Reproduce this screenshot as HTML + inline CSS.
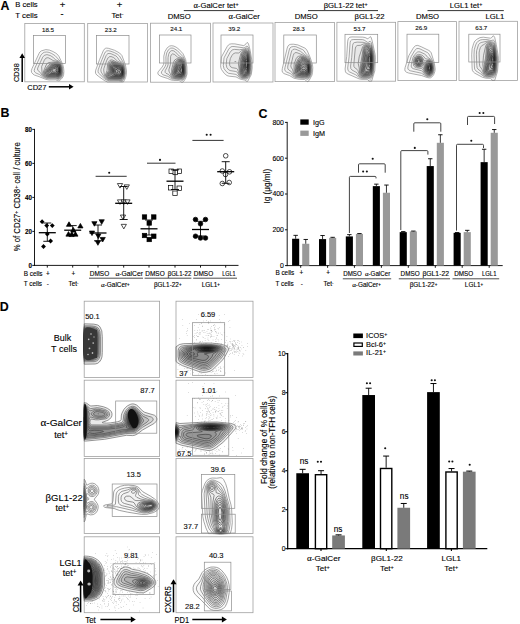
<!DOCTYPE html>
<html><head><meta charset="utf-8"><style>
html,body{margin:0;padding:0;background:#fff;width:520px;height:624px;overflow:hidden}
svg{display:block}
text{font-family:"Liberation Sans",sans-serif;stroke:#000;stroke-width:0.12px;stroke-linejoin:round}
</style></head><body>
<svg width="520" height="624" viewBox="0 0 520 624">
<rect width="520" height="624" fill="#fff"/>
<text x="0.6" y="9.6" font-size="12.4" text-anchor="start" font-weight="bold" fill="#000">A</text>
<text x="15.2" y="6.8" font-size="7.7" text-anchor="start" fill="#000" textLength="22.5" lengthAdjust="spacingAndGlyphs">B cells</text>
<text x="15.2" y="18" font-size="7.7" text-anchor="start" fill="#000" textLength="22.5" lengthAdjust="spacingAndGlyphs">T cells</text>
<text x="62.5" y="7.8" font-size="9.5" text-anchor="middle" fill="#000">+</text>
<text x="62.0" y="17" font-size="9" text-anchor="middle" fill="#000">-</text>
<text x="119.5" y="7.8" font-size="9.5" text-anchor="middle" fill="#000">+</text>
<text x="117.5" y="18" font-size="7.7" text-anchor="middle" fill="#000">Tet<tspan baseline-shift="35%" font-size="70%">-</tspan></text>
<text x="216" y="8" font-size="7.7" text-anchor="middle" fill="#000"><tspan font-family="Liberation Serif" font-size="110%">&#945;</tspan>-GalCer tet<tspan baseline-shift="35%" font-size="70%">+</tspan></text>
<line x1="183.8" y1="10.6" x2="253.8" y2="10.6" stroke="#000" stroke-width="0.8"/>
<text x="179.2" y="18.5" font-size="7.7" text-anchor="middle" fill="#000">DMSO</text>
<text x="244.2" y="18.5" font-size="7.7" text-anchor="middle" fill="#000"><tspan font-family="Liberation Serif" font-size="110%">&#945;</tspan>-GalCer</text>
<text x="345.6" y="8" font-size="7.7" text-anchor="middle" fill="#000">&#946;GL1-22 tet<tspan baseline-shift="35%" font-size="70%">+</tspan></text>
<line x1="308" y1="10.6" x2="378" y2="10.6" stroke="#000" stroke-width="0.8"/>
<text x="306.2" y="18.5" font-size="7.7" text-anchor="middle" fill="#000">DMSO</text>
<text x="369.6" y="18.5" font-size="7.7" text-anchor="middle" fill="#000">&#946;GL1-22</text>
<text x="466" y="8" font-size="7.7" text-anchor="middle" fill="#000">LGL1 tet<tspan baseline-shift="35%" font-size="70%">+</tspan></text>
<line x1="427.5" y1="10.6" x2="503.8" y2="10.6" stroke="#000" stroke-width="0.8"/>
<text x="427.5" y="18.5" font-size="7.7" text-anchor="middle" fill="#000">DMSO</text>
<text x="495" y="18.5" font-size="7.7" text-anchor="middle" fill="#000">LGL1</text>
<rect x="24.8" y="23.4" width="59.5" height="58.4" fill="none" stroke="#a0a0a0" stroke-width="0.8"/>
<path d="M59.2,80.8 58.1,80.8 55.5,79.9 49.1,80.0 45.8,79.4 39.0,76.6 34.5,75.1 33.0,74.1 31.7,72.6 31.3,70.8 32.0,68.6 39.0,53.5 39.9,52.0 41.3,50.9 45.8,49.6 49.5,50.1 52.9,51.5 55.9,53.2 57.6,54.6 59.0,56.5 62.8,64.5 63.6,68.2 63.9,71.5 63.6,74.8 62.9,77.0 61.1,79.3 59.2,80.8Z" fill="rgba(0,0,0,0.022)" stroke="#787878" stroke-width="0.6" stroke-linejoin="round"/>
<path d="M59.2,79.3 58.1,79.4 55.1,78.8 48.7,78.9 46.1,78.4 42.8,77.0 39.4,74.5 35.9,73.0 34.6,71.9 34.2,70.4 34.8,68.2 40.9,55.1 42.8,53.0 44.6,52.2 46.9,52.0 49.1,52.4 51.7,53.5 55.2,55.7 60.5,61.6 61.7,64.2 62.4,66.7 62.9,73.0 62.5,75.2 61.7,77.0 60.5,78.5 59.2,79.3Z" fill="rgba(0,0,0,0.022)" stroke="#717171" stroke-width="0.6" stroke-linejoin="round"/>
<path d="M59.2,78.5 58.1,78.6 55.1,78.1 48.7,78.2 45.8,77.6 42.3,75.6 40.1,72.3 37.8,70.4 37.5,68.9 38.1,67.1 42.7,57.2 44.3,55.3 46.9,54.6 50.2,55.5 52.9,57.1 55.5,59.8 58.9,61.1 60.3,62.7 61.8,66.7 62.3,72.6 61.4,76.3 60.4,77.7 59.2,78.5Z" fill="rgba(0,0,0,0.022)" stroke="#6a6a6a" stroke-width="0.6" stroke-linejoin="round"/>
<path d="M59.2,77.9 58.1,78.1 55.1,77.5 48.0,77.6 44.6,76.4 42.7,74.8 42.1,73.4 41.6,66.7 44.3,60.2 45.8,58.2 47.3,57.7 48.7,57.9 53.1,60.5 58.5,61.8 60.0,63.0 61.4,66.7 61.9,72.3 61.1,75.9 60.4,77.0 59.2,77.9Z" fill="rgba(0,0,0,0.022)" stroke="#646464" stroke-width="0.6" stroke-linejoin="round"/>
<path d="M58.9,77.4 55.1,77.0 48.0,77.0 45.4,76.1 43.7,74.8 43.1,73.4 43.3,71.9 46.2,64.9 47.6,63.0 48.7,62.6 53.6,62.0 58.1,62.4 59.6,63.4 61.0,66.7 61.5,72.3 60.7,75.6 60.0,76.7 58.9,77.4Z" fill="rgba(0,0,0,0.022)" stroke="#5d5d5d" stroke-width="0.6" stroke-linejoin="round"/>
<path d="M58.5,77.1 55.1,76.5 48.0,76.5 45.8,75.7 44.3,74.5 43.9,73.0 44.5,71.1 47.5,66.4 49.1,64.7 51.7,63.3 53.6,62.8 58.1,63.0 59.6,64.0 60.9,67.5 61.1,72.6 60.4,75.6 59.6,76.6 58.5,77.1Z" fill="rgba(0,0,0,0.022)" stroke="#565656" stroke-width="0.6" stroke-linejoin="round"/>
<path d="M58.1,76.7 55.1,76.1 48.4,76.1 46.1,75.3 44.9,74.1 44.7,73.0 45.0,71.9 47.3,68.3 49.5,65.7 52.1,64.0 54.0,63.4 58.1,63.5 59.2,64.1 60.0,65.3 60.9,69.3 60.8,73.4 59.7,75.9 58.1,76.7Z" fill="rgba(0,0,0,0.022)" stroke="#505050" stroke-width="0.6" stroke-linejoin="round"/>
<path d="M59.2,75.9 58.1,76.3 55.1,75.7 48.1,75.6 46.0,74.5 45.5,73.7 45.5,72.6 48.1,68.2 51.2,65.3 53.6,64.1 58.1,63.9 59.1,64.5 59.8,65.6 60.6,69.3 60.5,73.4 60.0,75.0 59.2,75.9Z" fill="rgba(0,0,0,0.022)" stroke="#494949" stroke-width="0.6" stroke-linejoin="round"/>
<path d="M58.9,75.7 57.7,75.8 55.1,75.2 48.4,75.1 46.6,74.1 46.2,73.4 46.3,72.3 48.9,68.2 51.7,65.6 54.0,64.6 58.1,64.4 58.9,64.8 59.7,66.0 60.5,70.0 60.2,73.7 59.6,75.1 58.9,75.7Z" fill="rgba(0,0,0,0.022)" stroke="#424242" stroke-width="0.6" stroke-linejoin="round"/>
<path d="M58.9,75.3 57.7,75.4 55.1,74.7 48.7,74.6 47.4,73.7 47.1,72.3 49.4,68.6 52.1,66.1 54.0,65.2 58.1,64.9 58.9,65.3 59.5,66.4 60.2,69.7 60.0,73.4 58.9,75.3Z" fill="rgba(0,0,0,0.022)" stroke="#3c3c3c" stroke-width="0.6" stroke-linejoin="round"/>
<path d="M58.9,74.9 57.7,75.0 55.1,74.2 49.5,74.1 48.3,73.4 48.1,71.9 49.9,68.9 52.5,66.6 54.0,65.9 58.1,65.3 58.9,65.8 59.4,66.7 60.0,69.7 59.9,73.0 58.9,74.9Z" fill="rgba(0,0,0,0.022)" stroke="#353535" stroke-width="0.6" stroke-linejoin="round"/>
<path d="M58.5,74.6 57.7,74.6 55.5,73.7 50.2,73.4 49.2,72.6 49.2,71.5 50.8,68.9 52.9,67.1 58.1,65.8 59.3,67.1 59.9,70.4 59.6,73.0 58.5,74.6Z" fill="rgba(0,0,0,0.022)" stroke="#2e2e2e" stroke-width="0.6" stroke-linejoin="round"/>
<path d="M58.5,74.1 57.7,74.1 55.5,73.1 52.5,73.0 51.0,72.6 50.4,71.9 50.7,70.4 51.8,68.9 53.2,67.8 58.1,66.4 59.2,67.8 59.6,70.0 59.4,72.6 58.5,74.1Z" fill="rgba(0,0,0,0.022)" stroke="#282828" stroke-width="0.6" stroke-linejoin="round"/>
<path d="M58.5,73.6 57.7,73.6 55.5,72.2 52.4,71.9 51.9,71.1 52.1,70.0 53.6,68.7 55.5,68.3 57.4,67.1 58.1,67.0 58.9,67.8 59.4,70.0 59.2,72.4 58.5,73.6Z" fill="rgba(0,0,0,0.022)" stroke="#212121" stroke-width="0.6" stroke-linejoin="round"/>
<path d="M58.1,73.0 56.9,72.3 55.9,70.4 56.5,68.9 57.7,67.7 58.6,68.2 59.1,70.0 58.9,72.3 58.1,73.0Z" fill="rgba(0,0,0,0.022)" stroke="#1a1a1a" stroke-width="0.6" stroke-linejoin="round"/>
<path d="M58.5,72.0 57.7,72.1 57.1,71.1 57.1,69.7 57.7,68.8 58.4,68.9 58.7,69.7 58.5,72.0Z" fill="rgba(0,0,0,0.022)" stroke="#141414" stroke-width="0.6" stroke-linejoin="round"/>
<rect x="33.4" y="35.4" width="32.00000000000001" height="28.0" fill="none" stroke="#8c8c8c" stroke-width="0.7"/>
<text x="48" y="31.599999999999998" font-size="6.2" text-anchor="middle" fill="#222">18.5</text>
<rect x="87.7" y="23.4" width="59.7" height="58.6" fill="none" stroke="#a0a0a0" stroke-width="0.8"/>
<path d="M123.0,82.0 107.4,82.0 104.2,80.4 98.6,76.4 96.7,74.9 95.7,73.5 95.4,72.0 95.7,70.2 99.6,59.5 103.3,50.7 104.2,49.3 105.3,48.4 106.5,48.1 108.4,48.3 114.4,50.2 119.6,53.0 121.9,55.5 125.4,64.7 126.5,70.9 126.3,74.6 125.6,77.6 124.3,80.5 123.4,82.0 123.0,82.0Z" fill="rgba(0,0,0,0.022)" stroke="#787878" stroke-width="0.6" stroke-linejoin="round"/>
<path d="M121.9,81.3 118.5,80.7 109.5,80.7 106.8,80.2 104.3,78.7 98.3,72.8 98.0,71.3 98.2,69.8 101.4,61.0 104.6,53.3 105.5,51.8 106.5,51.0 108.4,50.7 111.0,51.3 114.4,52.6 117.7,54.4 119.6,56.2 123.5,62.8 125.1,68.0 125.4,73.9 124.2,78.7 123.0,80.6 121.9,81.3Z" fill="rgba(0,0,0,0.022)" stroke="#717171" stroke-width="0.6" stroke-linejoin="round"/>
<path d="M122.2,80.2 121.1,80.5 118.1,80.0 109.9,80.0 107.2,79.5 105.7,78.7 104.6,77.6 101.1,72.0 100.8,69.8 102.3,65.0 106.0,55.8 106.8,54.5 107.9,53.6 109.1,53.4 111.0,53.7 115.9,55.9 117.4,57.3 119.5,60.6 121.9,62.2 123.2,63.9 124.6,68.4 124.9,73.2 124.1,77.6 123.4,79.1 122.2,80.2Z" fill="rgba(0,0,0,0.022)" stroke="#6a6a6a" stroke-width="0.6" stroke-linejoin="round"/>
<path d="M121.5,79.8 108.7,79.3 106.5,78.4 105.1,76.8 104.4,75.0 103.7,70.2 103.8,68.7 106.6,60.6 108.0,57.9 109.1,56.8 111.0,56.5 113.6,57.5 117.8,61.4 121.5,63.0 123.0,64.7 124.3,69.1 124.5,74.3 123.4,78.1 122.6,79.2 121.5,79.8Z" fill="rgba(0,0,0,0.022)" stroke="#646464" stroke-width="0.6" stroke-linejoin="round"/>
<path d="M121.9,79.1 109.1,78.8 107.2,78.1 106.0,76.8 105.5,74.6 107.0,70.6 107.6,64.3 108.4,62.1 109.9,60.4 111.4,59.9 112.9,60.2 118.3,62.8 121.5,63.9 122.6,65.0 123.8,68.4 124.2,73.2 123.5,76.8 122.7,78.3 121.9,79.1Z" fill="rgba(0,0,0,0.022)" stroke="#5d5d5d" stroke-width="0.6" stroke-linejoin="round"/>
<path d="M121.5,78.7 109.5,78.4 108.0,77.9 106.7,76.8 106.2,75.7 106.2,74.6 108.6,70.6 108.6,64.7 109.3,62.8 110.2,61.9 111.7,61.4 113.6,61.7 121.1,64.3 122.4,65.4 123.6,68.7 123.9,73.5 123.0,77.2 122.2,78.3 121.5,78.7Z" fill="rgba(0,0,0,0.022)" stroke="#565656" stroke-width="0.6" stroke-linejoin="round"/>
<path d="M121.1,78.4 109.9,78.0 108.4,77.5 107.2,76.6 106.9,75.4 107.1,74.3 109.5,70.6 109.4,65.0 109.9,63.7 110.6,62.8 112.1,62.3 114.0,62.5 121.1,64.8 122.3,65.8 123.4,69.1 123.7,73.5 122.9,76.8 122.2,77.8 121.1,78.4Z" fill="rgba(0,0,0,0.022)" stroke="#505050" stroke-width="0.6" stroke-linejoin="round"/>
<path d="M121.1,78.0 110.6,77.6 109.0,77.2 107.9,76.5 107.6,75.7 107.7,74.6 110.2,70.9 110.1,65.4 110.6,63.9 111.4,63.3 112.9,63.0 114.7,63.3 121.1,65.4 122.2,66.4 123.3,69.5 123.5,73.5 122.6,76.8 121.9,77.7 121.1,78.0Z" fill="rgba(0,0,0,0.022)" stroke="#494949" stroke-width="0.6" stroke-linejoin="round"/>
<path d="M120.7,77.6 111.0,77.1 109.5,76.8 108.6,76.1 108.5,74.6 110.8,70.9 110.6,65.8 111.0,64.7 111.6,63.9 112.9,63.6 115.1,64.0 121.1,65.9 122.2,66.9 123.2,70.2 123.2,73.9 122.2,76.8 121.5,77.5 120.7,77.6Z" fill="rgba(0,0,0,0.022)" stroke="#424242" stroke-width="0.6" stroke-linejoin="round"/>
<path d="M121.5,77.0 112.5,76.8 110.5,76.5 109.4,75.7 109.4,74.6 111.3,71.3 111.2,66.2 112.1,64.5 113.2,64.2 115.1,64.5 120.7,66.2 121.9,67.0 122.8,69.5 123.1,72.8 122.6,75.5 121.5,77.0Z" fill="rgba(0,0,0,0.022)" stroke="#3c3c3c" stroke-width="0.6" stroke-linejoin="round"/>
<path d="M121.5,76.6 113.6,76.4 111.7,76.1 110.5,75.4 110.4,74.6 111.9,71.3 111.7,66.5 112.5,65.1 113.6,64.8 115.5,65.1 120.7,66.7 121.9,67.6 122.7,69.8 122.9,72.8 122.5,75.0 121.5,76.6Z" fill="rgba(0,0,0,0.022)" stroke="#353535" stroke-width="0.6" stroke-linejoin="round"/>
<path d="M121.5,76.1 120.7,76.3 118.9,76.0 114.4,76.0 112.9,75.7 111.7,75.0 111.6,74.3 112.5,70.9 112.3,66.9 112.9,65.8 114.0,65.4 115.5,65.6 121.5,67.7 122.4,69.5 122.7,72.4 122.4,74.6 121.5,76.1Z" fill="rgba(0,0,0,0.022)" stroke="#2e2e2e" stroke-width="0.6" stroke-linejoin="round"/>
<path d="M121.1,75.8 118.9,75.4 114.7,75.4 112.9,74.6 112.6,73.9 113.0,70.9 112.9,67.6 113.6,66.3 115.9,66.2 121.5,68.4 122.3,70.2 122.5,72.8 122.0,75.0 121.1,75.8Z" fill="rgba(0,0,0,0.022)" stroke="#282828" stroke-width="0.6" stroke-linejoin="round"/>
<path d="M121.5,75.1 120.7,75.3 118.9,74.7 115.9,75.0 114.0,74.3 113.5,72.8 113.6,68.4 114.0,67.3 114.7,66.9 115.9,66.9 118.9,68.4 120.7,68.5 121.5,69.1 122.1,70.6 122.3,72.4 122.1,73.9 121.5,75.1Z" fill="rgba(0,0,0,0.022)" stroke="#212121" stroke-width="0.6" stroke-linejoin="round"/>
<path d="M121.1,74.7 118.9,73.8 116.2,74.2 114.7,73.5 114.4,72.4 114.3,69.8 114.9,68.0 115.5,67.8 116.6,67.9 119.2,69.6 121.1,69.5 121.9,70.8 122.0,72.4 121.7,73.9 121.1,74.7Z" fill="rgba(0,0,0,0.022)" stroke="#1a1a1a" stroke-width="0.6" stroke-linejoin="round"/>
<path d="M117.4,72.9 116.2,73.1 115.5,72.3 115.3,70.2 115.9,69.2 117.0,69.4 118.0,70.9 118.1,72.0 117.4,72.9ZM121.1,73.8 120.2,73.5 119.6,72.0 119.9,70.9 120.7,70.3 121.2,70.6 121.6,71.7 121.5,73.2 121.1,73.8Z" fill="rgba(0,0,0,0.022)" stroke="#141414" stroke-width="0.6" stroke-linejoin="round"/>
<rect x="96.6" y="35.5" width="32.400000000000006" height="28.5" fill="none" stroke="#8c8c8c" stroke-width="0.7"/>
<text x="110.8" y="31.599999999999998" font-size="6.2" text-anchor="middle" fill="#222">23.2</text>
<rect x="150.5" y="23.2" width="60.0" height="59.0" fill="none" stroke="#a0a0a0" stroke-width="0.8"/>
<path d="M182.6,82.2 181.6,82.2 180.2,81.1 178.8,80.5 173.5,80.4 170.9,79.9 167.7,78.5 161.1,76.4 158.8,75.1 158.0,74.0 157.8,72.9 158.2,71.8 162.2,67.0 163.6,64.4 163.9,62.5 163.8,56.2 165.0,51.4 167.3,47.7 169.7,46.0 171.6,45.7 173.9,46.1 176.2,47.2 178.9,49.2 183.0,53.7 185.7,59.6 186.9,67.0 187.0,74.0 185.8,78.1 183.7,81.4 182.6,82.2Z" fill="rgba(0,0,0,0.022)" stroke="#787878" stroke-width="0.6" stroke-linejoin="round"/>
<path d="M182.2,80.4 179.2,79.5 174.3,79.3 172.0,79.0 167.9,76.4 163.0,74.8 161.4,73.3 161.5,71.8 164.8,67.0 165.8,64.8 166.0,62.5 165.9,57.0 166.7,52.9 168.3,49.9 170.5,48.2 172.0,48.0 173.5,48.3 177.3,50.6 183.0,56.6 185.0,60.3 185.9,65.5 186.1,73.7 185.7,75.9 184.7,78.1 183.3,79.9 182.2,80.4Z" fill="rgba(0,0,0,0.022)" stroke="#717171" stroke-width="0.6" stroke-linejoin="round"/>
<path d="M182.6,79.3 172.4,78.2 170.9,77.2 168.6,74.5 166.0,73.3 165.0,72.2 165.2,70.7 167.2,67.0 168.0,64.8 168.0,57.7 168.6,54.4 169.7,51.9 171.3,50.7 173.1,50.6 175.4,51.9 179.2,56.0 183.0,58.1 184.3,60.3 185.3,65.5 185.6,72.9 184.6,77.0 183.7,78.5 182.6,79.3Z" fill="rgba(0,0,0,0.022)" stroke="#6a6a6a" stroke-width="0.6" stroke-linejoin="round"/>
<path d="M182.6,78.7 174.7,78.1 172.4,77.4 171.0,75.9 170.1,73.3 168.9,71.1 168.9,69.6 170.4,64.4 170.6,56.6 171.3,54.8 172.4,53.9 174.3,54.3 177.7,57.2 182.2,58.4 183.3,59.5 184.0,60.7 185.0,65.9 185.2,72.9 184.3,76.6 183.7,77.7 182.6,78.7Z" fill="rgba(0,0,0,0.022)" stroke="#646464" stroke-width="0.6" stroke-linejoin="round"/>
<path d="M182.2,78.1 173.9,77.3 172.6,76.6 171.7,75.1 171.7,69.2 173.4,62.5 174.7,60.0 176.5,58.9 178.8,58.7 181.8,59.0 183.0,59.9 183.9,61.8 184.7,67.0 184.8,73.3 183.9,76.6 183.0,77.7 182.2,78.1Z" fill="rgba(0,0,0,0.022)" stroke="#5d5d5d" stroke-width="0.6" stroke-linejoin="round"/>
<path d="M182.6,77.5 181.4,77.7 174.7,76.9 173.2,76.3 172.5,75.1 172.3,73.3 172.7,70.0 174.1,64.8 175.9,61.0 176.9,60.1 178.0,59.6 181.8,59.6 183.0,60.6 183.8,62.5 184.5,67.4 184.6,72.6 183.9,75.9 182.6,77.5Z" fill="rgba(0,0,0,0.022)" stroke="#565656" stroke-width="0.6" stroke-linejoin="round"/>
<path d="M182.6,77.0 181.4,77.3 175.0,76.5 173.7,75.9 173.0,74.8 173.4,70.3 174.9,65.1 176.8,61.4 177.7,60.6 178.8,60.1 181.1,60.0 182.2,60.4 183.0,61.4 183.7,63.3 184.3,67.7 184.3,72.6 183.7,75.5 182.6,77.0Z" fill="rgba(0,0,0,0.022)" stroke="#505050" stroke-width="0.6" stroke-linejoin="round"/>
<path d="M182.2,76.8 175.4,76.1 174.3,75.5 173.6,74.0 174.4,68.8 176.3,63.6 177.8,61.4 179.9,60.5 181.4,60.6 182.6,61.3 183.3,62.9 183.8,65.5 184.2,70.0 184.0,73.3 183.3,75.6 182.2,76.8Z" fill="rgba(0,0,0,0.022)" stroke="#494949" stroke-width="0.6" stroke-linejoin="round"/>
<path d="M182.2,76.4 181.1,76.5 175.8,75.7 174.7,75.0 174.2,73.7 174.9,69.2 176.8,64.0 178.4,61.8 180.3,61.1 181.8,61.3 182.6,62.0 183.7,66.2 183.8,73.3 183.2,75.1 182.2,76.4Z" fill="rgba(0,0,0,0.022)" stroke="#424242" stroke-width="0.6" stroke-linejoin="round"/>
<path d="M182.2,75.9 181.1,76.1 176.2,75.2 175.1,74.4 174.8,73.3 175.4,69.2 177.3,64.4 178.8,62.4 180.7,61.6 181.8,61.8 182.6,62.7 183.6,67.0 183.6,72.9 183.1,74.8 182.2,75.9Z" fill="rgba(0,0,0,0.022)" stroke="#3c3c3c" stroke-width="0.6" stroke-linejoin="round"/>
<path d="M181.8,75.6 176.5,74.7 175.7,74.0 175.4,72.9 176.0,69.2 177.7,65.2 179.2,63.1 181.1,62.2 181.8,62.5 182.6,63.6 183.5,68.8 183.2,73.7 182.6,75.1 181.8,75.6Z" fill="rgba(0,0,0,0.022)" stroke="#353535" stroke-width="0.6" stroke-linejoin="round"/>
<path d="M181.8,75.2 177.3,74.2 176.5,73.7 176.1,72.6 176.4,70.0 177.7,66.6 179.4,64.0 181.1,62.9 181.8,63.2 182.6,64.5 183.3,68.8 183.1,73.3 182.6,74.5 181.8,75.2Z" fill="rgba(0,0,0,0.022)" stroke="#2e2e2e" stroke-width="0.6" stroke-linejoin="round"/>
<path d="M181.8,74.6 181.1,74.7 177.9,73.7 177.3,73.2 176.8,72.2 177.0,70.3 178.0,67.8 179.9,64.8 181.1,63.8 181.8,64.1 182.3,64.8 183.1,68.8 183.0,72.6 182.6,73.8 181.8,74.6Z" fill="rgba(0,0,0,0.022)" stroke="#282828" stroke-width="0.6" stroke-linejoin="round"/>
<path d="M181.8,74.1 180.8,74.0 178.7,72.9 178.0,72.3 177.8,71.4 178.2,70.0 180.0,66.2 180.7,65.1 181.4,64.8 182.4,66.2 182.9,69.6 182.7,72.6 181.8,74.1Z" fill="rgba(0,0,0,0.022)" stroke="#212121" stroke-width="0.6" stroke-linejoin="round"/>
<path d="M181.8,73.3 181.1,73.4 180.4,72.9 179.4,71.1 180.3,67.4 181.4,66.0 182.2,66.9 182.6,69.2 182.5,71.8 181.8,73.3Z" fill="rgba(0,0,0,0.022)" stroke="#1a1a1a" stroke-width="0.6" stroke-linejoin="round"/>
<path d="M181.8,72.3 181.4,72.5 180.9,72.2 180.4,70.7 180.7,68.8 181.4,67.5 181.8,67.7 182.2,69.2 182.2,71.2 181.8,72.3Z" fill="rgba(0,0,0,0.022)" stroke="#141414" stroke-width="0.6" stroke-linejoin="round"/>
<rect x="159.5" y="35" width="31.5" height="28" fill="none" stroke="#8c8c8c" stroke-width="0.7"/>
<text x="176.3" y="31.4" font-size="6.2" text-anchor="middle" fill="#222">24.1</text>
<rect x="213" y="23.0" width="60" height="59.0" fill="none" stroke="#a0a0a0" stroke-width="0.8"/>
<path d="M247.7,81.3 247.0,81.5 244.7,80.1 240.2,79.1 236.0,76.9 229.2,76.2 227.0,75.6 224.4,73.5 221.4,69.4 220.8,67.5 220.6,65.7 221.4,57.1 227.1,46.7 228.5,44.9 229.6,44.2 231.5,43.8 234.9,43.9 243.6,45.6 244.7,45.2 247.0,42.5 247.7,42.7 248.5,43.9 250.2,50.5 252.0,61.2 252.2,67.9 251.3,74.6 247.7,81.3Z" fill="rgba(0,0,0,0.022)" stroke="#787878" stroke-width="0.6" stroke-linejoin="round"/>
<path d="M247.3,79.0 246.2,79.2 240.5,78.1 236.0,74.4 228.5,73.3 226.2,71.6 224.0,68.6 223.3,65.7 224.0,57.9 228.6,49.3 230.7,46.9 232.2,46.5 234.1,46.5 243.6,47.8 244.7,47.5 247.0,46.0 248.1,47.0 249.4,50.8 250.2,54.9 251.2,62.7 251.3,67.5 251.0,71.6 250.3,74.6 248.8,77.5 247.3,79.0Z" fill="rgba(0,0,0,0.022)" stroke="#717171" stroke-width="0.6" stroke-linejoin="round"/>
<path d="M247.3,78.0 246.2,78.2 243.9,78.1 240.9,77.4 239.3,76.1 237.5,72.7 236.8,71.9 235.3,71.4 230.0,70.6 228.2,69.4 226.8,67.5 226.2,64.6 226.8,58.6 230.1,52.3 232.2,49.9 234.5,49.4 239.4,49.8 244.3,49.0 246.6,48.0 247.3,48.2 248.1,49.1 249.1,51.9 249.8,56.0 250.6,62.3 250.7,67.5 249.8,74.2 248.8,76.4 247.3,78.0Z" fill="rgba(0,0,0,0.022)" stroke="#6a6a6a" stroke-width="0.6" stroke-linejoin="round"/>
<path d="M246.2,77.6 242.8,77.4 240.5,76.4 239.5,74.9 237.5,69.3 236.4,68.4 232.2,67.7 230.7,66.9 229.7,65.3 229.5,62.7 230.3,58.6 231.9,55.6 233.4,53.7 235.3,52.9 238.7,53.0 241.9,50.5 246.6,49.2 247.3,49.5 248.1,50.5 249.0,53.4 250.2,61.6 250.3,66.4 250.0,70.9 249.4,74.2 248.1,76.5 247.3,77.2 246.2,77.6Z" fill="rgba(0,0,0,0.022)" stroke="#646464" stroke-width="0.6" stroke-linejoin="round"/>
<path d="M246.6,76.9 242.8,76.8 241.3,76.1 240.5,75.3 239.6,72.7 238.4,63.8 239.6,57.9 241.2,52.7 242.8,51.1 246.2,50.2 247.5,50.8 248.5,53.1 249.5,58.6 249.9,64.2 249.8,69.4 249.2,73.5 248.1,75.7 246.6,76.9ZM235.3,62.0 235.0,61.6 235.3,61.1 235.7,61.6 235.3,62.0Z" fill="rgba(0,0,0,0.022)" stroke="#5d5d5d" stroke-width="0.6" stroke-linejoin="round"/>
<path d="M246.2,76.5 242.8,76.3 241.7,75.8 240.9,74.9 240.2,72.7 239.7,66.8 240.4,59.7 241.8,53.4 243.2,51.8 246.2,50.9 247.3,51.4 248.4,53.8 249.4,60.1 249.7,64.6 249.5,69.4 248.9,73.1 247.7,75.6 246.2,76.5Z" fill="rgba(0,0,0,0.022)" stroke="#565656" stroke-width="0.6" stroke-linejoin="round"/>
<path d="M245.5,76.1 242.8,75.8 241.3,74.5 240.6,72.0 240.4,66.8 241.2,59.7 242.3,54.2 243.6,52.4 246.2,51.6 247.4,52.3 248.4,55.3 249.3,61.6 249.4,66.8 249.0,71.2 248.4,73.8 247.3,75.4 245.5,76.1Z" fill="rgba(0,0,0,0.022)" stroke="#505050" stroke-width="0.6" stroke-linejoin="round"/>
<path d="M246.6,75.4 243.9,75.6 242.1,74.7 241.2,72.7 241.0,69.0 241.5,62.3 242.8,54.9 243.9,53.0 246.2,52.2 247.3,53.0 248.1,55.1 249.2,63.8 249.0,68.6 248.5,72.4 247.7,74.4 246.6,75.4Z" fill="rgba(0,0,0,0.022)" stroke="#494949" stroke-width="0.6" stroke-linejoin="round"/>
<path d="M246.2,75.0 243.9,75.1 242.4,74.2 241.7,72.4 241.5,68.6 242.0,62.3 243.2,55.9 244.3,53.8 246.2,52.9 247.3,53.9 248.0,56.0 249.0,64.2 248.8,69.0 248.2,72.4 247.4,74.2 246.2,75.0Z" fill="rgba(0,0,0,0.022)" stroke="#424242" stroke-width="0.6" stroke-linejoin="round"/>
<path d="M245.8,74.6 243.9,74.5 242.6,73.5 242.1,71.6 242.0,68.6 242.6,62.3 243.6,56.8 244.7,54.5 246.2,53.7 247.2,54.5 247.9,56.8 248.6,61.2 248.8,64.9 248.5,69.0 247.9,72.4 247.0,74.1 245.8,74.6Z" fill="rgba(0,0,0,0.022)" stroke="#3c3c3c" stroke-width="0.6" stroke-linejoin="round"/>
<path d="M246.2,74.0 244.3,73.9 243.2,73.1 242.7,71.6 242.6,69.0 243.1,63.1 243.9,58.2 244.9,55.7 246.2,54.6 247.0,55.1 247.7,57.1 248.6,64.2 247.9,71.2 247.3,72.9 246.2,74.0Z" fill="rgba(0,0,0,0.022)" stroke="#353535" stroke-width="0.6" stroke-linejoin="round"/>
<path d="M246.6,73.1 245.5,73.4 243.9,72.7 243.4,71.6 243.2,69.4 244.2,59.7 245.1,56.8 246.2,55.6 247.0,56.2 247.6,57.9 248.4,63.4 247.9,69.8 247.3,72.0 246.6,73.1Z" fill="rgba(0,0,0,0.022)" stroke="#2e2e2e" stroke-width="0.6" stroke-linejoin="round"/>
<path d="M246.2,72.5 245.1,72.4 244.3,71.6 243.9,68.3 244.6,60.5 245.4,57.9 246.2,56.8 247.0,57.2 247.5,58.6 248.1,64.2 247.6,69.8 247.0,71.8 246.2,72.5Z" fill="rgba(0,0,0,0.022)" stroke="#282828" stroke-width="0.6" stroke-linejoin="round"/>
<path d="M246.2,71.5 245.5,71.3 244.8,70.1 244.6,66.4 245.3,60.1 245.8,58.5 246.6,58.0 247.3,59.4 247.7,60.8 247.9,64.9 247.3,69.6 246.2,71.5Z" fill="rgba(0,0,0,0.022)" stroke="#212121" stroke-width="0.6" stroke-linejoin="round"/>
<path d="M246.6,69.8 245.8,69.8 245.5,69.0 245.2,65.7 245.6,61.2 246.1,59.7 246.6,59.3 247.3,60.9 247.6,63.8 247.3,67.8 246.6,69.8Z" fill="rgba(0,0,0,0.022)" stroke="#1a1a1a" stroke-width="0.6" stroke-linejoin="round"/>
<path d="M246.6,67.9 246.2,67.9 245.9,67.2 245.7,64.6 245.9,62.3 246.6,61.0 247.0,61.6 247.3,63.8 247.0,66.8 246.6,67.9Z" fill="rgba(0,0,0,0.022)" stroke="#141414" stroke-width="0.6" stroke-linejoin="round"/>
<rect x="221" y="35" width="32" height="28" fill="none" stroke="#8c8c8c" stroke-width="0.7"/>
<text x="234.3" y="31.2" font-size="6.2" text-anchor="middle" fill="#222">39.2</text>
<rect x="275" y="22.4" width="59.39999999999998" height="59.199999999999996" fill="none" stroke="#a0a0a0" stroke-width="0.8"/>
<path d="M307.9,81.6 307.1,81.6 305.6,80.1 304.5,79.5 299.3,79.3 294.1,78.3 289.6,75.6 284.0,73.6 282.5,72.3 282.1,70.8 282.3,68.6 287.2,48.1 288.0,45.9 289.2,44.8 290.7,44.3 293.3,44.2 297.8,44.9 304.9,48.1 306.2,49.2 307.4,51.1 310.3,57.8 312.5,64.8 312.8,67.8 312.5,72.7 311.9,75.3 309.0,80.7 307.9,81.6Z" fill="rgba(0,0,0,0.022)" stroke="#787878" stroke-width="0.6" stroke-linejoin="round"/>
<path d="M307.5,79.4 304.9,78.4 300.4,78.3 294.8,77.3 293.2,76.4 290.3,73.6 286.4,71.9 285.1,70.8 284.7,69.3 285.0,67.5 289.2,50.0 289.9,48.0 291.1,47.0 293.3,46.5 295.9,46.7 302.6,49.6 304.1,50.8 305.7,53.3 307.9,55.5 309.0,57.2 311.4,64.5 311.8,69.7 311.4,73.4 310.8,75.6 309.0,78.5 307.5,79.4Z" fill="rgba(0,0,0,0.022)" stroke="#717171" stroke-width="0.6" stroke-linejoin="round"/>
<path d="M307.5,78.3 304.9,77.6 298.9,77.4 295.2,76.6 293.4,75.3 291.4,71.7 288.8,70.0 287.9,68.9 287.7,67.8 287.8,66.0 291.1,52.9 291.8,50.7 292.9,49.5 294.4,49.1 295.9,49.3 300.4,51.2 304.7,54.8 307.5,56.6 308.9,58.5 311.0,65.2 311.1,70.4 310.3,75.3 309.0,77.4 307.5,78.3Z" fill="rgba(0,0,0,0.022)" stroke="#6a6a6a" stroke-width="0.6" stroke-linejoin="round"/>
<path d="M307.5,77.5 304.9,77.0 301.2,77.1 297.0,76.5 295.2,75.8 293.9,74.5 292.6,69.7 291.0,67.1 290.8,65.6 293.2,55.5 294.0,53.7 294.8,52.8 295.9,52.6 297.0,52.7 302.6,54.9 307.1,57.3 308.6,59.2 310.6,65.2 310.7,70.1 310.0,74.9 308.8,76.8 307.5,77.5Z" fill="rgba(0,0,0,0.022)" stroke="#646464" stroke-width="0.6" stroke-linejoin="round"/>
<path d="M307.9,76.8 298.2,76.1 295.9,75.4 294.6,74.2 294.1,71.5 294.0,66.0 294.2,63.7 296.2,58.5 297.0,57.3 298.5,56.3 301.2,55.8 303.8,56.5 307.1,58.3 308.7,60.4 310.2,65.2 310.4,69.7 309.7,74.5 308.8,76.0 307.9,76.8Z" fill="rgba(0,0,0,0.022)" stroke="#5d5d5d" stroke-width="0.6" stroke-linejoin="round"/>
<path d="M307.1,76.4 304.9,76.0 301.2,76.0 297.8,75.5 295.9,74.7 295.1,73.4 295.0,68.6 295.8,63.7 298.1,58.9 299.3,57.6 300.4,56.9 303.0,56.9 306.8,58.7 308.2,60.4 309.2,62.6 310.1,67.1 309.9,72.3 308.9,75.3 308.2,76.0 307.1,76.4Z" fill="rgba(0,0,0,0.022)" stroke="#565656" stroke-width="0.6" stroke-linejoin="round"/>
<path d="M307.9,75.8 307.1,76.0 304.9,75.5 301.5,75.6 298.9,75.3 296.8,74.5 295.8,73.4 295.5,70.4 296.5,64.5 298.8,59.6 300.8,57.7 303.0,57.6 306.0,59.0 307.5,60.1 308.8,62.2 309.8,66.0 309.8,70.1 309.3,73.8 308.6,75.1 307.9,75.8Z" fill="rgba(0,0,0,0.022)" stroke="#505050" stroke-width="0.6" stroke-linejoin="round"/>
<path d="M307.9,75.3 307.1,75.5 304.9,75.0 299.3,74.8 297.4,74.2 296.4,73.0 296.1,70.1 297.1,64.8 299.2,60.4 301.2,58.4 303.4,58.3 306.4,59.9 307.5,60.7 308.6,62.6 309.5,66.0 309.6,69.7 309.1,73.4 307.9,75.3Z" fill="rgba(0,0,0,0.022)" stroke="#494949" stroke-width="0.6" stroke-linejoin="round"/>
<path d="M307.5,75.0 304.5,74.5 299.7,74.4 298.0,73.8 297.0,72.7 296.8,69.7 297.7,65.2 299.7,61.0 301.5,59.1 303.4,59.0 306.8,60.8 307.9,61.9 308.6,63.4 309.4,66.7 309.3,70.8 308.7,73.8 307.5,75.0Z" fill="rgba(0,0,0,0.022)" stroke="#424242" stroke-width="0.6" stroke-linejoin="round"/>
<path d="M307.5,74.6 304.5,74.0 300.0,73.9 298.5,73.3 297.6,72.3 297.4,69.4 298.3,65.2 300.2,61.5 301.9,59.8 303.4,59.8 306.8,61.5 307.9,62.5 308.6,64.1 309.2,67.1 309.1,70.8 308.5,73.4 307.5,74.6Z" fill="rgba(0,0,0,0.022)" stroke="#3c3c3c" stroke-width="0.6" stroke-linejoin="round"/>
<path d="M307.1,74.2 304.9,73.5 300.0,73.3 298.9,72.7 298.2,71.6 298.1,68.9 298.9,65.5 300.8,61.9 302.3,60.6 303.4,60.7 307.1,62.4 308.5,64.5 309.0,67.5 308.8,71.2 308.2,73.3 307.1,74.2Z" fill="rgba(0,0,0,0.022)" stroke="#353535" stroke-width="0.6" stroke-linejoin="round"/>
<path d="M307.5,73.6 306.8,73.7 304.5,72.8 300.8,72.8 299.7,72.2 298.9,71.2 298.8,68.9 299.4,66.0 300.8,63.3 302.3,61.8 303.4,61.8 305.2,62.6 306.8,62.8 307.5,63.4 308.2,64.5 308.7,66.7 308.8,69.7 308.4,72.3 307.5,73.6Z" fill="rgba(0,0,0,0.022)" stroke="#2e2e2e" stroke-width="0.6" stroke-linejoin="round"/>
<path d="M307.1,73.2 304.5,72.1 301.2,72.1 299.7,70.8 299.5,68.9 300.0,66.5 301.2,64.3 302.3,63.2 303.4,63.1 304.9,63.7 306.8,63.6 307.9,64.6 308.5,66.7 308.6,69.7 308.0,72.3 307.1,73.2Z" fill="rgba(0,0,0,0.022)" stroke="#282828" stroke-width="0.6" stroke-linejoin="round"/>
<path d="M307.5,72.3 306.8,72.5 304.5,71.2 301.9,71.3 300.8,70.5 300.4,69.3 300.7,67.5 301.3,66.0 302.3,64.8 303.0,64.6 304.9,65.0 306.8,64.3 307.5,64.8 308.2,66.3 308.4,68.6 308.1,70.8 307.5,72.3Z" fill="rgba(0,0,0,0.022)" stroke="#212121" stroke-width="0.6" stroke-linejoin="round"/>
<path d="M307.1,71.7 306.4,71.5 304.5,69.4 303.0,70.0 302.0,69.7 301.7,68.6 302.3,67.1 303.0,66.7 304.5,67.1 306.4,65.3 307.1,65.3 307.5,65.6 307.9,66.7 308.1,68.9 307.8,70.8 307.1,71.7Z" fill="rgba(0,0,0,0.022)" stroke="#1a1a1a" stroke-width="0.6" stroke-linejoin="round"/>
<path d="M307.1,70.6 306.4,70.2 305.9,68.6 306.2,67.1 306.8,66.3 307.5,66.8 307.7,67.8 307.6,69.7 307.1,70.6Z" fill="rgba(0,0,0,0.022)" stroke="#141414" stroke-width="0.6" stroke-linejoin="round"/>
<rect x="283.8" y="35" width="32.5" height="28" fill="none" stroke="#8c8c8c" stroke-width="0.7"/>
<text x="298.8" y="30.599999999999998" font-size="6.2" text-anchor="middle" fill="#222">28.3</text>
<rect x="336.9" y="22.3" width="58.700000000000045" height="58.900000000000006" fill="none" stroke="#a0a0a0" stroke-width="0.8"/>
<path d="M371.6,81.2 368.9,81.2 368.3,80.0 367.2,79.4 362.0,79.4 359.1,78.9 348.0,74.0 346.4,73.1 345.5,71.9 345.1,69.0 346.7,56.4 347.7,41.2 348.3,38.6 349.8,37.2 352.0,36.9 362.7,37.1 365.0,37.5 367.5,38.7 368.3,38.5 370.1,36.6 370.9,37.0 371.2,37.6 372.1,40.5 375.1,54.5 375.4,57.9 374.8,70.8 371.6,81.2Z" fill="rgba(0,0,0,0.022)" stroke="#787878" stroke-width="0.6" stroke-linejoin="round"/>
<path d="M370.5,79.1 367.5,78.3 362.4,78.4 359.8,77.9 355.7,74.8 349.5,71.9 348.0,70.5 347.7,67.9 349.1,56.8 350.1,42.7 350.6,40.8 351.7,39.8 353.9,39.5 362.4,39.6 364.2,40.1 367.5,42.3 368.3,42.3 370.1,41.2 371.2,42.4 372.4,46.4 374.3,55.3 374.4,61.6 373.6,71.9 372.1,76.8 371.2,78.5 370.5,79.1Z" fill="rgba(0,0,0,0.022)" stroke="#717171" stroke-width="0.6" stroke-linejoin="round"/>
<path d="M370.5,77.7 362.7,77.7 360.2,77.1 358.8,76.0 356.8,72.7 352.1,70.1 350.8,68.6 350.6,66.0 351.7,57.5 352.6,45.6 353.1,43.5 354.3,42.6 357.2,42.1 363.1,42.3 367.5,43.6 370.1,43.4 371.2,44.7 372.1,47.5 373.7,54.9 373.9,61.6 373.2,71.2 371.9,75.6 370.5,77.7Z" fill="rgba(0,0,0,0.022)" stroke="#6a6a6a" stroke-width="0.6" stroke-linejoin="round"/>
<path d="M363.9,77.1 361.3,76.8 359.6,75.6 357.9,70.5 357.2,69.5 354.5,67.5 353.9,66.4 353.8,64.9 355.2,49.0 355.8,46.7 357.2,45.5 360.5,45.3 363.1,44.1 364.6,43.8 369.8,44.6 370.5,45.0 371.2,46.0 373.3,54.9 373.4,61.9 372.9,70.5 371.2,75.9 370.5,76.7 369.8,77.0 363.9,77.1Z" fill="rgba(0,0,0,0.022)" stroke="#646464" stroke-width="0.6" stroke-linejoin="round"/>
<path d="M366.1,76.4 362.0,76.3 360.9,75.8 360.2,75.0 359.6,73.4 359.2,67.9 358.2,63.4 359.2,56.8 362.5,47.1 363.5,45.6 365.3,44.9 369.8,45.6 370.9,46.7 372.5,52.7 373.1,57.9 372.7,69.3 371.6,73.9 370.9,75.4 370.1,76.1 366.1,76.4Z" fill="rgba(0,0,0,0.022)" stroke="#5d5d5d" stroke-width="0.6" stroke-linejoin="round"/>
<path d="M365.3,76.0 362.7,76.0 361.2,75.3 360.4,73.8 360.2,71.2 360.5,65.3 363.2,48.6 364.1,46.4 365.7,45.6 369.8,46.4 370.9,47.7 372.5,54.5 372.8,60.5 372.3,69.7 371.1,74.2 369.8,75.6 365.3,76.0Z" fill="rgba(0,0,0,0.022)" stroke="#565656" stroke-width="0.6" stroke-linejoin="round"/>
<path d="M368.3,75.3 364.6,75.6 362.4,75.3 361.3,74.3 360.9,72.7 361.2,66.8 362.2,61.6 363.8,49.3 364.6,47.1 366.1,46.3 369.4,47.0 370.5,48.0 371.6,51.2 372.5,56.4 372.5,63.4 371.8,71.2 370.5,74.4 369.8,75.0 368.3,75.3Z" fill="rgba(0,0,0,0.022)" stroke="#505050" stroke-width="0.6" stroke-linejoin="round"/>
<path d="M366.8,74.9 364.2,75.1 362.7,74.8 361.8,73.8 361.4,71.9 361.8,67.1 362.8,61.9 364.3,50.5 365.1,47.9 366.4,47.1 369.4,47.7 370.5,48.9 371.8,53.4 372.3,58.2 372.0,68.2 371.2,72.1 370.5,73.7 369.8,74.4 366.8,74.9Z" fill="rgba(0,0,0,0.022)" stroke="#494949" stroke-width="0.6" stroke-linejoin="round"/>
<path d="M366.1,74.5 364.0,74.5 362.7,74.0 362.1,72.7 362.0,70.8 362.4,67.1 363.5,61.6 364.7,51.6 365.5,49.0 366.1,48.3 366.8,48.1 369.5,48.6 370.9,50.7 372.0,55.6 372.1,61.9 371.6,69.0 370.8,72.3 369.4,74.0 366.1,74.5Z" fill="rgba(0,0,0,0.022)" stroke="#424242" stroke-width="0.6" stroke-linejoin="round"/>
<path d="M367.2,73.8 365.0,74.0 363.5,73.6 362.7,72.3 362.6,70.1 364.1,61.9 365.5,51.6 366.4,49.7 368.6,49.3 369.4,49.4 370.1,50.1 371.4,53.8 371.9,57.5 371.8,63.8 371.3,69.3 370.6,71.9 369.4,73.3 367.2,73.8Z" fill="rgba(0,0,0,0.022)" stroke="#3c3c3c" stroke-width="0.6" stroke-linejoin="round"/>
<path d="M365.7,73.4 364.2,73.1 363.5,72.3 363.2,70.8 363.4,68.2 364.7,62.3 365.2,57.1 366.1,52.8 367.2,51.0 369.0,50.3 369.8,50.5 370.5,51.6 371.6,56.0 371.7,61.9 371.2,68.6 370.7,70.8 369.8,72.3 365.7,73.4Z" fill="rgba(0,0,0,0.022)" stroke="#353535" stroke-width="0.6" stroke-linejoin="round"/>
<path d="M367.2,72.4 365.7,72.7 364.6,72.3 364.0,71.2 364.0,69.0 365.4,62.7 366.6,54.5 367.7,52.3 368.6,51.5 369.4,51.3 370.5,52.6 371.4,56.4 371.5,61.6 371.1,67.1 370.1,71.1 369.4,71.8 367.2,72.4Z" fill="rgba(0,0,0,0.022)" stroke="#2e2e2e" stroke-width="0.6" stroke-linejoin="round"/>
<path d="M366.4,71.6 365.7,71.6 365.0,70.9 364.8,68.6 366.3,63.0 367.2,55.6 368.2,53.4 369.4,52.4 370.5,53.5 371.2,57.0 371.2,62.6 370.7,67.9 369.8,70.6 366.4,71.6Z" fill="rgba(0,0,0,0.022)" stroke="#282828" stroke-width="0.6" stroke-linejoin="round"/>
<path d="M369.0,69.7 366.8,69.2 366.5,68.6 367.3,64.9 367.8,56.8 368.5,54.5 369.4,53.4 370.1,53.8 370.8,55.6 371.1,60.8 370.3,67.9 369.8,69.3 369.0,69.7Z" fill="rgba(0,0,0,0.022)" stroke="#212121" stroke-width="0.6" stroke-linejoin="round"/>
<path d="M369.4,67.6 368.9,67.1 368.5,65.6 368.2,59.3 368.7,56.0 369.2,54.9 369.8,54.6 370.6,56.4 370.8,60.8 370.1,66.3 369.4,67.6Z" fill="rgba(0,0,0,0.022)" stroke="#1a1a1a" stroke-width="0.6" stroke-linejoin="round"/>
<path d="M369.8,64.5 369.4,64.4 369.1,63.4 368.9,60.1 369.0,57.5 369.8,56.1 370.3,57.1 370.5,59.7 370.2,63.0 369.8,64.5Z" fill="rgba(0,0,0,0.022)" stroke="#141414" stroke-width="0.6" stroke-linejoin="round"/>
<rect x="345" y="34.3" width="32.69999999999999" height="28.400000000000006" fill="none" stroke="#8c8c8c" stroke-width="0.7"/>
<text x="359.5" y="30.5" font-size="6.2" text-anchor="middle" fill="#222">53.7</text>
<rect x="397.9" y="21.6" width="58.5" height="58.99999999999999" fill="none" stroke="#a0a0a0" stroke-width="0.8"/>
<path d="M430.6,77.8 429.2,77.9 427.0,77.5 421.8,75.6 408.6,73.0 406.4,72.2 405.1,71.0 404.8,69.5 405.1,67.6 408.8,55.7 413.1,48.3 414.5,46.5 415.6,45.7 417.8,45.4 421.1,46.7 428.8,50.4 430.3,51.5 431.2,52.8 434.4,63.2 435.2,69.1 434.8,71.7 433.7,74.7 432.4,76.5 430.6,77.8Z" fill="rgba(0,0,0,0.022)" stroke="#787878" stroke-width="0.6" stroke-linejoin="round"/>
<path d="M430.6,76.5 428.8,76.8 426.2,76.2 421.4,73.2 410.4,70.8 408.9,70.1 408.0,69.1 407.8,68.0 408.1,66.1 411.2,56.5 414.7,50.5 416.7,48.6 418.1,48.4 420.0,48.9 427.7,52.7 428.8,53.9 432.3,60.2 433.8,64.6 434.2,69.8 433.1,73.9 432.1,75.4 430.6,76.5Z" fill="rgba(0,0,0,0.022)" stroke="#717171" stroke-width="0.6" stroke-linejoin="round"/>
<path d="M430.3,75.9 428.4,76.0 426.2,75.4 424.6,74.3 422.6,71.6 421.4,70.7 413.7,68.8 412.2,68.1 411.5,67.2 411.2,66.1 411.4,64.3 413.1,57.2 414.8,54.5 417.4,52.1 418.5,51.8 420.0,51.9 424.4,53.9 425.9,55.0 427.7,57.4 430.6,59.2 432.0,60.9 433.4,65.4 433.6,69.8 432.4,73.9 431.4,75.3 430.3,75.9Z" fill="rgba(0,0,0,0.022)" stroke="#6a6a6a" stroke-width="0.6" stroke-linejoin="round"/>
<path d="M429.9,75.5 427.7,75.3 425.6,74.3 424.4,72.8 422.6,69.3 421.8,68.6 416.3,67.7 414.8,67.0 413.8,66.1 413.2,63.5 413.8,59.1 414.7,56.9 416.3,55.2 418.5,54.4 421.1,54.8 423.3,56.1 425.4,58.7 429.5,59.5 431.4,61.0 432.7,64.3 433.2,69.8 432.7,72.1 431.9,73.9 431.0,74.9 429.9,75.5Z" fill="rgba(0,0,0,0.022)" stroke="#646464" stroke-width="0.6" stroke-linejoin="round"/>
<path d="M430.3,74.8 428.1,74.8 425.7,73.5 424.8,72.1 422.9,67.2 422.2,66.9 417.8,67.0 415.9,66.3 414.9,65.4 414.2,63.5 414.4,60.6 415.1,58.0 416.3,56.5 418.5,55.7 421.1,56.2 422.6,57.6 424.4,61.1 428.8,60.2 429.9,60.4 431.0,61.3 432.3,64.3 432.9,69.1 432.0,72.8 431.3,73.9 430.3,74.8Z" fill="rgba(0,0,0,0.022)" stroke="#5d5d5d" stroke-width="0.6" stroke-linejoin="round"/>
<path d="M421.1,66.2 419.2,66.5 417.4,66.2 415.9,65.5 415.1,64.3 414.8,62.0 415.3,59.1 416.1,57.6 417.4,56.6 418.9,56.4 420.3,56.7 421.7,57.6 422.5,59.1 423.4,64.3 422.6,65.4 421.1,66.2ZM430.3,74.3 428.4,74.5 426.2,73.4 425.2,71.7 424.2,68.0 423.9,65.0 424.3,63.9 426.1,61.7 428.1,60.8 429.5,60.8 430.8,61.7 431.7,63.2 432.4,65.8 432.6,68.7 432.3,71.0 431.4,73.2 430.3,74.3Z" fill="rgba(0,0,0,0.022)" stroke="#565656" stroke-width="0.6" stroke-linejoin="round"/>
<path d="M420.0,65.8 417.0,65.5 416.0,64.6 415.5,63.5 415.4,61.3 415.8,59.1 416.7,57.8 418.1,57.0 419.6,57.0 420.8,57.6 421.7,58.7 422.2,60.2 422.5,62.8 422.2,64.3 421.4,65.2 420.0,65.8ZM429.9,74.1 428.1,74.0 426.4,72.8 425.5,71.0 424.8,68.0 424.9,65.4 425.8,63.2 427.0,61.9 428.8,61.3 430.3,61.7 431.2,62.8 432.3,67.2 432.3,69.5 431.8,71.7 431.0,73.2 429.9,74.1Z" fill="rgba(0,0,0,0.022)" stroke="#505050" stroke-width="0.6" stroke-linejoin="round"/>
<path d="M419.2,65.4 417.8,65.2 416.7,64.6 415.8,62.8 415.8,60.9 416.3,59.1 417.2,58.0 418.5,57.5 419.6,57.6 420.8,58.3 421.5,59.4 421.9,61.3 421.9,63.2 421.4,64.3 420.7,65.0 419.2,65.4ZM429.9,73.7 428.1,73.5 426.7,72.4 425.9,71.0 425.4,68.4 425.4,66.1 426.1,63.9 427.3,62.4 428.8,61.8 429.9,61.9 431.0,63.1 432.1,67.2 431.7,71.3 431.0,72.8 429.9,73.7Z" fill="rgba(0,0,0,0.022)" stroke="#494949" stroke-width="0.6" stroke-linejoin="round"/>
<path d="M420.0,64.7 417.8,64.7 417.0,64.3 416.4,63.2 416.2,61.7 416.5,59.8 417.1,58.7 418.1,58.1 420.0,58.3 421.2,60.2 421.3,63.2 420.7,64.3 420.0,64.7ZM429.9,73.3 428.4,73.2 427.3,72.4 426.4,71.0 425.9,68.4 426.0,66.1 426.8,63.9 427.7,62.8 429.2,62.2 430.3,62.6 431.0,63.7 431.9,67.6 431.4,71.3 430.6,72.7 429.9,73.3Z" fill="rgba(0,0,0,0.022)" stroke="#424242" stroke-width="0.6" stroke-linejoin="round"/>
<path d="M419.6,64.3 417.8,64.2 417.0,63.5 416.7,62.4 417.0,59.8 417.8,58.8 418.5,58.6 420.1,59.1 420.9,60.9 420.8,63.2 419.6,64.3ZM429.9,72.9 428.8,72.9 427.5,72.1 426.8,70.6 426.3,68.4 426.5,66.1 427.1,64.3 428.1,63.1 429.2,62.7 429.9,62.8 430.8,63.9 431.7,67.6 431.3,71.0 430.6,72.2 429.9,72.9Z" fill="rgba(0,0,0,0.022)" stroke="#3c3c3c" stroke-width="0.6" stroke-linejoin="round"/>
<path d="M419.6,63.7 418.1,63.7 417.2,62.4 417.4,60.2 418.5,59.2 419.6,59.4 420.3,60.7 420.4,62.4 419.6,63.7ZM429.5,72.6 428.4,72.3 427.7,71.5 426.8,68.4 426.9,66.5 427.5,64.6 428.3,63.5 429.2,63.1 429.9,63.3 430.7,64.3 431.5,68.0 431.0,71.0 430.3,72.2 429.5,72.6Z" fill="rgba(0,0,0,0.022)" stroke="#353535" stroke-width="0.6" stroke-linejoin="round"/>
<path d="M419.2,63.0 418.1,62.9 417.7,62.0 417.8,60.9 418.5,60.0 419.2,60.1 419.8,60.9 419.9,62.0 419.2,63.0ZM429.5,72.1 428.8,72.0 428.1,71.3 427.2,68.4 427.7,65.3 428.4,64.1 429.2,63.6 429.9,63.8 430.6,64.8 431.3,68.0 430.8,71.0 429.5,72.1Z" fill="rgba(0,0,0,0.022)" stroke="#2e2e2e" stroke-width="0.6" stroke-linejoin="round"/>
<path d="M429.9,71.5 429.2,71.6 428.4,71.1 427.6,68.7 428.0,65.8 429.2,64.2 430.3,64.7 431.0,67.2 430.9,69.8 429.9,71.5Z" fill="rgba(0,0,0,0.022)" stroke="#282828" stroke-width="0.6" stroke-linejoin="round"/>
<path d="M429.9,71.0 429.2,71.0 428.6,70.6 428.0,68.4 428.4,65.8 428.9,65.0 429.5,64.8 430.3,65.4 430.8,67.6 430.6,69.7 429.9,71.0Z" fill="rgba(0,0,0,0.022)" stroke="#212121" stroke-width="0.6" stroke-linejoin="round"/>
<path d="M429.9,70.3 429.2,70.4 428.8,69.9 428.4,68.4 428.8,66.1 429.5,65.4 430.3,66.3 430.6,67.6 430.5,69.1 429.9,70.3Z" fill="rgba(0,0,0,0.022)" stroke="#1a1a1a" stroke-width="0.6" stroke-linejoin="round"/>
<path d="M429.5,69.7 429.0,69.1 428.8,68.0 429.0,66.9 429.5,66.3 429.9,66.6 430.3,68.0 430.1,69.1 429.5,69.7Z" fill="rgba(0,0,0,0.022)" stroke="#141414" stroke-width="0.6" stroke-linejoin="round"/>
<rect x="407" y="34.2" width="31.80000000000001" height="28.299999999999997" fill="none" stroke="#8c8c8c" stroke-width="0.7"/>
<text x="421.3" y="29.8" font-size="6.2" text-anchor="middle" fill="#222">26.9</text>
<rect x="459" y="21.3" width="58.5" height="59.10000000000001" fill="none" stroke="#a0a0a0" stroke-width="0.8"/>
<path d="M494.7,80.4 492.2,80.4 491.4,78.9 490.6,78.4 485.9,78.2 482.5,77.3 474.8,73.2 473.3,71.9 472.4,70.4 472.1,68.1 471.7,54.8 472.1,48.8 473.6,43.6 474.8,41.1 476.7,39.4 480.0,37.6 483.3,37.2 490.6,38.2 491.4,37.9 492.8,36.1 493.6,35.8 494.7,37.4 496.3,44.7 498.2,55.5 498.5,58.8 497.5,71.5 494.7,80.4Z" fill="rgba(0,0,0,0.022)" stroke="#787878" stroke-width="0.6" stroke-linejoin="round"/>
<path d="M493.6,78.0 491.0,77.2 486.6,77.3 484.0,76.6 480.3,73.7 476.1,71.1 474.7,69.2 474.4,67.0 474.0,54.8 474.3,49.5 475.6,45.1 476.6,42.9 478.1,41.2 480.7,39.9 482.5,39.6 487.3,39.6 491.0,40.6 493.2,40.0 494.0,40.5 494.9,42.5 497.4,55.9 497.6,60.0 496.6,71.5 495.1,75.9 493.6,78.0Z" fill="rgba(0,0,0,0.022)" stroke="#717171" stroke-width="0.6" stroke-linejoin="round"/>
<path d="M493.6,76.3 487.3,76.6 484.4,75.9 482.8,74.5 481.1,71.6 478.0,69.2 477.1,67.8 476.8,65.5 476.4,54.8 476.6,50.7 478.5,44.7 479.6,43.4 481.1,42.5 488.1,41.0 491.0,41.8 493.2,42.0 494.0,42.6 494.6,44.0 496.7,55.1 497.0,60.0 496.1,71.5 494.8,74.8 493.6,76.3Z" fill="rgba(0,0,0,0.022)" stroke="#6a6a6a" stroke-width="0.6" stroke-linejoin="round"/>
<path d="M489.5,76.0 485.9,75.8 483.8,74.5 481.9,69.2 479.8,66.3 479.4,63.7 479.1,52.9 479.5,50.3 480.3,47.7 481.8,45.6 484.0,44.5 486.4,42.5 488.1,42.0 492.8,43.0 494.0,44.0 495.2,48.4 496.6,58.1 496.0,69.2 495.2,73.0 493.6,75.4 489.5,76.0Z" fill="rgba(0,0,0,0.022)" stroke="#646464" stroke-width="0.6" stroke-linejoin="round"/>
<path d="M490.3,75.2 486.6,75.3 485.3,74.8 484.4,74.1 483.7,72.2 482.8,64.4 483.5,55.5 485.6,46.2 486.6,44.0 487.4,43.2 488.4,42.9 492.5,43.9 493.8,45.1 495.1,49.9 496.2,57.7 495.7,68.5 495.0,72.2 493.6,74.5 490.3,75.2Z" fill="rgba(0,0,0,0.022)" stroke="#5d5d5d" stroke-width="0.6" stroke-linejoin="round"/>
<path d="M489.9,74.8 487.3,74.9 485.5,74.3 484.6,73.0 484.2,70.4 484.2,64.8 485.5,58.1 486.6,46.6 487.3,44.5 488.8,43.7 492.5,44.7 493.6,45.8 494.9,50.3 496.0,58.1 495.5,67.4 494.8,71.9 494.0,73.3 493.2,74.1 489.9,74.8Z" fill="rgba(0,0,0,0.022)" stroke="#565656" stroke-width="0.6" stroke-linejoin="round"/>
<path d="M489.2,74.5 487.3,74.5 485.7,73.7 485.0,72.2 484.8,70.0 485.0,65.2 486.5,57.7 487.3,46.9 488.0,45.1 489.2,44.5 492.4,45.5 493.6,46.8 495.1,52.9 495.7,59.2 495.2,68.1 494.4,71.9 493.8,73.0 492.9,73.7 489.2,74.5Z" fill="rgba(0,0,0,0.022)" stroke="#505050" stroke-width="0.6" stroke-linejoin="round"/>
<path d="M490.3,73.8 488.1,74.0 486.6,73.6 485.7,72.6 485.3,70.4 485.6,65.5 487.2,58.1 487.9,47.7 488.4,46.1 489.5,45.3 492.5,46.4 493.6,47.9 494.8,52.5 495.5,58.5 495.1,66.3 494.4,71.1 493.2,73.0 490.3,73.8Z" fill="rgba(0,0,0,0.022)" stroke="#494949" stroke-width="0.6" stroke-linejoin="round"/>
<path d="M489.9,73.4 488.1,73.5 486.8,73.0 486.1,71.9 485.9,70.0 486.2,65.9 487.7,58.5 488.6,48.4 489.1,46.9 489.9,46.5 492.5,47.4 493.6,48.9 494.8,54.0 495.3,59.2 494.8,67.4 494.1,71.1 492.8,72.6 489.9,73.4Z" fill="rgba(0,0,0,0.022)" stroke="#424242" stroke-width="0.6" stroke-linejoin="round"/>
<path d="M489.2,73.0 487.7,72.8 487.0,72.2 486.5,70.7 486.5,68.5 488.2,59.2 489.2,50.3 489.9,48.4 491.0,48.1 492.8,48.8 493.6,50.0 494.3,52.5 495.1,58.1 494.8,64.4 494.3,69.0 493.6,71.3 492.5,72.2 489.2,73.0Z" fill="rgba(0,0,0,0.022)" stroke="#3c3c3c" stroke-width="0.6" stroke-linejoin="round"/>
<path d="M489.5,72.3 488.3,72.2 487.4,71.5 487.0,70.0 487.1,67.8 488.8,60.0 489.9,51.7 490.6,50.2 492.1,49.5 492.8,49.8 493.6,51.1 494.7,55.9 494.9,60.0 494.4,66.3 494.0,69.3 493.2,71.0 492.5,71.6 489.5,72.3Z" fill="rgba(0,0,0,0.022)" stroke="#353535" stroke-width="0.6" stroke-linejoin="round"/>
<path d="M489.5,71.5 488.4,71.3 488.0,70.7 487.7,69.6 487.8,67.4 489.4,60.3 490.4,53.6 491.4,51.4 492.5,50.8 493.6,52.1 494.6,57.0 494.6,60.7 494.1,67.0 493.6,69.4 492.8,70.6 489.5,71.5Z" fill="rgba(0,0,0,0.022)" stroke="#2e2e2e" stroke-width="0.6" stroke-linejoin="round"/>
<path d="M489.9,70.4 489.2,70.2 488.7,69.6 488.6,67.4 490.0,61.4 490.9,54.8 491.6,52.9 492.5,52.0 493.2,52.5 493.6,53.2 494.3,56.6 494.4,60.3 494.0,65.9 492.8,69.7 492.1,70.1 489.9,70.4Z" fill="rgba(0,0,0,0.022)" stroke="#282828" stroke-width="0.6" stroke-linejoin="round"/>
<path d="M492.5,68.6 491.7,68.6 490.9,68.1 490.4,66.6 491.3,56.2 492.0,54.0 492.8,53.3 493.6,54.4 494.0,55.9 494.2,59.6 493.6,66.0 492.5,68.6Z" fill="rgba(0,0,0,0.022)" stroke="#212121" stroke-width="0.6" stroke-linejoin="round"/>
<path d="M492.5,66.5 491.7,64.8 491.5,59.6 492.0,55.9 492.8,54.6 493.7,56.2 494.0,60.0 493.3,65.2 492.5,66.5Z" fill="rgba(0,0,0,0.022)" stroke="#1a1a1a" stroke-width="0.6" stroke-linejoin="round"/>
<path d="M492.8,63.6 492.3,62.6 492.1,59.6 492.3,57.4 492.8,56.2 493.4,57.0 493.6,59.2 492.8,63.6Z" fill="rgba(0,0,0,0.022)" stroke="#141414" stroke-width="0.6" stroke-linejoin="round"/>
<rect x="468.8" y="34.2" width="31.19999999999999" height="27.799999999999997" fill="none" stroke="#8c8c8c" stroke-width="0.7"/>
<text x="481.3" y="29.5" font-size="6.2" text-anchor="middle" fill="#222">63.7</text>
<text x="0" y="0" font-size="7.5" transform="translate(18.9,81.9) rotate(-90)" textLength="18.6" lengthAdjust="spacingAndGlyphs">CD38</text>
<line x1="22.2" y1="82.0" x2="22.2" y2="57.4" stroke="#000" stroke-width="1.5"/>
<path d="M22.2,53.3 L19.439999999999998,57.9 L24.96,57.9 Z" fill="#000"/>
<text x="27.2" y="89.7" font-size="7.6" text-anchor="start" fill="#000" textLength="19.3" lengthAdjust="spacingAndGlyphs">CD27</text>
<line x1="48.8" y1="86.8" x2="69.5" y2="86.8" stroke="#000" stroke-width="1.5"/>
<path d="M73.6,86.8 L69.0,84.03999999999999 L69.0,89.56 Z" fill="#000"/>
<text x="0.5" y="117.2" font-size="12.4" text-anchor="start" font-weight="bold" fill="#000">B</text>
<line x1="34.5" y1="128.89999999999998" x2="34.5" y2="265.9" stroke="#000" stroke-width="0.9"/>
<line x1="34.0" y1="265.4" x2="238.5" y2="265.4" stroke="#000" stroke-width="0.9"/>
<line x1="32.3" y1="265.4" x2="34.5" y2="265.4" stroke="#000" stroke-width="0.9"/>
<text x="32" y="267.59999999999997" font-size="6.3" text-anchor="end" font-weight="bold" fill="#000">0</text>
<line x1="32.3" y1="231.39999999999998" x2="34.5" y2="231.39999999999998" stroke="#000" stroke-width="0.9"/>
<text x="32" y="233.59999999999997" font-size="6.3" text-anchor="end" font-weight="bold" fill="#000">20</text>
<line x1="32.3" y1="197.39999999999998" x2="34.5" y2="197.39999999999998" stroke="#000" stroke-width="0.9"/>
<text x="32" y="199.59999999999997" font-size="6.3" text-anchor="end" font-weight="bold" fill="#000">40</text>
<line x1="32.3" y1="163.39999999999998" x2="34.5" y2="163.39999999999998" stroke="#000" stroke-width="0.9"/>
<text x="32" y="165.59999999999997" font-size="6.3" text-anchor="end" font-weight="bold" fill="#000">60</text>
<line x1="32.3" y1="129.39999999999998" x2="34.5" y2="129.39999999999998" stroke="#000" stroke-width="0.9"/>
<text x="32" y="131.59999999999997" font-size="6.3" text-anchor="end" font-weight="bold" fill="#000">80</text>
<line x1="47.3" y1="265.4" x2="47.3" y2="267.59999999999997" stroke="#000" stroke-width="0.9"/>
<line x1="72.7" y1="265.4" x2="72.7" y2="267.59999999999997" stroke="#000" stroke-width="0.9"/>
<line x1="98.0" y1="265.4" x2="98.0" y2="267.59999999999997" stroke="#000" stroke-width="0.9"/>
<line x1="123.7" y1="265.4" x2="123.7" y2="267.59999999999997" stroke="#000" stroke-width="0.9"/>
<line x1="149.0" y1="265.4" x2="149.0" y2="267.59999999999997" stroke="#000" stroke-width="0.9"/>
<line x1="175.0" y1="265.4" x2="175.0" y2="267.59999999999997" stroke="#000" stroke-width="0.9"/>
<line x1="200.5" y1="265.4" x2="200.5" y2="267.59999999999997" stroke="#000" stroke-width="0.9"/>
<line x1="225.7" y1="265.4" x2="225.7" y2="267.59999999999997" stroke="#000" stroke-width="0.9"/>
<text x="0" y="0" font-size="8.3" transform="translate(19.8,196.8) rotate(-90)" text-anchor="middle" textLength="109" lengthAdjust="spacingAndGlyphs">% of CD27<tspan baseline-shift="35%" font-size="70%">+</tspan> CD38<tspan baseline-shift="35%" font-size="70%">+</tspan> cell / culture</text>
<path d="M42.1,219.29999999999998 L44.5,221.7 L42.1,224.1 L39.7,221.7 Z" fill="#000"/>
<path d="M46.7,223.2 L49.1,225.6 L46.7,228.0 L44.300000000000004,225.6 Z" fill="#000"/>
<path d="M52.3,223.2 L54.699999999999996,225.6 L52.3,228.0 L49.9,225.6 Z" fill="#000"/>
<path d="M47.3,231.6 L49.699999999999996,234 L47.3,236.4 L44.9,234 Z" fill="#000"/>
<path d="M50.6,238.6 L53.0,241 L50.6,243.4 L48.2,241 Z" fill="#000"/>
<path d="M43.5,244.1 L45.9,246.5 L43.5,248.9 L41.1,246.5 Z" fill="#000"/>
<line x1="38.8" y1="232.7" x2="55.8" y2="232.7" stroke="#000" stroke-width="1.3"/>
<line x1="47.3" y1="223" x2="47.3" y2="241.3" stroke="#000" stroke-width="0.9"/>
<line x1="43.3" y1="223" x2="51.3" y2="223" stroke="#000" stroke-width="0.9"/>
<line x1="43.3" y1="241.3" x2="51.3" y2="241.3" stroke="#000" stroke-width="0.9"/>
<path d="M69,221.8 L71.6,226.35 L66.4,226.35 Z" fill="#000" stroke="#000" stroke-width="0.7"/>
<path d="M80.4,223.4 L83.0,227.95 L77.80000000000001,227.95 Z" fill="#000" stroke="#000" stroke-width="0.7"/>
<path d="M68.5,231.6 L71.1,236.14999999999998 L65.9,236.14999999999998 Z" fill="#000" stroke="#000" stroke-width="0.7"/>
<path d="M71.6,232.0 L74.19999999999999,236.54999999999998 L69.0,236.54999999999998 Z" fill="#000" stroke="#000" stroke-width="0.7"/>
<path d="M75.4,231.6 L78.0,236.14999999999998 L72.80000000000001,236.14999999999998 Z" fill="#000" stroke="#000" stroke-width="0.7"/>
<path d="M73.3,227.4 L75.89999999999999,231.95 L70.7,231.95 Z" fill="#000" stroke="#000" stroke-width="0.7"/>
<line x1="64.2" y1="230.2" x2="81.2" y2="230.2" stroke="#000" stroke-width="1.3"/>
<line x1="72.7" y1="225.6" x2="72.7" y2="234.6" stroke="#000" stroke-width="0.9"/>
<line x1="68.7" y1="225.6" x2="76.7" y2="225.6" stroke="#000" stroke-width="0.9"/>
<line x1="68.7" y1="234.6" x2="76.7" y2="234.6" stroke="#000" stroke-width="0.9"/>
<path d="M94.4,226.2 L97.0,221.65 L91.80000000000001,221.65 Z" fill="#000" stroke="#000" stroke-width="0.7"/>
<path d="M101.7,224.29999999999998 L104.3,219.75 L99.10000000000001,219.75 Z" fill="#000" stroke="#000" stroke-width="0.7"/>
<path d="M92,235.6 L94.6,231.05 L89.4,231.05 Z" fill="#000" stroke="#000" stroke-width="0.7"/>
<path d="M98.3,238.6 L100.89999999999999,234.05 L95.7,234.05 Z" fill="#000" stroke="#000" stroke-width="0.7"/>
<path d="M102.7,242.0 L105.3,237.45000000000002 L100.10000000000001,237.45000000000002 Z" fill="#000" stroke="#000" stroke-width="0.7"/>
<path d="M97.9,245.29999999999998 L100.5,240.75 L95.30000000000001,240.75 Z" fill="#000" stroke="#000" stroke-width="0.7"/>
<line x1="89.5" y1="233" x2="106.5" y2="233" stroke="#000" stroke-width="1.3"/>
<line x1="98.0" y1="225" x2="98.0" y2="240.8" stroke="#000" stroke-width="0.9"/>
<line x1="94.0" y1="225" x2="102.0" y2="225" stroke="#000" stroke-width="0.9"/>
<line x1="94.0" y1="240.8" x2="102.0" y2="240.8" stroke="#000" stroke-width="0.9"/>
<path d="M120,188.1 L122.6,183.55 L117.4,183.55 Z" fill="#fff" stroke="#000" stroke-width="0.7"/>
<path d="M126.8,189.4 L129.4,184.85000000000002 L124.2,184.85000000000002 Z" fill="#fff" stroke="#000" stroke-width="0.7"/>
<path d="M120,204.4 L122.6,199.85000000000002 L117.4,199.85000000000002 Z" fill="#fff" stroke="#000" stroke-width="0.7"/>
<path d="M123.8,204.4 L126.39999999999999,199.85000000000002 L121.2,199.85000000000002 Z" fill="#fff" stroke="#000" stroke-width="0.7"/>
<path d="M127.5,204.4 L130.1,199.85000000000002 L124.9,199.85000000000002 Z" fill="#fff" stroke="#000" stroke-width="0.7"/>
<path d="M123,219.6 L125.6,215.05 L120.4,215.05 Z" fill="#fff" stroke="#000" stroke-width="0.7"/>
<path d="M123.8,228.9 L126.39999999999999,224.35000000000002 L121.2,224.35000000000002 Z" fill="#fff" stroke="#000" stroke-width="0.7"/>
<line x1="115.2" y1="203.3" x2="132.2" y2="203.3" stroke="#000" stroke-width="1.3"/>
<line x1="123.7" y1="186.5" x2="123.7" y2="219.5" stroke="#000" stroke-width="0.9"/>
<line x1="119.7" y1="186.5" x2="127.7" y2="186.5" stroke="#000" stroke-width="0.9"/>
<line x1="119.7" y1="219.5" x2="127.7" y2="219.5" stroke="#000" stroke-width="0.9"/>
<rect x="142.3" y="214.8" width="4.4" height="4.4" fill="#000" stroke="#000" stroke-width="0.7"/>
<rect x="151.60000000000002" y="214.8" width="4.4" height="4.4" fill="#000" stroke="#000" stroke-width="0.7"/>
<rect x="147.0" y="220.8" width="4.4" height="4.4" fill="#000" stroke="#000" stroke-width="0.7"/>
<rect x="142.3" y="233.3" width="4.4" height="4.4" fill="#000" stroke="#000" stroke-width="0.7"/>
<rect x="151.60000000000002" y="234.0" width="4.4" height="4.4" fill="#000" stroke="#000" stroke-width="0.7"/>
<rect x="147.0" y="237.3" width="4.4" height="4.4" fill="#000" stroke="#000" stroke-width="0.7"/>
<line x1="140.5" y1="228.8" x2="157.5" y2="228.8" stroke="#000" stroke-width="1.3"/>
<line x1="149.0" y1="220" x2="149.0" y2="235" stroke="#000" stroke-width="0.9"/>
<line x1="145.0" y1="220" x2="153.0" y2="220" stroke="#000" stroke-width="0.9"/>
<line x1="145.0" y1="235" x2="153.0" y2="235" stroke="#000" stroke-width="0.9"/>
<rect x="169.0" y="169.0" width="4.4" height="4.4" fill="#fff" stroke="#000" stroke-width="0.7"/>
<rect x="177.20000000000002" y="169.0" width="4.4" height="4.4" fill="#fff" stroke="#000" stroke-width="0.7"/>
<rect x="173.0" y="170.3" width="4.4" height="4.4" fill="#fff" stroke="#000" stroke-width="0.7"/>
<rect x="168.4" y="185.60000000000002" width="4.4" height="4.4" fill="#fff" stroke="#000" stroke-width="0.7"/>
<rect x="177.0" y="186.0" width="4.4" height="4.4" fill="#fff" stroke="#000" stroke-width="0.7"/>
<rect x="172.8" y="191.0" width="4.4" height="4.4" fill="#fff" stroke="#000" stroke-width="0.7"/>
<line x1="166.5" y1="181.2" x2="183.5" y2="181.2" stroke="#000" stroke-width="1.3"/>
<line x1="175.0" y1="169.8" x2="175.0" y2="189.5" stroke="#000" stroke-width="0.9"/>
<line x1="171.0" y1="169.8" x2="179.0" y2="169.8" stroke="#000" stroke-width="0.9"/>
<line x1="171.0" y1="189.5" x2="179.0" y2="189.5" stroke="#000" stroke-width="0.9"/>
<circle cx="195.5" cy="219.5" r="2.3" fill="#000" stroke="#000" stroke-width="0.7"/>
<circle cx="205.5" cy="219.5" r="2.3" fill="#000" stroke="#000" stroke-width="0.7"/>
<circle cx="200.5" cy="223.8" r="2.3" fill="#000" stroke="#000" stroke-width="0.7"/>
<circle cx="195.5" cy="236.2" r="2.3" fill="#000" stroke="#000" stroke-width="0.7"/>
<circle cx="200.5" cy="238" r="2.3" fill="#000" stroke="#000" stroke-width="0.7"/>
<circle cx="205.5" cy="238" r="2.3" fill="#000" stroke="#000" stroke-width="0.7"/>
<line x1="192.0" y1="229.5" x2="209.0" y2="229.5" stroke="#000" stroke-width="1.3"/>
<line x1="200.5" y1="221.3" x2="200.5" y2="236" stroke="#000" stroke-width="0.9"/>
<line x1="196.5" y1="221.3" x2="204.5" y2="221.3" stroke="#000" stroke-width="0.9"/>
<line x1="196.5" y1="236" x2="204.5" y2="236" stroke="#000" stroke-width="0.9"/>
<circle cx="225.7" cy="155.8" r="2.3" fill="#fff" stroke="#000" stroke-width="0.7"/>
<circle cx="222.3" cy="171" r="2.3" fill="#fff" stroke="#000" stroke-width="0.7"/>
<circle cx="229.5" cy="171.8" r="2.3" fill="#fff" stroke="#000" stroke-width="0.7"/>
<circle cx="222.3" cy="183.5" r="2.3" fill="#fff" stroke="#000" stroke-width="0.7"/>
<circle cx="229.2" cy="182.5" r="2.3" fill="#fff" stroke="#000" stroke-width="0.7"/>
<circle cx="225.5" cy="174.5" r="2.3" fill="#fff" stroke="#000" stroke-width="0.7"/>
<line x1="217.2" y1="171.7" x2="234.2" y2="171.7" stroke="#000" stroke-width="1.3"/>
<line x1="225.7" y1="161.7" x2="225.7" y2="183.3" stroke="#000" stroke-width="0.9"/>
<line x1="221.7" y1="161.7" x2="229.7" y2="161.7" stroke="#000" stroke-width="0.9"/>
<line x1="221.7" y1="183.3" x2="229.7" y2="183.3" stroke="#000" stroke-width="0.9"/>
<line x1="95.6" y1="176.3" x2="126.7" y2="176.3" stroke="#000" stroke-width="0.8"/>
<circle cx="109.20" cy="172.8" r="1.05" fill="#111"/>
<line x1="147" y1="163.2" x2="175.5" y2="163.2" stroke="#000" stroke-width="0.8"/>
<circle cx="160.00" cy="159.9" r="1.05" fill="#111"/>
<line x1="192.4" y1="140.4" x2="223.6" y2="140.4" stroke="#000" stroke-width="0.8"/>
<circle cx="206.70" cy="134.7" r="1.05" fill="#111"/>
<circle cx="210.60" cy="134.7" r="1.05" fill="#111"/>
<text x="23.7" y="275.6" font-size="6.4" text-anchor="start" fill="#000">B cells</text>
<text x="23.7" y="286.2" font-size="6.4" text-anchor="start" fill="#000">T cells</text>
<text x="47.8" y="275.6" font-size="6.4" text-anchor="middle" fill="#000">+</text>
<text x="47.8" y="286.2" font-size="6.4" text-anchor="middle" fill="#000">-</text>
<text x="73.3" y="275.6" font-size="6.4" text-anchor="middle" fill="#000">+</text>
<text x="73.5" y="286.2" font-size="6.4" text-anchor="middle" fill="#000">Tet<tspan baseline-shift="35%" font-size="70%">-</tspan></text>
<text x="99.5" y="275.6" font-size="6.4" text-anchor="middle" fill="#000" textLength="19.4" lengthAdjust="spacingAndGlyphs">DMSO</text>
<text x="129.2" y="275.6" font-size="6.4" text-anchor="middle" fill="#000" textLength="27.6" lengthAdjust="spacingAndGlyphs"><tspan font-family="Liberation Serif" font-size="110%">&#945;</tspan>-GalCer</text>
<text x="155" y="275.6" font-size="6.4" text-anchor="middle" fill="#000" textLength="19.4" lengthAdjust="spacingAndGlyphs">DMSO</text>
<text x="179.5" y="275.6" font-size="6.4" text-anchor="middle" fill="#000" textLength="23.7" lengthAdjust="spacingAndGlyphs">&#946;GL1-22</text>
<text x="203.5" y="275.6" font-size="6.4" text-anchor="middle" fill="#000" textLength="19.4" lengthAdjust="spacingAndGlyphs">DMSO</text>
<text x="228.8" y="275.6" font-size="6.4" text-anchor="middle" fill="#000" textLength="13.2" lengthAdjust="spacingAndGlyphs">LGL1</text>
<line x1="89" y1="278.2" x2="143" y2="278.2" stroke="#000" stroke-width="0.7"/>
<line x1="144.6" y1="278.2" x2="191.4" y2="278.2" stroke="#000" stroke-width="0.7"/>
<line x1="193.2" y1="278.2" x2="237" y2="278.2" stroke="#000" stroke-width="0.7"/>
<text x="115.4" y="286.6" font-size="6.4" text-anchor="middle" fill="#000"><tspan font-family="Liberation Serif" font-size="110%">&#945;</tspan>-GalCer<tspan baseline-shift="35%" font-size="70%">+</tspan></text>
<text x="167.7" y="286.6" font-size="6.4" text-anchor="middle" fill="#000">&#946;GL1-22<tspan baseline-shift="35%" font-size="70%">+</tspan></text>
<text x="210.8" y="286.6" font-size="6.4" text-anchor="middle" fill="#000">LGL1<tspan baseline-shift="35%" font-size="70%">+</tspan></text>
<text x="258.4" y="117.6" font-size="12.4" text-anchor="start" font-weight="bold" fill="#000">C</text>
<line x1="287.2" y1="121.90000000000003" x2="287.2" y2="266.1" stroke="#000" stroke-width="0.9"/>
<line x1="286.7" y1="265.6" x2="502.7" y2="265.6" stroke="#000" stroke-width="0.9"/>
<line x1="285.0" y1="265.6" x2="287.2" y2="265.6" stroke="#000" stroke-width="0.9"/>
<text x="283.9" y="268.0" font-size="6.9" text-anchor="end" fill="#000">0</text>
<line x1="285.0" y1="229.8" x2="287.2" y2="229.8" stroke="#000" stroke-width="0.9"/>
<text x="283.9" y="232.20000000000002" font-size="6.9" text-anchor="end" fill="#000">200</text>
<line x1="285.0" y1="194.00000000000003" x2="287.2" y2="194.00000000000003" stroke="#000" stroke-width="0.9"/>
<text x="283.9" y="196.40000000000003" font-size="6.9" text-anchor="end" fill="#000">400</text>
<line x1="285.0" y1="158.20000000000005" x2="287.2" y2="158.20000000000005" stroke="#000" stroke-width="0.9"/>
<text x="283.9" y="160.60000000000005" font-size="6.9" text-anchor="end" fill="#000">600</text>
<line x1="285.0" y1="122.40000000000003" x2="287.2" y2="122.40000000000003" stroke="#000" stroke-width="0.9"/>
<text x="283.9" y="124.80000000000004" font-size="6.9" text-anchor="end" fill="#000">800</text>
<text x="0" y="0" font-size="8.2" transform="translate(269.8,186.2) rotate(-90)" text-anchor="middle" textLength="34.7" lengthAdjust="spacingAndGlyphs">Ig (&#956;g/ml)</text>
<rect x="300.3" y="119.4" width="8.4" height="5.3" fill="#000" stroke="none" stroke-width="1"/>
<text x="313" y="124.6" font-size="7.2" text-anchor="start" fill="#000">IgG</text>
<rect x="300.3" y="130.6" width="8.4" height="5.3" fill="#999" stroke="none" stroke-width="1"/>
<text x="313" y="135.8" font-size="7.2" text-anchor="start" fill="#000">IgM</text>
<rect x="292.09999999999997" y="238.75000000000003" width="7.1" height="26.849999999999994" fill="#000" stroke="none" stroke-width="1"/>
<line x1="295.65" y1="238.75000000000003" x2="295.65" y2="235.34900000000002" stroke="#000" stroke-width="0.8"/>
<line x1="293.45" y1="235.34900000000002" x2="297.84999999999997" y2="235.34900000000002" stroke="#000" stroke-width="0.9"/>
<rect x="302.2" y="243.76200000000003" width="7.1" height="21.837999999999994" fill="#999" stroke="none" stroke-width="1"/>
<line x1="305.75" y1="243.76200000000003" x2="305.75" y2="239.466" stroke="#000" stroke-width="0.8"/>
<line x1="303.55" y1="239.466" x2="307.95" y2="239.466" stroke="#000" stroke-width="0.9"/>
<line x1="300.7" y1="265.6" x2="300.7" y2="267.8" stroke="#000" stroke-width="0.9"/>
<rect x="319.0" y="239.10800000000003" width="7.1" height="26.49199999999999" fill="#000" stroke="none" stroke-width="1"/>
<line x1="322.55" y1="239.10800000000003" x2="322.55" y2="235.52800000000002" stroke="#000" stroke-width="0.8"/>
<line x1="320.35" y1="235.52800000000002" x2="324.75" y2="235.52800000000002" stroke="#000" stroke-width="0.9"/>
<rect x="329.1" y="237.85500000000002" width="7.1" height="27.745000000000005" fill="#999" stroke="none" stroke-width="1"/>
<line x1="332.65000000000003" y1="237.85500000000002" x2="332.65000000000003" y2="237.318" stroke="#000" stroke-width="0.8"/>
<line x1="330.45000000000005" y1="237.318" x2="334.85" y2="237.318" stroke="#000" stroke-width="0.9"/>
<line x1="327.6" y1="265.6" x2="327.6" y2="267.8" stroke="#000" stroke-width="0.9"/>
<rect x="345.79999999999995" y="236.42300000000003" width="7.1" height="29.176999999999992" fill="#000" stroke="none" stroke-width="1"/>
<line x1="349.34999999999997" y1="236.42300000000003" x2="349.34999999999997" y2="234.63300000000004" stroke="#000" stroke-width="0.8"/>
<line x1="347.15" y1="234.63300000000004" x2="351.54999999999995" y2="234.63300000000004" stroke="#000" stroke-width="0.9"/>
<rect x="355.9" y="233.91700000000003" width="7.1" height="31.682999999999993" fill="#999" stroke="none" stroke-width="1"/>
<line x1="359.45" y1="233.91700000000003" x2="359.45" y2="233.55900000000003" stroke="#000" stroke-width="0.8"/>
<line x1="357.25" y1="233.55900000000003" x2="361.65" y2="233.55900000000003" stroke="#000" stroke-width="0.9"/>
<line x1="354.4" y1="265.6" x2="354.4" y2="267.8" stroke="#000" stroke-width="0.9"/>
<rect x="372.79999999999995" y="186.12400000000002" width="7.1" height="79.476" fill="#000" stroke="none" stroke-width="1"/>
<line x1="376.34999999999997" y1="186.12400000000002" x2="376.34999999999997" y2="184.15500000000003" stroke="#000" stroke-width="0.8"/>
<line x1="374.15" y1="184.15500000000003" x2="378.54999999999995" y2="184.15500000000003" stroke="#000" stroke-width="0.9"/>
<rect x="382.9" y="192.747" width="7.1" height="72.85300000000001" fill="#999" stroke="none" stroke-width="1"/>
<line x1="386.45" y1="192.747" x2="386.45" y2="185.05" stroke="#000" stroke-width="0.8"/>
<line x1="384.25" y1="185.05" x2="388.65" y2="185.05" stroke="#000" stroke-width="0.9"/>
<line x1="381.4" y1="265.6" x2="381.4" y2="267.8" stroke="#000" stroke-width="0.9"/>
<rect x="399.7" y="232.127" width="7.1" height="33.47300000000001" fill="#000" stroke="none" stroke-width="1"/>
<line x1="403.25" y1="232.127" x2="403.25" y2="231.59000000000003" stroke="#000" stroke-width="0.8"/>
<line x1="401.05" y1="231.59000000000003" x2="405.45" y2="231.59000000000003" stroke="#000" stroke-width="0.9"/>
<rect x="409.8" y="231.41100000000003" width="7.1" height="34.18899999999999" fill="#999" stroke="none" stroke-width="1"/>
<line x1="413.35" y1="231.41100000000003" x2="413.35" y2="231.05300000000003" stroke="#000" stroke-width="0.8"/>
<line x1="411.15000000000003" y1="231.05300000000003" x2="415.55" y2="231.05300000000003" stroke="#000" stroke-width="0.9"/>
<line x1="408.3" y1="265.6" x2="408.3" y2="267.8" stroke="#000" stroke-width="0.9"/>
<rect x="426.7" y="166.07600000000002" width="7.1" height="99.524" fill="#000" stroke="none" stroke-width="1"/>
<line x1="430.25" y1="166.07600000000002" x2="430.25" y2="158.73700000000002" stroke="#000" stroke-width="0.8"/>
<line x1="428.05" y1="158.73700000000002" x2="432.45" y2="158.73700000000002" stroke="#000" stroke-width="0.9"/>
<rect x="436.8" y="142.80600000000004" width="7.1" height="122.79399999999998" fill="#999" stroke="none" stroke-width="1"/>
<line x1="440.35" y1="142.80600000000004" x2="440.35" y2="134.75100000000003" stroke="#000" stroke-width="0.8"/>
<line x1="438.15000000000003" y1="134.75100000000003" x2="442.55" y2="134.75100000000003" stroke="#000" stroke-width="0.9"/>
<line x1="435.3" y1="265.6" x2="435.3" y2="267.8" stroke="#000" stroke-width="0.9"/>
<rect x="453.59999999999997" y="232.84300000000002" width="7.1" height="32.757000000000005" fill="#000" stroke="none" stroke-width="1"/>
<line x1="457.15" y1="232.84300000000002" x2="457.15" y2="232.485" stroke="#000" stroke-width="0.8"/>
<line x1="454.95" y1="232.485" x2="459.34999999999997" y2="232.485" stroke="#000" stroke-width="0.9"/>
<rect x="463.7" y="232.127" width="7.1" height="33.47300000000001" fill="#999" stroke="none" stroke-width="1"/>
<line x1="467.25" y1="232.127" x2="467.25" y2="230.33700000000002" stroke="#000" stroke-width="0.8"/>
<line x1="465.05" y1="230.33700000000002" x2="469.45" y2="230.33700000000002" stroke="#000" stroke-width="0.9"/>
<line x1="462.2" y1="265.6" x2="462.2" y2="267.8" stroke="#000" stroke-width="0.9"/>
<rect x="480.59999999999997" y="162.13800000000003" width="7.1" height="103.46199999999999" fill="#000" stroke="none" stroke-width="1"/>
<line x1="484.15" y1="162.13800000000003" x2="484.15" y2="149.25000000000003" stroke="#000" stroke-width="0.8"/>
<line x1="481.95" y1="149.25000000000003" x2="486.34999999999997" y2="149.25000000000003" stroke="#000" stroke-width="0.9"/>
<rect x="490.7" y="132.78200000000004" width="7.1" height="132.81799999999998" fill="#999" stroke="none" stroke-width="1"/>
<line x1="494.25" y1="132.78200000000004" x2="494.25" y2="129.56000000000003" stroke="#000" stroke-width="0.8"/>
<line x1="492.05" y1="129.56000000000003" x2="496.45" y2="129.56000000000003" stroke="#000" stroke-width="0.9"/>
<line x1="489.2" y1="265.6" x2="489.2" y2="267.8" stroke="#000" stroke-width="0.9"/>
<path d="M349.4,233 L349.4,177.4 Q349.4,176.4 350.4,176.4 L375.0,176.4 Q376.0,176.4 376.0,177.4 L376.0,178.4" fill="none" stroke="#222" stroke-width="0.85"/>
<circle cx="363.15" cy="171.5" r="1.05" fill="#111"/>
<circle cx="366.85" cy="171.5" r="1.05" fill="#111"/>
<path d="M358.5,172.7 L358.5,164.8 Q358.5,163.8 359.5,163.8 L384.2,163.8 Q385.2,163.8 385.2,164.8 L385.2,172.7" fill="none" stroke="#222" stroke-width="0.85"/>
<circle cx="372.70" cy="158.8" r="1.05" fill="#111"/>
<path d="M400.8,230 L400.8,151.6 Q400.8,150.6 401.8,150.6 L426.9,150.6 Q427.9,150.6 427.9,151.6 L427.9,154.6" fill="none" stroke="#222" stroke-width="0.85"/>
<circle cx="414.80" cy="147.9" r="1.05" fill="#111"/>
<path d="M413.8,131.7 L413.8,123.8 Q413.8,122.8 414.8,122.8 L439.8,122.8 Q440.8,122.8 440.8,123.8 L440.8,131.7" fill="none" stroke="#222" stroke-width="0.85"/>
<circle cx="427.30" cy="119.2" r="1.05" fill="#111"/>
<path d="M456.5,230.6 L456.5,145.3 Q456.5,144.3 457.5,144.3 L482.5,144.3 Q483.5,144.3 483.5,145.3 L483.5,148" fill="none" stroke="#222" stroke-width="0.85"/>
<circle cx="471.30" cy="140.8" r="1.05" fill="#111"/>
<path d="M467.5,125 L467.5,117.4 Q467.5,116.4 468.5,116.4 L493.6,116.4 Q494.6,116.4 494.6,117.4 L494.6,124" fill="none" stroke="#222" stroke-width="0.85"/>
<circle cx="479.65" cy="113.0" r="1.05" fill="#111"/>
<circle cx="483.35" cy="113.0" r="1.05" fill="#111"/>
<text x="275.4" y="275.2" font-size="6.4" text-anchor="start" fill="#000">B cells</text>
<text x="275.4" y="286.0" font-size="6.4" text-anchor="start" fill="#000">T cells</text>
<text x="301.4" y="275.2" font-size="6.4" text-anchor="middle" fill="#000">+</text>
<text x="301.7" y="286.0" font-size="6.4" text-anchor="middle" fill="#000">-</text>
<text x="328" y="275.2" font-size="6.4" text-anchor="middle" fill="#000">+</text>
<text x="328.6" y="286.0" font-size="6.4" text-anchor="middle" fill="#000">Tet<tspan baseline-shift="35%" font-size="70%">-</tspan></text>
<text x="352.5" y="275.9" font-size="6.4" text-anchor="middle" fill="#000" textLength="18.5" lengthAdjust="spacingAndGlyphs">DMSO</text>
<text x="377.6" y="275.9" font-size="6.4" text-anchor="middle" fill="#000" textLength="25.2" lengthAdjust="spacingAndGlyphs"><tspan font-family="Liberation Serif" font-size="110%">&#945;</tspan>-GalCer</text>
<text x="410.1" y="275.9" font-size="6.4" text-anchor="middle" fill="#000" textLength="19" lengthAdjust="spacingAndGlyphs">DMSO</text>
<text x="435.7" y="275.9" font-size="6.4" text-anchor="middle" fill="#000" textLength="26.6" lengthAdjust="spacingAndGlyphs">&#946;GL1-22</text>
<text x="463.7" y="275.9" font-size="6.4" text-anchor="middle" fill="#000" textLength="19" lengthAdjust="spacingAndGlyphs">DMSO</text>
<text x="489.2" y="275.9" font-size="6.4" text-anchor="middle" fill="#000" textLength="14.5" lengthAdjust="spacingAndGlyphs">LGL1</text>
<line x1="342.8" y1="278.8" x2="391.2" y2="278.8" stroke="#000" stroke-width="0.7"/>
<line x1="398.8" y1="278.8" x2="450" y2="278.8" stroke="#000" stroke-width="0.7"/>
<line x1="452.5" y1="278.8" x2="499.2" y2="278.8" stroke="#000" stroke-width="0.7"/>
<text x="366.5" y="287" font-size="6.4" text-anchor="middle" fill="#000"><tspan font-family="Liberation Serif" font-size="110%">&#945;</tspan>-GalCer<tspan baseline-shift="35%" font-size="70%">+</tspan></text>
<text x="423.5" y="287" font-size="6.4" text-anchor="middle" fill="#000">&#946;GL1-22<tspan baseline-shift="35%" font-size="70%">+</tspan></text>
<text x="474" y="287" font-size="6.4" text-anchor="middle" fill="#000">LGL1<tspan baseline-shift="35%" font-size="70%">+</tspan></text>
<text x="-0.3" y="310.6" font-size="12.4" text-anchor="start" font-weight="bold" fill="#000">D</text>
<text x="62.5" y="340.6" font-size="9" text-anchor="middle" fill="#000">Bulk</text>
<text x="64" y="352.2" font-size="9" text-anchor="middle" fill="#000">T cells</text>
<text x="61.2" y="426.2" font-size="9" text-anchor="middle" fill="#000" textLength="41.5" lengthAdjust="spacingAndGlyphs"><tspan font-family="Liberation Serif" font-size="110%">&#945;</tspan>-GalCer</text>
<text x="61" y="437.6" font-size="9" text-anchor="middle" fill="#000">tet<tspan baseline-shift="35%" font-size="70%">+</tspan></text>
<text x="64.2" y="501.2" font-size="9" text-anchor="middle" fill="#000" textLength="37.2" lengthAdjust="spacingAndGlyphs">&#946;GL1-22</text>
<text x="62.3" y="510.6" font-size="9" text-anchor="middle" fill="#000">tet<tspan baseline-shift="35%" font-size="70%">+</tspan></text>
<text x="70.5" y="565.9" font-size="9" text-anchor="middle" fill="#000">LGL1</text>
<text x="69.5" y="576.2" font-size="9" text-anchor="middle" fill="#000">tet<tspan baseline-shift="35%" font-size="70%">+</tspan></text>
<rect x="84.2" y="301.2" width="75.39999999999999" height="76.19999999999999" fill="none" stroke="#a0a0a0" stroke-width="0.8"/>
<path d="M95.1,364.0 84.2,364.2 84.2,359.7 84.2,343.9 84.2,328.0 84.2,323.8 93.7,324.1 97.5,324.9 98.9,325.7 100.1,327.1 101.8,330.9 102.3,336.7 102.3,352.5 102.0,356.8 101.0,359.7 99.4,362.0 97.5,363.4 95.1,364.0Z" fill="rgba(0,0,0,0.11)" stroke="#5f5f5f" stroke-width="0.65" stroke-linejoin="round"/>
<path d="M94.2,361.7 84.2,361.8 84.2,357.3 84.2,343.9 84.2,330.0 84.2,325.8 91.8,325.9 95.6,326.5 98.1,328.0 99.1,329.5 99.9,331.4 100.4,336.7 100.4,352.0 100.1,355.8 99.2,358.2 98.0,359.9 96.5,361.0 94.2,361.7Z" fill="rgba(0,0,0,0.11)" stroke="#595959" stroke-width="0.65" stroke-linejoin="round"/>
<path d="M94.6,360.2 91.8,360.5 84.2,360.5 84.2,356.3 84.2,343.9 84.2,331.4 84.2,327.0 91.3,327.0 94.6,327.5 97.0,328.7 98.7,331.4 99.3,335.7 99.1,354.4 98.7,356.3 97.7,358.2 96.5,359.3 94.6,360.2Z" fill="rgba(0,0,0,0.11)" stroke="#545454" stroke-width="0.65" stroke-linejoin="round"/>
<path d="M94.2,359.3 91.3,359.6 84.2,359.6 84.2,343.9 84.2,327.9 90.8,327.8 94.2,328.3 96.5,329.6 97.9,331.9 98.4,336.2 98.3,353.9 97.8,355.8 97.0,357.4 95.6,358.7 94.2,359.3Z" fill="rgba(0,0,0,0.11)" stroke="#4f4f4f" stroke-width="0.65" stroke-linejoin="round"/>
<path d="M92.3,358.8 84.2,358.7 84.2,343.9 84.2,328.7 90.8,328.6 93.7,329.0 96.1,330.4 97.3,332.8 97.7,337.6 97.4,354.4 96.7,356.3 95.6,357.6 94.2,358.4 92.3,358.8Z" fill="rgba(0,0,0,0.11)" stroke="#494949" stroke-width="0.65" stroke-linejoin="round"/>
<path d="M93.2,357.8 90.8,358.1 84.2,358.0 84.2,343.9 84.2,329.4 90.8,329.2 93.2,329.6 95.5,330.9 96.5,332.8 97.0,336.7 96.8,353.4 95.7,356.3 94.6,357.3 93.2,357.8Z" fill="rgba(0,0,0,0.11)" stroke="#444444" stroke-width="0.65" stroke-linejoin="round"/>
<path d="M92.3,357.3 84.2,357.3 84.2,343.9 84.2,330.2 90.4,329.9 92.7,330.2 94.9,331.4 95.9,333.3 96.3,337.1 96.1,353.0 95.1,355.8 93.9,356.8 92.3,357.3Z" fill="rgba(0,0,0,0.11)" stroke="#3f3f3f" stroke-width="0.65" stroke-linejoin="round"/>
<path d="M90.8,356.8 84.2,356.5 84.2,343.9 84.2,330.9 90.4,330.5 92.3,330.7 94.3,331.9 95.3,333.8 95.6,337.1 95.4,353.0 94.8,354.9 93.9,355.8 92.7,356.5 90.8,356.8Z" fill="rgba(0,0,0,0.11)" stroke="#393939" stroke-width="0.65" stroke-linejoin="round"/>
<path d="M92.3,355.9 90.4,356.2 84.2,355.8 84.2,343.9 84.2,331.7 89.9,331.1 91.8,331.3 93.7,332.3 94.5,333.8 95.0,336.7 94.9,352.0 94.1,354.4 92.3,355.9Z" fill="rgba(0,0,0,0.11)" stroke="#343434" stroke-width="0.65" stroke-linejoin="round"/>
<path d="M91.3,355.4 84.2,355.0 84.2,332.5 91.3,331.9 93.1,332.8 93.9,334.3 94.3,336.7 94.3,351.5 94.0,353.0 93.2,354.3 91.3,355.4Z" fill="rgba(0,0,0,0.11)" stroke="#2f2f2f" stroke-width="0.65" stroke-linejoin="round"/>
<path d="M91.3,354.6 89.9,354.7 84.2,354.1 84.2,333.4 90.8,332.6 92.4,333.3 93.3,334.7 93.6,337.1 93.3,342.9 93.6,351.0 92.9,353.4 91.3,354.6Z" fill="rgba(0,0,0,0.11)" stroke="#292929" stroke-width="0.65" stroke-linejoin="round"/>
<path d="M91.3,353.6 89.9,353.9 84.2,353.1 84.2,334.4 90.4,333.4 91.8,333.9 92.7,335.2 92.9,337.6 92.4,343.4 93.0,350.6 92.5,352.5 91.3,353.6Z" fill="rgba(0,0,0,0.11)" stroke="#242424" stroke-width="0.65" stroke-linejoin="round"/>
<path d="M90.8,352.7 89.4,352.8 86.6,352.1 84.2,352.0 84.2,335.5 86.6,335.3 90.4,334.4 91.3,334.8 91.9,335.7 92.1,337.6 91.4,343.4 92.2,350.1 91.8,351.8 90.8,352.7Z" fill="rgba(0,0,0,0.11)" stroke="#1f1f1f" stroke-width="0.65" stroke-linejoin="round"/>
<path d="M89.9,351.6 86.6,350.9 84.2,350.8 84.2,336.8 87.0,336.6 89.9,335.9 90.9,336.7 91.0,338.1 90.2,343.4 91.3,349.6 90.9,351.0 89.9,351.6Z" fill="rgba(0,0,0,0.11)" stroke="#191919" stroke-width="0.65" stroke-linejoin="round"/>
<path d="M88.9,349.2 84.2,349.3 84.2,338.2 87.5,338.5 88.5,339.1 89.5,348.2 88.9,349.2Z" fill="rgba(0,0,0,0.11)" stroke="#141414" stroke-width="0.65" stroke-linejoin="round"/>
<path d="M85.1,347.3 84.2,347.5 84.2,340.0 86.1,340.8 86.9,342.9 86.7,345.8 86.2,346.7 85.1,347.3Z" fill="rgba(0,0,0,0.11)" stroke="#0f0f0f" stroke-width="0.65" stroke-linejoin="round"/><path d="M84.6,329.4C86.4,324.6 93.4,328.8 95.5,329.4C97.6,330.0 96.9,328.9 97.2,333.2C97.4,337.5 97.4,351.2 97.2,355.3C96.9,359.4 97.6,357.5 95.5,358.0C93.4,358.4 86.4,362.7 84.6,358.0C82.8,353.2 82.8,334.2 84.6,329.4Z" fill="#383838"/><ellipse cx="91.0" cy="334.0" rx="0.9" ry="0.8" fill="#bbb"/><ellipse cx="88.7" cy="339.3" rx="0.8" ry="0.9" fill="#bbb"/><ellipse cx="93.2" cy="343.1" rx="0.9" ry="0.8" fill="#bbb"/><ellipse cx="89.5" cy="348.4" rx="0.9" ry="0.8" fill="#bbb"/><ellipse cx="92.5" cy="353.0" rx="0.8" ry="0.9" fill="#bbb"/><ellipse cx="88.0" cy="354.5" rx="0.8" ry="0.8" fill="#bbb"/><ellipse cx="94.0" cy="337.0" rx="0.6" ry="0.8" fill="#bbb"/>
<text x="92.45" y="319.2" font-size="7.5" text-anchor="middle" fill="#111">50.1</text>
<rect x="176.0" y="301.2" width="77.0" height="76.19999999999999" fill="none" stroke="#a0a0a0" stroke-width="0.8"/>
<path d="M238.2,348.2h0.5v0.5h-0.5zM220.7,371.5h0.5v0.5h-0.5zM215.7,371.2h0.5v0.5h-0.5zM208.6,340.5h0.5v0.5h-0.5zM206.7,331.1h0.5v0.5h-0.5zM234.0,345.8h0.5v0.5h-0.5zM205.8,335.6h0.5v0.5h-0.5zM177.7,369.1h0.5v0.5h-0.5zM210.5,337.5h0.5v0.5h-0.5zM197.2,332.0h0.5v0.5h-0.5zM237.2,349.4h0.5v0.5h-0.5zM227.1,344.3h0.5v0.5h-0.5zM198.9,334.6h0.5v0.5h-0.5zM233.9,345.0h0.5v0.5h-0.5zM220.5,371.0h0.5v0.5h-0.5zM215.7,330.9h0.5v0.5h-0.5zM187.6,368.6h0.5v0.5h-0.5zM211.1,326.5h0.5v0.5h-0.5zM237.8,340.6h0.5v0.5h-0.5zM220.6,332.8h0.5v0.5h-0.5zM215.9,337.8h0.5v0.5h-0.5zM231.9,341.3h0.5v0.5h-0.5zM199.9,372.7h0.5v0.5h-0.5zM225.0,342.4h0.5v0.5h-0.5zM215.1,329.6h0.5v0.5h-0.5zM212.8,339.8h0.5v0.5h-0.5zM210.9,334.6h0.5v0.5h-0.5zM218.9,314.9h0.5v0.5h-0.5zM233.9,341.5h0.5v0.5h-0.5zM230.2,350.2h0.5v0.5h-0.5zM237.4,351.6h0.5v0.5h-0.5zM229.0,341.2h0.5v0.5h-0.5zM207.2,329.2h0.5v0.5h-0.5zM206.4,343.3h0.5v0.5h-0.5zM208.5,329.0h0.5v0.5h-0.5zM247.5,343.1h0.5v0.5h-0.5zM214.2,327.8h0.5v0.5h-0.5zM204.9,340.4h0.5v0.5h-0.5zM235.2,346.2h0.5v0.5h-0.5zM232.0,343.3h0.5v0.5h-0.5zM227.7,342.8h0.5v0.5h-0.5zM207.8,335.0h0.5v0.5h-0.5zM235.3,342.5h0.5v0.5h-0.5zM202.4,325.8h0.5v0.5h-0.5zM229.7,327.3h0.5v0.5h-0.5zM224.6,324.7h0.5v0.5h-0.5zM186.9,335.5h0.5v0.5h-0.5zM232.5,344.5h0.5v0.5h-0.5zM215.3,341.6h0.5v0.5h-0.5zM233.4,347.3h0.5v0.5h-0.5zM234.7,340.6h0.5v0.5h-0.5zM240.9,348.8h0.5v0.5h-0.5zM220.6,344.3h0.5v0.5h-0.5zM234.0,340.8h0.5v0.5h-0.5zM234.7,349.0h0.5v0.5h-0.5zM243.6,354.6h0.5v0.5h-0.5zM235.8,344.4h0.5v0.5h-0.5zM232.2,348.8h0.5v0.5h-0.5zM232.5,344.8h0.5v0.5h-0.5zM227.4,345.3h0.5v0.5h-0.5zM215.9,332.5h0.5v0.5h-0.5zM201.7,330.7h0.5v0.5h-0.5zM213.5,325.0h0.5v0.5h-0.5zM212.3,371.3h0.5v0.5h-0.5zM194.2,342.5h0.5v0.5h-0.5zM197.1,336.4h0.5v0.5h-0.5zM210.4,320.8h0.5v0.5h-0.5zM230.5,341.1h0.5v0.5h-0.5zM204.8,338.5h0.5v0.5h-0.5zM207.7,337.7h0.5v0.5h-0.5zM215.1,331.2h0.5v0.5h-0.5zM234.2,348.6h0.5v0.5h-0.5zM199.7,341.2h0.5v0.5h-0.5zM198.0,335.9h0.5v0.5h-0.5zM208.6,335.0h0.5v0.5h-0.5zM199.2,329.8h0.5v0.5h-0.5zM201.0,343.4h0.5v0.5h-0.5zM228.9,348.6h0.5v0.5h-0.5zM201.6,322.8h0.5v0.5h-0.5zM229.0,350.7h0.5v0.5h-0.5zM238.0,347.4h0.5v0.5h-0.5zM200.5,341.6h0.5v0.5h-0.5zM232.1,344.7h0.5v0.5h-0.5zM220.0,367.9h0.5v0.5h-0.5zM209.7,332.8h0.5v0.5h-0.5zM233.8,348.2h0.5v0.5h-0.5zM202.2,375.3h0.5v0.5h-0.5zM200.2,332.1h0.5v0.5h-0.5zM194.3,335.2h0.5v0.5h-0.5zM222.3,334.7h0.5v0.5h-0.5zM199.2,332.0h0.5v0.5h-0.5zM197.9,327.1h0.5v0.5h-0.5zM233.8,348.7h0.5v0.5h-0.5zM216.6,369.7h0.5v0.5h-0.5zM224.4,314.6h0.5v0.5h-0.5zM203.4,337.3h0.5v0.5h-0.5zM217.2,335.4h0.5v0.5h-0.5zM238.3,348.5h0.5v0.5h-0.5zM201.6,372.9h0.5v0.5h-0.5zM215.6,367.9h0.5v0.5h-0.5zM218.4,328.8h0.5v0.5h-0.5zM234.0,351.5h0.5v0.5h-0.5zM196.1,339.7h0.5v0.5h-0.5zM229.6,320.1h0.5v0.5h-0.5zM240.9,341.8h0.5v0.5h-0.5zM214.8,373.7h0.5v0.5h-0.5zM213.7,336.6h0.5v0.5h-0.5zM233.7,350.7h0.5v0.5h-0.5zM232.8,346.6h0.5v0.5h-0.5zM218.7,369.4h0.5v0.5h-0.5zM206.4,320.0h0.5v0.5h-0.5zM235.0,343.6h0.5v0.5h-0.5zM194.6,330.4h0.5v0.5h-0.5zM228.2,320.9h0.5v0.5h-0.5zM217.8,338.9h0.5v0.5h-0.5zM198.3,314.6h0.5v0.5h-0.5zM227.3,345.7h0.5v0.5h-0.5zM239.4,350.2h0.5v0.5h-0.5zM238.6,347.4h0.5v0.5h-0.5zM208.9,333.6h0.5v0.5h-0.5zM211.4,332.3h0.5v0.5h-0.5zM230.5,348.0h0.5v0.5h-0.5zM241.7,345.0h0.5v0.5h-0.5zM210.1,333.7h0.5v0.5h-0.5zM236.9,347.1h0.5v0.5h-0.5zM227.7,344.8h0.5v0.5h-0.5zM223.6,375.0h0.5v0.5h-0.5zM211.9,331.6h0.5v0.5h-0.5zM238.5,355.0h0.5v0.5h-0.5zM232.2,347.1h0.5v0.5h-0.5zM200.5,333.8h0.5v0.5h-0.5zM226.7,336.0h0.5v0.5h-0.5zM243.3,347.2h0.5v0.5h-0.5zM237.6,345.3h0.5v0.5h-0.5zM208.6,333.4h0.5v0.5h-0.5zM208.2,321.6h0.5v0.5h-0.5zM216.4,370.4h0.5v0.5h-0.5zM214.2,329.4h0.5v0.5h-0.5zM247.5,346.6h0.5v0.5h-0.5zM221.0,334.3h0.5v0.5h-0.5zM188.6,370.4h0.5v0.5h-0.5zM214.0,316.0h0.5v0.5h-0.5zM208.6,323.0h0.5v0.5h-0.5zM194.5,325.6h0.5v0.5h-0.5zM219.5,327.4h0.5v0.5h-0.5zM236.9,347.9h0.5v0.5h-0.5zM230.5,353.3h0.5v0.5h-0.5zM229.3,346.3h0.5v0.5h-0.5zM210.9,342.3h0.5v0.5h-0.5zM238.8,349.1h0.5v0.5h-0.5zM242.1,355.7h0.5v0.5h-0.5zM234.0,352.2h0.5v0.5h-0.5zM202.5,341.0h0.5v0.5h-0.5zM187.6,371.9h0.5v0.5h-0.5zM240.2,350.7h0.5v0.5h-0.5zM239.1,343.2h0.5v0.5h-0.5zM205.5,374.1h0.5v0.5h-0.5zM190.0,370.3h0.5v0.5h-0.5zM197.0,330.4h0.5v0.5h-0.5zM216.3,337.7h0.5v0.5h-0.5zM210.7,328.8h0.5v0.5h-0.5zM239.4,350.5h0.5v0.5h-0.5zM234.3,370.5h0.5v0.5h-0.5zM220.3,369.9h0.5v0.5h-0.5zM178.9,365.0h0.5v0.5h-0.5zM211.6,372.4h0.5v0.5h-0.5zM217.9,332.9h0.5v0.5h-0.5zM219.9,366.3h0.5v0.5h-0.5zM197.7,336.4h0.5v0.5h-0.5zM204.8,332.5h0.5v0.5h-0.5zM184.0,368.0h0.5v0.5h-0.5zM221.0,338.9h0.5v0.5h-0.5zM199.8,341.9h0.5v0.5h-0.5zM212.8,371.0h0.5v0.5h-0.5zM233.6,345.7h0.5v0.5h-0.5zM208.5,322.6h0.5v0.5h-0.5zM238.5,346.0h0.5v0.5h-0.5zM215.6,339.6h0.5v0.5h-0.5zM216.1,332.7h0.5v0.5h-0.5zM229.2,348.7h0.5v0.5h-0.5zM235.7,352.3h0.5v0.5h-0.5zM232.0,353.4h0.5v0.5h-0.5zM231.3,350.5h0.5v0.5h-0.5zM203.6,332.3h0.5v0.5h-0.5zM226.0,340.2h0.5v0.5h-0.5zM198.3,373.7h0.5v0.5h-0.5zM230.5,342.8h0.5v0.5h-0.5zM204.3,330.3h0.5v0.5h-0.5zM205.9,316.1h0.5v0.5h-0.5zM200.9,316.4h0.5v0.5h-0.5zM243.5,347.3h0.5v0.5h-0.5zM207.6,315.8h0.5v0.5h-0.5zM211.2,330.7h0.5v0.5h-0.5zM193.4,372.2h0.5v0.5h-0.5zM213.7,325.4h0.5v0.5h-0.5zM210.7,375.2h0.5v0.5h-0.5zM203.6,343.2h0.5v0.5h-0.5zM190.4,373.7h0.5v0.5h-0.5zM218.1,332.7h0.5v0.5h-0.5zM201.0,322.9h0.5v0.5h-0.5zM202.8,330.5h0.5v0.5h-0.5zM211.2,330.2h0.5v0.5h-0.5zM242.8,352.9h0.5v0.5h-0.5zM202.6,336.7h0.5v0.5h-0.5zM210.9,335.5h0.5v0.5h-0.5zM238.9,353.5h0.5v0.5h-0.5zM222.9,366.8h0.5v0.5h-0.5zM202.2,326.5h0.5v0.5h-0.5zM238.7,351.8h0.5v0.5h-0.5zM235.2,344.7h0.5v0.5h-0.5zM213.7,370.8h0.5v0.5h-0.5zM202.0,330.7h0.5v0.5h-0.5zM217.9,340.7h0.5v0.5h-0.5zM196.4,339.6h0.5v0.5h-0.5zM211.5,329.9h0.5v0.5h-0.5zM210.2,330.4h0.5v0.5h-0.5zM209.9,327.8h0.5v0.5h-0.5zM218.5,370.6h0.5v0.5h-0.5zM217.7,328.5h0.5v0.5h-0.5zM233.4,340.1h0.5v0.5h-0.5zM186.2,333.0h0.5v0.5h-0.5zM232.3,352.6h0.5v0.5h-0.5zM218.1,367.2h0.5v0.5h-0.5zM183.2,373.6h0.5v0.5h-0.5zM224.2,324.3h0.5v0.5h-0.5zM207.4,375.0h0.5v0.5h-0.5zM196.5,319.2h0.5v0.5h-0.5zM182.2,319.2h0.5v0.5h-0.5zM211.8,336.4h0.5v0.5h-0.5zM233.5,345.1h0.5v0.5h-0.5zM233.5,346.2h0.5v0.5h-0.5zM233.4,344.4h0.5v0.5h-0.5zM205.2,342.9h0.5v0.5h-0.5zM234.0,347.6h0.5v0.5h-0.5zM236.0,351.8h0.5v0.5h-0.5zM203.1,320.8h0.5v0.5h-0.5zM198.8,333.0h0.5v0.5h-0.5zM215.9,340.9h0.5v0.5h-0.5zM219.9,321.7h0.5v0.5h-0.5zM186.6,331.1h0.5v0.5h-0.5zM211.2,336.1h0.5v0.5h-0.5zM223.9,331.9h0.5v0.5h-0.5zM214.1,372.9h0.5v0.5h-0.5zM231.6,349.1h0.5v0.5h-0.5zM236.5,344.3h0.5v0.5h-0.5zM229.3,348.5h0.5v0.5h-0.5zM194.8,333.5h0.5v0.5h-0.5zM206.9,333.5h0.5v0.5h-0.5zM221.0,343.1h0.5v0.5h-0.5zM230.6,338.7h0.5v0.5h-0.5zM210.3,335.9h0.5v0.5h-0.5zM215.6,325.7h0.5v0.5h-0.5zM214.3,327.5h0.5v0.5h-0.5zM219.4,319.0h0.5v0.5h-0.5zM227.3,346.4h0.5v0.5h-0.5zM225.4,372.7h0.5v0.5h-0.5zM208.2,322.8h0.5v0.5h-0.5zM186.7,368.2h0.5v0.5h-0.5zM229.9,345.9h0.5v0.5h-0.5zM231.4,343.7h0.5v0.5h-0.5zM193.3,336.3h0.5v0.5h-0.5zM237.7,340.0h0.5v0.5h-0.5zM207.9,322.2h0.5v0.5h-0.5zM238.0,348.8h0.5v0.5h-0.5zM217.6,343.5h0.5v0.5h-0.5zM187.3,328.3h0.5v0.5h-0.5zM199.2,372.3h0.5v0.5h-0.5zM233.9,354.0h0.5v0.5h-0.5zM220.8,367.9h0.5v0.5h-0.5zM214.0,329.7h0.5v0.5h-0.5zM196.5,335.6h0.5v0.5h-0.5zM232.4,345.4h0.5v0.5h-0.5zM237.2,342.1h0.5v0.5h-0.5zM235.2,351.1h0.5v0.5h-0.5zM232.4,343.7h0.5v0.5h-0.5zM245.6,350.5h0.5v0.5h-0.5zM204.9,313.4h0.5v0.5h-0.5zM231.6,348.0h0.5v0.5h-0.5zM216.7,335.2h0.5v0.5h-0.5zM182.6,325.3h0.5v0.5h-0.5zM196.0,332.8h0.5v0.5h-0.5zM199.4,342.0h0.5v0.5h-0.5zM189.0,323.2h0.5v0.5h-0.5zM228.1,356.6h0.5v0.5h-0.5zM207.7,339.5h0.5v0.5h-0.5zM216.8,373.3h0.5v0.5h-0.5zM229.5,354.5h0.5v0.5h-0.5zM236.3,349.7h0.5v0.5h-0.5zM226.4,345.0h0.5v0.5h-0.5zM179.3,338.1h0.5v0.5h-0.5zM214.2,324.4h0.5v0.5h-0.5zM199.6,324.2h0.5v0.5h-0.5zM229.1,347.5h0.5v0.5h-0.5zM187.2,330.5h0.5v0.5h-0.5zM209.8,371.7h0.5v0.5h-0.5zM238.9,340.9h0.5v0.5h-0.5zM220.4,367.5h0.5v0.5h-0.5zM240.1,346.9h0.5v0.5h-0.5zM194.2,336.9h0.5v0.5h-0.5zM186.9,370.5h0.5v0.5h-0.5z" fill="#777"/>
<path d="M206.5,372.2 202.6,372.4 198.8,371.5 182.3,365.6 177.9,363.1 176.0,361.5 176.0,346.8 179.4,344.5 183.3,343.7 206.5,343.0 212.3,343.2 220.1,344.0 224.4,345.2 227.3,346.7 228.4,348.2 228.4,350.1 225.1,356.3 222.9,359.7 212.8,369.6 209.9,371.3 206.5,372.2Z" fill="rgba(0,0,0,0.07)" stroke="#5f5f5f" stroke-width="0.65" stroke-linejoin="round"/>
<path d="M205.5,370.2 202.6,370.3 199.2,369.5 184.7,364.3 180.3,362.1 178.8,360.1 178.1,356.8 178.1,350.6 178.6,348.6 179.4,347.4 181.3,346.2 185.2,345.5 207.0,344.2 218.6,345.1 222.5,346.2 225.2,347.7 226.0,349.1 225.8,350.6 222.7,356.3 220.6,359.1 211.4,368.0 208.9,369.4 205.5,370.2Z" fill="rgba(0,0,0,0.07)" stroke="#595959" stroke-width="0.65" stroke-linejoin="round"/>
<path d="M205.1,368.8 202.2,368.7 199.2,367.9 186.2,363.3 181.6,361.1 180.1,359.2 179.5,356.3 179.6,351.5 179.9,350.0 180.6,348.6 182.3,347.5 186.2,346.6 198.8,345.2 205.1,344.9 211.4,345.0 217.2,345.6 221.0,346.6 223.5,347.9 224.3,349.1 224.2,350.6 221.2,355.8 219.4,358.2 210.9,366.6 208.4,368.0 205.1,368.8Z" fill="rgba(0,0,0,0.07)" stroke="#545454" stroke-width="0.65" stroke-linejoin="round"/>
<path d="M205.1,367.4 202.2,367.3 198.9,366.4 186.7,362.1 182.8,360.1 181.3,358.2 180.8,355.8 180.8,352.0 181.8,349.6 183.7,348.3 187.1,347.4 196.3,345.9 203.6,345.3 209.9,345.3 215.7,345.9 219.6,346.8 222.2,348.2 222.9,349.1 222.8,350.6 218.0,357.8 210.1,365.4 208.0,366.6 205.1,367.4Z" fill="rgba(0,0,0,0.07)" stroke="#4f4f4f" stroke-width="0.65" stroke-linejoin="round"/>
<path d="M205.1,365.9 202.6,365.9 199.7,365.2 187.6,361.0 184.2,359.4 182.7,357.8 182.0,355.4 182.1,352.5 182.8,350.6 184.7,349.1 188.6,347.9 196.3,346.4 203.1,345.7 208.4,345.6 213.8,346.0 218.1,346.9 220.9,348.2 221.6,349.1 221.4,350.6 216.5,357.3 209.4,364.1 207.5,365.3 205.1,365.9Z" fill="rgba(0,0,0,0.07)" stroke="#494949" stroke-width="0.65" stroke-linejoin="round"/>
<path d="M206.0,364.1 203.6,364.4 201.2,364.0 186.2,358.9 184.6,357.8 183.5,355.8 183.2,353.4 183.8,351.5 185.3,350.1 188.7,348.6 195.4,347.0 201.7,346.1 207.0,345.9 211.8,346.1 216.7,347.0 219.6,348.2 220.4,349.1 220.1,350.6 216.9,353.4 214.6,356.8 210.6,361.1 208.3,363.0 206.0,364.1Z" fill="rgba(0,0,0,0.07)" stroke="#444444" stroke-width="0.65" stroke-linejoin="round"/>
<path d="M204.6,362.6 201.2,362.3 189.6,358.9 187.1,358.0 185.6,356.8 184.7,355.4 184.5,353.9 184.8,352.5 186.6,350.6 189.8,349.1 195.9,347.4 201.2,346.4 206.5,346.1 211.8,346.4 216.7,347.4 219.0,348.6 219.3,349.6 218.8,350.6 213.1,353.9 212.0,356.8 209.1,360.1 207.0,361.8 204.6,362.6Z" fill="rgba(0,0,0,0.07)" stroke="#3f3f3f" stroke-width="0.65" stroke-linejoin="round"/>
<path d="M205.1,360.3 202.2,360.4 189.1,357.5 187.1,356.4 186.2,355.4 185.8,353.9 186.0,353.0 187.2,351.5 189.8,350.1 196.2,347.7 200.7,346.8 206.0,346.4 210.9,346.6 215.2,347.4 217.9,348.6 218.2,349.1 218.0,350.1 215.7,351.5 211.4,352.7 204.3,353.9 207.5,355.1 208.5,356.3 208.3,357.3 207.4,358.7 205.1,360.3Z" fill="rgba(0,0,0,0.07)" stroke="#393939" stroke-width="0.65" stroke-linejoin="round"/>
<path d="M196.3,356.8 192.9,357.1 189.4,356.3 187.6,354.9 187.4,353.9 187.6,353.0 189.1,351.7 195.1,348.6 197.7,347.7 201.7,346.9 207.0,346.6 211.8,346.9 215.2,347.7 216.2,348.2 217.2,349.1 216.8,350.1 216.1,350.6 211.8,351.9 207.5,352.3 199.7,352.2 197.8,352.4 197.3,353.4 197.8,355.8 197.5,356.3 196.3,356.8Z" fill="rgba(0,0,0,0.07)" stroke="#343434" stroke-width="0.65" stroke-linejoin="round"/>
<path d="M210.9,351.5 207.0,351.8 202.2,351.6 196.8,350.9 195.5,350.1 195.9,349.1 197.8,348.1 201.2,347.2 205.1,346.9 212.3,347.3 215.2,348.2 216.2,349.1 215.7,350.0 214.7,350.6 210.9,351.5ZM192.9,355.4 191.5,355.4 190.1,354.9 189.7,354.4 189.6,353.4 191.5,352.3 193.4,352.6 194.2,353.4 194.3,354.4 193.9,354.9 192.9,355.4Z" fill="rgba(0,0,0,0.07)" stroke="#2f2f2f" stroke-width="0.65" stroke-linejoin="round"/>
<path d="M211.4,351.1 207.5,351.4 202.6,351.2 198.8,350.6 197.3,349.6 197.9,348.6 199.2,348.0 205.1,347.1 210.9,347.3 213.3,347.9 214.9,348.6 215.0,349.6 214.5,350.1 211.4,351.1Z" fill="rgba(0,0,0,0.07)" stroke="#292929" stroke-width="0.65" stroke-linejoin="round"/>
<path d="M208.4,351.1 205.1,351.1 201.2,350.6 199.4,350.1 198.7,349.6 198.6,349.1 200.1,348.2 201.8,347.7 207.0,347.3 211.8,347.8 213.3,348.3 214.2,349.1 214.0,349.6 212.8,350.3 208.4,351.1Z" fill="rgba(0,0,0,0.07)" stroke="#242424" stroke-width="0.65" stroke-linejoin="round"/>
<path d="M209.9,350.6 206.5,350.8 203.2,350.6 201.0,350.1 200.1,349.6 199.8,349.1 200.2,348.6 202.2,347.9 207.0,347.5 211.4,348.0 212.9,348.6 213.2,349.1 212.0,350.1 209.9,350.6Z" fill="rgba(0,0,0,0.07)" stroke="#1f1f1f" stroke-width="0.65" stroke-linejoin="round"/>
<path d="M210.4,350.1 207.5,350.5 204.6,350.4 202.2,349.9 201.0,349.1 201.4,348.6 203.6,348.0 208.9,347.8 211.9,348.6 212.2,349.1 211.8,349.6 210.4,350.1Z" fill="rgba(0,0,0,0.07)" stroke="#191919" stroke-width="0.65" stroke-linejoin="round"/>
<path d="M208.0,350.1 204.6,350.0 202.8,349.6 202.3,349.1 202.7,348.6 204.1,348.2 207.0,348.0 209.4,348.2 210.7,348.6 211.0,349.1 210.4,349.6 208.0,350.1Z" fill="rgba(0,0,0,0.07)" stroke="#141414" stroke-width="0.65" stroke-linejoin="round"/>
<path d="M208.4,349.6 205.5,349.7 203.9,349.1 204.4,348.6 207.0,348.4 209.1,348.6 209.6,349.1 208.4,349.6Z" fill="rgba(0,0,0,0.07)" stroke="#0f0f0f" stroke-width="0.65" stroke-linejoin="round"/>
<rect x="192.5" y="322.7" width="32.19999999999999" height="52.60000000000002" fill="none" stroke="#8c8c8c" stroke-width="0.7"/>
<text x="208" y="317.4" font-size="7.5" text-anchor="middle" fill="#111">6.59</text>
<text x="183.5" y="375.9" font-size="7.5" text-anchor="middle" fill="#111">37</text>
<rect x="84.2" y="380.2" width="75.39999999999999" height="76.19999999999999" fill="none" stroke="#a0a0a0" stroke-width="0.8"/>
<path d="M85.6,441.1 84.2,441.1 84.2,438.2 84.2,407.5 84.2,402.6 86.6,403.2 89.9,405.6 90.8,406.0 97.5,405.5 103.6,406.8 107.4,408.3 110.4,410.4 111.4,411.8 112.0,413.7 111.9,415.7 111.4,417.1 109.8,419.0 107.9,420.3 102.1,422.4 102.9,422.9 106.5,423.1 110.2,422.9 117.4,421.8 120.1,420.9 121.1,419.5 121.4,415.2 121.9,413.3 123.9,409.4 125.5,407.5 127.4,405.9 130.2,404.4 132.1,403.9 134.0,404.0 136.4,404.9 138.3,406.4 142.5,410.9 144.7,412.3 154.4,415.2 156.0,416.6 156.8,418.1 156.9,419.5 156.5,420.9 154.4,423.3 142.5,430.0 137.3,434.0 134.9,435.2 132.6,435.6 126.4,435.3 104.6,439.3 85.6,441.1Z" fill="rgba(0,0,0,0.09)" stroke="#5f5f5f" stroke-width="0.65" stroke-linejoin="round"/>
<path d="M88.9,439.2 84.2,439.5 84.2,438.7 84.2,411.4 84.2,404.3 86.6,405.1 89.4,408.1 90.4,408.6 97.0,407.7 100.3,408.1 104.6,409.3 107.7,410.9 108.7,411.8 109.4,413.3 109.5,415.2 108.9,416.6 107.4,418.0 105.5,418.9 98.4,419.8 95.6,419.8 91.8,419.1 90.8,419.4 90.0,420.9 89.9,422.9 90.5,424.3 91.8,424.9 107.0,425.0 118.3,423.4 121.2,422.7 122.5,421.9 123.1,420.9 123.8,414.7 125.8,410.4 128.8,407.5 132.1,406.2 134.5,406.5 136.4,407.5 141.6,412.9 143.5,414.4 145.4,415.3 151.5,417.1 153.1,418.5 153.2,420.0 151.6,421.9 142.5,427.3 136.8,431.8 134.5,432.9 125.5,433.7 105.1,437.5 88.9,439.2Z" fill="rgba(0,0,0,0.09)" stroke="#595959" stroke-width="0.65" stroke-linejoin="round"/>
<path d="M87.5,438.2 84.2,438.5 84.2,437.2 84.2,411.8 84.2,405.3 85.6,405.7 86.6,406.4 88.9,409.8 89.9,410.6 90.8,410.7 95.1,409.2 98.9,409.3 105.1,410.8 106.7,411.8 107.8,413.3 108.0,414.7 107.4,416.1 106.0,417.3 104.1,418.0 97.0,418.5 94.6,418.2 90.8,417.0 89.9,417.5 89.0,420.0 88.9,423.3 89.7,425.2 91.3,426.1 107.0,426.2 118.8,424.5 122.1,423.6 123.6,422.8 124.4,421.4 125.1,415.2 126.7,411.4 129.3,408.7 132.1,407.5 134.0,407.7 135.9,408.6 137.9,410.4 142.5,415.9 147.6,418.5 148.6,419.5 148.6,420.5 147.3,421.9 142.1,425.5 136.8,430.4 134.5,431.6 125.0,432.6 104.6,436.4 87.5,438.2Z" fill="rgba(0,0,0,0.09)" stroke="#545454" stroke-width="0.65" stroke-linejoin="round"/>
<path d="M84.7,437.7 84.2,437.7 84.2,433.4 84.2,406.2 85.6,406.7 86.6,407.6 89.3,413.3 89.3,414.7 88.3,419.0 88.1,423.3 88.9,425.8 90.8,427.0 107.4,427.1 119.8,425.3 123.1,424.4 124.6,423.3 125.4,421.9 126.1,415.7 127.3,412.3 129.3,409.9 132.1,408.6 134.5,408.9 136.8,410.5 138.7,412.8 143.5,420.0 143.6,420.9 143.1,421.9 138.5,427.6 136.4,429.6 134.0,430.8 124.5,431.7 104.6,435.5 84.7,437.7ZM103.2,417.1 98.0,417.4 94.6,416.9 91.9,415.2 91.3,414.2 91.3,413.3 93.0,411.4 95.6,410.4 98.9,410.4 103.3,411.4 105.5,412.5 106.6,414.2 106.4,415.2 105.6,416.1 103.2,417.1Z" fill="rgba(0,0,0,0.09)" stroke="#4f4f4f" stroke-width="0.65" stroke-linejoin="round"/>
<path d="M85.6,436.9 84.2,437.0 84.2,435.3 84.2,407.0 85.1,407.4 86.3,408.5 87.9,412.8 87.5,422.4 87.9,425.2 88.9,427.0 90.8,428.0 107.9,428.0 119.8,426.3 123.6,425.3 125.0,424.3 126.0,422.9 126.8,416.1 128.0,412.8 129.7,410.6 132.1,409.4 134.5,409.8 136.8,411.5 139.0,414.7 141.0,419.0 141.3,420.5 141.0,421.9 139.3,425.2 136.8,428.3 134.0,429.9 124.0,430.8 105.1,434.5 88.9,436.1 85.6,436.9ZM101.7,416.2 98.0,416.2 95.6,415.8 93.8,414.7 93.6,413.3 95.1,411.9 97.5,411.5 102.2,412.3 104.3,413.3 104.9,414.2 104.5,415.2 103.6,415.7 101.7,416.2Z" fill="rgba(0,0,0,0.09)" stroke="#494949" stroke-width="0.65" stroke-linejoin="round"/>
<path d="M84.2,436.3 84.2,408.0 85.1,408.4 86.0,409.4 87.1,412.8 86.9,422.9 87.2,425.2 88.5,427.9 90.4,429.0 107.9,429.1 119.3,427.8 123.1,426.9 125.5,425.4 126.5,423.8 127.0,421.9 127.5,416.1 128.5,413.3 130.2,411.2 132.1,410.3 134.0,410.4 136.2,411.8 138.0,414.2 139.6,417.6 140.1,420.9 139.2,423.8 136.8,427.3 134.0,429.2 122.1,429.8 105.1,433.4 94.2,434.8 88.9,434.9 84.2,436.3ZM98.4,413.8 97.9,413.7 98.4,413.8Z" fill="rgba(0,0,0,0.09)" stroke="#444444" stroke-width="0.65" stroke-linejoin="round"/>
<path d="M84.7,435.4 84.2,435.4 84.2,432.4 84.2,409.1 85.6,410.4 86.4,413.3 86.5,425.2 87.5,428.0 88.9,430.3 89.9,430.8 94.2,430.3 99.5,430.5 103.1,431.0 103.6,431.5 101.1,432.4 94.6,433.5 92.3,433.5 89.4,432.9 84.7,435.4ZM133.5,428.6 131.6,428.8 127.8,428.3 126.4,427.7 126.2,427.2 127.5,423.3 127.8,417.6 128.5,414.7 130.2,412.1 131.1,411.4 132.6,411.0 134.9,411.6 136.8,413.5 138.5,416.6 139.3,420.0 138.8,422.9 137.4,425.7 135.4,427.7 133.5,428.6Z" fill="rgba(0,0,0,0.09)" stroke="#3f3f3f" stroke-width="0.65" stroke-linejoin="round"/>
<path d="M84.2,434.4 84.2,410.7 85.1,411.8 85.5,413.3 85.6,424.3 87.2,430.5 86.4,432.9 85.5,433.9 84.2,434.4ZM134.0,427.8 132.1,428.1 129.7,427.6 128.3,426.7 128.0,425.7 128.3,418.5 128.8,415.7 130.2,413.0 131.1,412.2 132.6,411.7 134.5,412.1 136.4,413.7 137.9,416.6 138.6,419.5 138.4,421.9 137.6,424.3 135.9,426.6 134.0,427.8Z" fill="rgba(0,0,0,0.09)" stroke="#393939" stroke-width="0.65" stroke-linejoin="round"/>
<path d="M133.5,427.3 131.6,427.3 129.7,426.5 128.9,425.2 128.7,422.9 128.8,418.1 129.5,415.2 131.1,413.0 133.0,412.3 134.9,413.1 136.4,414.7 137.5,417.1 138.1,420.0 137.8,422.4 136.7,424.8 135.4,426.3 133.5,427.3ZM84.7,432.6 84.2,432.8 84.2,417.3 84.4,423.8 85.8,429.6 85.6,431.2 84.7,432.6Z" fill="rgba(0,0,0,0.09)" stroke="#343434" stroke-width="0.65" stroke-linejoin="round"/>
<path d="M133.0,426.7 131.1,426.4 129.8,425.2 129.3,423.3 129.1,420.0 129.4,417.1 130.2,415.0 131.6,413.4 133.0,413.0 134.5,413.5 136.1,415.2 137.2,417.6 137.6,420.0 137.2,422.4 136.4,424.3 134.9,425.9 133.0,426.7Z" fill="rgba(0,0,0,0.09)" stroke="#2f2f2f" stroke-width="0.65" stroke-linejoin="round"/>
<path d="M134.0,425.8 132.1,426.0 130.8,425.2 130.0,423.8 129.6,421.4 129.6,418.5 130.2,416.1 131.5,414.2 133.0,413.7 134.5,414.2 135.5,415.2 136.6,417.1 137.1,419.5 137.0,421.4 136.3,423.3 135.4,424.8 134.0,425.8Z" fill="rgba(0,0,0,0.09)" stroke="#292929" stroke-width="0.65" stroke-linejoin="round"/>
<path d="M133.5,425.3 132.1,425.2 130.9,424.3 130.3,422.9 130.0,420.5 130.1,418.1 130.7,416.1 131.6,414.9 133.0,414.4 134.5,414.9 135.4,415.9 136.2,417.6 136.6,419.5 136.5,421.4 135.9,423.2 134.9,424.5 133.5,425.3Z" fill="rgba(0,0,0,0.09)" stroke="#242424" stroke-width="0.65" stroke-linejoin="round"/>
<path d="M134.0,424.4 132.6,424.6 131.6,424.1 130.9,422.9 130.4,420.9 130.5,418.5 131.1,416.6 132.1,415.4 133.0,415.1 134.0,415.3 135.0,416.1 135.7,417.6 136.2,419.5 135.7,422.4 134.9,423.6 134.0,424.4Z" fill="rgba(0,0,0,0.09)" stroke="#1f1f1f" stroke-width="0.65" stroke-linejoin="round"/>
<path d="M133.5,423.8 132.6,423.8 131.6,423.0 130.9,420.5 131.0,418.5 131.4,417.1 132.1,416.2 133.0,415.8 134.0,416.1 134.9,417.1 135.7,419.5 135.1,422.4 134.5,423.3 133.5,423.8Z" fill="rgba(0,0,0,0.09)" stroke="#191919" stroke-width="0.65" stroke-linejoin="round"/>
<path d="M133.5,423.0 132.6,422.9 132.1,422.5 131.4,420.5 131.7,418.1 132.3,417.1 133.0,416.7 134.5,417.5 135.2,419.5 134.9,421.4 134.4,422.4 133.5,423.0Z" fill="rgba(0,0,0,0.09)" stroke="#141414" stroke-width="0.65" stroke-linejoin="round"/>
<path d="M133.5,421.9 132.6,421.6 132.0,420.5 132.1,419.0 133.0,417.8 134.0,418.2 134.5,419.5 134.3,420.9 133.5,421.9Z" fill="rgba(0,0,0,0.09)" stroke="#0f0f0f" stroke-width="0.65" stroke-linejoin="round"/><path d="M128.7,410.7C129.4,409.4 131.2,408.8 132.5,409.2C133.7,409.5 135.2,411.1 136.2,413.0C137.2,414.9 138.4,418.3 138.5,420.6C138.6,422.9 137.9,425.4 137.0,426.7C136.1,428.0 134.3,428.7 133.2,428.2C132.1,427.7 131.1,425.5 130.2,423.6C129.3,421.7 128.2,418.9 127.9,416.8C127.7,414.6 127.9,411.9 128.7,410.7Z" fill="#111"/><path d="M84.2,406.1C84.6,401.2 86.0,405.1 86.5,407.6C86.9,410.2 86.8,416.6 86.8,421.3C86.8,426.0 86.9,433.2 86.5,435.8C86.0,438.5 84.6,442.3 84.2,437.3C83.8,432.4 83.8,411.1 84.2,406.1Z" fill="#111"/>
<rect x="115.7" y="401" width="41.10000000000001" height="32.19999999999999" fill="none" stroke="#8c8c8c" stroke-width="0.7"/>
<text x="147.5" y="393.3" font-size="7.5" text-anchor="middle" fill="#111">87.7</text>
<rect x="176.0" y="380.2" width="77.0" height="76.19999999999999" fill="none" stroke="#a0a0a0" stroke-width="0.8"/>
<path d="M198.3,397.7h0.5v0.5h-0.5zM217.7,411.6h0.5v0.5h-0.5zM224.6,405.2h0.5v0.5h-0.5zM236.2,428.8h0.5v0.5h-0.5zM195.5,416.0h0.5v0.5h-0.5zM208.4,410.5h0.5v0.5h-0.5zM202.7,385.9h0.5v0.5h-0.5zM221.6,403.5h0.5v0.5h-0.5zM186.2,450.3h0.5v0.5h-0.5zM209.2,400.1h0.5v0.5h-0.5zM200.0,399.4h0.5v0.5h-0.5zM210.9,419.1h0.5v0.5h-0.5zM241.2,427.0h0.5v0.5h-0.5zM226.9,408.5h0.5v0.5h-0.5zM235.7,429.8h0.5v0.5h-0.5zM227.9,448.6h0.5v0.5h-0.5zM246.6,426.5h0.5v0.5h-0.5zM225.2,418.1h0.5v0.5h-0.5zM222.3,407.1h0.5v0.5h-0.5zM214.8,450.5h0.5v0.5h-0.5zM214.1,407.0h0.5v0.5h-0.5zM181.8,448.8h0.5v0.5h-0.5zM207.8,405.6h0.5v0.5h-0.5zM219.3,395.8h0.5v0.5h-0.5zM200.3,450.7h0.5v0.5h-0.5zM216.3,397.9h0.5v0.5h-0.5zM245.5,427.1h0.5v0.5h-0.5zM243.5,423.4h0.5v0.5h-0.5zM208.2,418.8h0.5v0.5h-0.5zM241.4,424.9h0.5v0.5h-0.5zM207.3,412.7h0.5v0.5h-0.5zM208.7,420.1h0.5v0.5h-0.5zM213.2,389.6h0.5v0.5h-0.5zM180.4,451.5h0.5v0.5h-0.5zM230.2,415.1h0.5v0.5h-0.5zM243.5,448.6h0.5v0.5h-0.5zM245.1,430.3h0.5v0.5h-0.5zM204.5,453.0h0.5v0.5h-0.5zM195.6,449.9h0.5v0.5h-0.5zM210.3,413.3h0.5v0.5h-0.5zM214.9,401.1h0.5v0.5h-0.5zM209.0,412.6h0.5v0.5h-0.5zM242.1,432.4h0.5v0.5h-0.5zM236.1,454.9h0.5v0.5h-0.5zM205.0,408.0h0.5v0.5h-0.5zM235.6,431.2h0.5v0.5h-0.5zM198.9,398.7h0.5v0.5h-0.5zM177.6,451.8h0.5v0.5h-0.5zM199.9,408.6h0.5v0.5h-0.5zM239.2,428.2h0.5v0.5h-0.5zM242.3,428.7h0.5v0.5h-0.5zM188.2,383.6h0.5v0.5h-0.5zM236.4,433.0h0.5v0.5h-0.5zM198.9,415.3h0.5v0.5h-0.5zM192.9,448.8h0.5v0.5h-0.5zM229.5,423.3h0.5v0.5h-0.5zM212.5,400.0h0.5v0.5h-0.5zM209.4,411.4h0.5v0.5h-0.5zM195.0,449.5h0.5v0.5h-0.5zM212.0,451.7h0.5v0.5h-0.5zM202.1,414.7h0.5v0.5h-0.5zM206.2,411.4h0.5v0.5h-0.5zM206.6,414.1h0.5v0.5h-0.5zM205.4,404.7h0.5v0.5h-0.5zM217.7,400.3h0.5v0.5h-0.5zM201.8,415.7h0.5v0.5h-0.5zM207.8,407.9h0.5v0.5h-0.5zM210.5,453.5h0.5v0.5h-0.5zM202.3,410.1h0.5v0.5h-0.5zM204.8,420.4h0.5v0.5h-0.5zM202.8,449.7h0.5v0.5h-0.5zM234.9,423.3h0.5v0.5h-0.5zM218.7,404.9h0.5v0.5h-0.5zM194.0,398.5h0.5v0.5h-0.5zM234.2,421.6h0.5v0.5h-0.5zM199.7,407.0h0.5v0.5h-0.5zM201.8,402.5h0.5v0.5h-0.5zM202.4,395.0h0.5v0.5h-0.5zM222.6,410.0h0.5v0.5h-0.5zM211.4,401.5h0.5v0.5h-0.5zM244.9,431.0h0.5v0.5h-0.5zM215.5,411.9h0.5v0.5h-0.5zM206.2,406.4h0.5v0.5h-0.5zM219.8,417.3h0.5v0.5h-0.5zM246.1,432.9h0.5v0.5h-0.5zM212.5,419.0h0.5v0.5h-0.5zM209.7,417.5h0.5v0.5h-0.5zM212.5,395.0h0.5v0.5h-0.5zM245.6,421.6h0.5v0.5h-0.5zM213.6,414.6h0.5v0.5h-0.5zM242.3,428.8h0.5v0.5h-0.5zM185.1,449.6h0.5v0.5h-0.5zM199.0,416.3h0.5v0.5h-0.5zM241.5,427.9h0.5v0.5h-0.5zM221.3,420.6h0.5v0.5h-0.5zM232.4,415.4h0.5v0.5h-0.5zM208.7,415.9h0.5v0.5h-0.5zM208.5,399.1h0.5v0.5h-0.5zM215.2,453.3h0.5v0.5h-0.5zM218.7,408.5h0.5v0.5h-0.5zM216.4,410.6h0.5v0.5h-0.5zM186.9,415.1h0.5v0.5h-0.5zM241.0,452.8h0.5v0.5h-0.5zM188.3,392.0h0.5v0.5h-0.5zM206.4,452.4h0.5v0.5h-0.5zM244.2,423.6h0.5v0.5h-0.5zM236.9,429.2h0.5v0.5h-0.5zM242.1,427.9h0.5v0.5h-0.5zM213.5,418.3h0.5v0.5h-0.5zM207.0,411.1h0.5v0.5h-0.5zM247.3,425.3h0.5v0.5h-0.5zM221.2,415.5h0.5v0.5h-0.5zM232.7,450.1h0.5v0.5h-0.5zM206.3,403.9h0.5v0.5h-0.5zM225.6,403.5h0.5v0.5h-0.5zM215.0,411.0h0.5v0.5h-0.5zM212.7,453.7h0.5v0.5h-0.5zM191.0,450.0h0.5v0.5h-0.5zM224.9,420.7h0.5v0.5h-0.5zM220.5,412.9h0.5v0.5h-0.5zM213.7,415.8h0.5v0.5h-0.5zM221.3,410.3h0.5v0.5h-0.5zM196.4,448.9h0.5v0.5h-0.5zM219.6,410.2h0.5v0.5h-0.5zM243.4,425.3h0.5v0.5h-0.5zM182.3,447.0h0.5v0.5h-0.5zM204.2,422.2h0.5v0.5h-0.5zM238.0,426.8h0.5v0.5h-0.5zM204.7,421.2h0.5v0.5h-0.5zM204.8,451.0h0.5v0.5h-0.5zM201.3,421.8h0.5v0.5h-0.5zM216.5,407.6h0.5v0.5h-0.5zM217.2,415.7h0.5v0.5h-0.5zM210.9,414.8h0.5v0.5h-0.5zM204.4,454.6h0.5v0.5h-0.5zM217.8,402.5h0.5v0.5h-0.5zM238.3,426.1h0.5v0.5h-0.5zM213.7,382.9h0.5v0.5h-0.5zM210.8,452.7h0.5v0.5h-0.5zM202.4,418.7h0.5v0.5h-0.5zM238.5,429.4h0.5v0.5h-0.5zM198.3,419.3h0.5v0.5h-0.5zM209.5,417.7h0.5v0.5h-0.5zM239.5,427.2h0.5v0.5h-0.5zM240.5,426.1h0.5v0.5h-0.5zM220.8,414.7h0.5v0.5h-0.5zM207.0,407.7h0.5v0.5h-0.5zM192.9,407.1h0.5v0.5h-0.5zM225.1,391.7h0.5v0.5h-0.5zM208.7,410.9h0.5v0.5h-0.5zM209.4,452.7h0.5v0.5h-0.5zM218.6,449.2h0.5v0.5h-0.5zM228.7,420.2h0.5v0.5h-0.5zM199.4,399.2h0.5v0.5h-0.5zM209.9,406.2h0.5v0.5h-0.5zM207.0,407.8h0.5v0.5h-0.5zM222.7,406.4h0.5v0.5h-0.5zM206.0,451.9h0.5v0.5h-0.5zM209.8,420.4h0.5v0.5h-0.5zM186.9,447.0h0.5v0.5h-0.5zM215.9,417.1h0.5v0.5h-0.5zM197.0,401.9h0.5v0.5h-0.5zM208.8,454.2h0.5v0.5h-0.5zM211.9,452.9h0.5v0.5h-0.5zM218.1,410.9h0.5v0.5h-0.5zM228.4,449.0h0.5v0.5h-0.5zM227.8,403.1h0.5v0.5h-0.5zM207.1,400.1h0.5v0.5h-0.5zM234.4,423.9h0.5v0.5h-0.5zM224.0,446.1h0.5v0.5h-0.5zM197.5,411.7h0.5v0.5h-0.5zM219.6,449.9h0.5v0.5h-0.5zM209.4,407.0h0.5v0.5h-0.5zM216.3,418.3h0.5v0.5h-0.5zM230.0,416.8h0.5v0.5h-0.5zM235.3,395.6h0.5v0.5h-0.5zM220.9,412.1h0.5v0.5h-0.5zM194.3,412.8h0.5v0.5h-0.5zM239.3,430.1h0.5v0.5h-0.5zM197.8,413.7h0.5v0.5h-0.5zM239.0,425.7h0.5v0.5h-0.5zM235.0,420.1h0.5v0.5h-0.5zM237.9,438.0h0.5v0.5h-0.5zM197.0,422.2h0.5v0.5h-0.5zM203.6,404.4h0.5v0.5h-0.5zM217.1,447.8h0.5v0.5h-0.5zM220.5,448.0h0.5v0.5h-0.5zM208.8,414.3h0.5v0.5h-0.5zM206.5,415.1h0.5v0.5h-0.5zM238.3,421.6h0.5v0.5h-0.5zM232.3,447.0h0.5v0.5h-0.5zM236.2,428.0h0.5v0.5h-0.5zM236.9,425.6h0.5v0.5h-0.5zM218.6,449.7h0.5v0.5h-0.5zM178.9,449.2h0.5v0.5h-0.5zM222.6,451.7h0.5v0.5h-0.5zM220.6,413.9h0.5v0.5h-0.5zM192.6,450.7h0.5v0.5h-0.5zM241.2,428.6h0.5v0.5h-0.5zM206.3,413.5h0.5v0.5h-0.5zM246.7,428.7h0.5v0.5h-0.5zM210.5,415.2h0.5v0.5h-0.5zM216.6,391.0h0.5v0.5h-0.5zM222.2,451.6h0.5v0.5h-0.5zM236.3,417.3h0.5v0.5h-0.5zM212.8,412.2h0.5v0.5h-0.5zM222.8,415.9h0.5v0.5h-0.5zM212.3,400.6h0.5v0.5h-0.5zM192.3,382.3h0.5v0.5h-0.5zM219.0,400.1h0.5v0.5h-0.5zM210.3,396.4h0.5v0.5h-0.5zM216.9,417.7h0.5v0.5h-0.5zM201.0,450.8h0.5v0.5h-0.5zM207.3,403.5h0.5v0.5h-0.5zM204.5,383.6h0.5v0.5h-0.5zM238.7,426.7h0.5v0.5h-0.5zM240.1,424.4h0.5v0.5h-0.5zM203.4,401.6h0.5v0.5h-0.5zM245.3,421.0h0.5v0.5h-0.5zM242.9,424.7h0.5v0.5h-0.5zM219.7,413.0h0.5v0.5h-0.5zM236.7,426.0h0.5v0.5h-0.5zM192.4,448.2h0.5v0.5h-0.5zM210.9,410.4h0.5v0.5h-0.5zM216.7,451.3h0.5v0.5h-0.5zM182.7,447.6h0.5v0.5h-0.5zM208.1,421.7h0.5v0.5h-0.5zM233.0,422.2h0.5v0.5h-0.5zM239.5,426.3h0.5v0.5h-0.5zM194.8,407.8h0.5v0.5h-0.5zM211.9,395.9h0.5v0.5h-0.5zM204.0,421.2h0.5v0.5h-0.5zM225.0,422.3h0.5v0.5h-0.5zM214.3,409.4h0.5v0.5h-0.5zM207.8,409.4h0.5v0.5h-0.5zM212.8,408.2h0.5v0.5h-0.5zM196.9,402.7h0.5v0.5h-0.5zM194.7,450.9h0.5v0.5h-0.5zM205.6,418.2h0.5v0.5h-0.5zM200.1,412.6h0.5v0.5h-0.5zM209.0,404.7h0.5v0.5h-0.5zM206.1,417.6h0.5v0.5h-0.5zM241.7,429.0h0.5v0.5h-0.5zM206.4,422.2h0.5v0.5h-0.5zM216.1,449.6h0.5v0.5h-0.5zM219.0,454.7h0.5v0.5h-0.5zM214.9,409.7h0.5v0.5h-0.5zM201.9,413.7h0.5v0.5h-0.5zM209.0,451.1h0.5v0.5h-0.5zM242.5,427.0h0.5v0.5h-0.5zM215.6,410.9h0.5v0.5h-0.5zM200.4,450.8h0.5v0.5h-0.5zM237.8,421.7h0.5v0.5h-0.5zM240.4,429.0h0.5v0.5h-0.5zM213.3,398.6h0.5v0.5h-0.5zM206.2,453.5h0.5v0.5h-0.5zM234.9,424.7h0.5v0.5h-0.5zM222.3,411.9h0.5v0.5h-0.5zM227.4,405.8h0.5v0.5h-0.5zM212.7,409.2h0.5v0.5h-0.5z" fill="#777"/>
<path d="M211.4,450.2 208.0,450.5 202.2,449.5 181.8,445.3 176.0,443.2 176.0,439.6 176.0,432.0 176.0,425.2 176.0,422.6 179.9,423.5 204.1,422.1 217.2,422.0 230.7,423.4 233.1,424.1 235.0,425.2 236.0,426.7 235.5,428.6 224.9,440.6 222.0,443.2 216.2,447.6 213.3,449.4 211.4,450.2Z" fill="rgba(0,0,0,0.07)" stroke="#5f5f5f" stroke-width="0.65" stroke-linejoin="round"/>
<path d="M209.9,448.3 205.5,448.1 183.7,443.6 180.8,442.8 177.9,441.0 176.0,440.7 176.0,432.0 176.0,424.2 179.9,425.8 202.6,423.2 215.2,423.0 222.0,423.5 228.3,424.4 231.1,425.2 232.6,426.2 233.0,427.6 232.3,429.1 222.5,440.0 213.8,446.7 211.8,447.7 209.9,448.3Z" fill="rgba(0,0,0,0.07)" stroke="#595959" stroke-width="0.65" stroke-linejoin="round"/>
<path d="M209.4,446.9 205.1,446.5 183.7,442.2 181.0,441.1 178.9,439.0 176.0,439.4 176.0,432.0 176.0,425.1 177.5,425.6 179.9,427.7 183.3,426.7 199.7,424.1 206.5,423.5 213.8,423.5 224.9,424.6 228.8,425.5 230.8,426.7 231.1,427.6 230.7,428.6 221.4,439.1 213.3,445.3 211.4,446.3 209.4,446.9Z" fill="rgba(0,0,0,0.07)" stroke="#545454" stroke-width="0.65" stroke-linejoin="round"/>
<path d="M209.4,445.5 204.6,445.1 183.7,440.7 182.3,440.1 181.3,439.1 179.9,435.9 179.4,436.0 177.5,438.1 176.0,438.6 176.0,432.0 176.0,425.8 177.7,426.7 179.9,430.3 180.4,430.4 181.8,428.9 183.5,428.1 188.6,427.2 197.3,425.0 204.6,424.0 211.8,423.8 218.6,424.2 225.1,425.2 228.8,426.7 229.4,427.6 229.0,428.6 226.1,431.5 220.5,438.2 213.3,443.7 211.4,444.8 209.4,445.5Z" fill="rgba(0,0,0,0.07)" stroke="#4f4f4f" stroke-width="0.65" stroke-linejoin="round"/>
<path d="M209.4,444.0 207.5,444.1 204.1,443.7 187.1,440.2 184.2,439.3 182.8,438.3 182.0,436.8 181.7,433.9 182.2,431.5 183.3,430.2 184.5,429.6 189.6,428.5 196.4,425.7 203.6,424.5 211.4,424.1 218.6,424.5 224.8,425.7 227.5,427.2 227.7,427.6 227.3,428.6 223.8,431.5 221.2,435.3 219.0,437.7 212.8,442.4 209.4,444.0ZM176.5,437.9 176.0,438.0 176.0,434.8 176.0,426.3 177.1,426.7 178.2,428.1 179.2,432.0 178.4,435.8 177.5,437.2 176.5,437.9Z" fill="rgba(0,0,0,0.07)" stroke="#494949" stroke-width="0.65" stroke-linejoin="round"/>
<path d="M208.4,442.6 203.2,442.0 186.2,438.3 184.7,437.5 183.8,436.3 183.5,434.8 183.7,432.9 184.4,432.0 185.7,431.2 192.9,429.9 194.3,427.6 196.3,426.4 202.6,424.9 209.9,424.4 217.2,424.7 223.0,425.7 225.9,427.2 226.1,427.6 225.7,428.6 220.8,431.5 219.3,434.8 217.2,437.3 211.8,441.3 208.4,442.6ZM176.5,437.4 176.0,437.4 176.0,434.8 176.0,426.8 177.0,427.1 177.8,428.1 178.7,431.5 178.2,435.3 177.5,436.6 176.5,437.4Z" fill="rgba(0,0,0,0.07)" stroke="#444444" stroke-width="0.65" stroke-linejoin="round"/>
<path d="M208.9,440.7 207.0,440.9 204.2,440.6 189.3,437.2 186.7,436.0 186.2,435.3 186.1,434.4 186.8,433.4 188.6,432.8 200.2,432.0 202.3,431.5 197.8,429.6 196.2,428.1 196.7,427.2 197.4,426.7 201.7,425.4 208.4,424.7 215.7,424.8 221.5,425.7 224.5,427.2 224.5,428.1 223.0,429.2 214.8,432.0 216.3,433.9 216.2,434.8 215.7,435.8 212.0,439.1 208.9,440.7ZM176.5,436.9 176.0,437.0 176.0,434.8 176.0,427.2 177.0,427.6 177.7,428.6 178.4,431.5 178.0,434.8 177.5,436.0 176.5,436.9Z" fill="rgba(0,0,0,0.07)" stroke="#3f3f3f" stroke-width="0.65" stroke-linejoin="round"/>
<path d="M213.8,430.6 208.4,430.6 202.6,430.0 199.2,429.0 198.3,428.4 197.9,427.6 198.9,426.7 201.7,425.7 209.9,424.9 218.6,425.5 221.6,426.2 223.1,427.2 223.0,428.1 221.0,429.2 217.2,430.2 213.8,430.6ZM176.5,436.4 176.0,436.5 176.0,434.4 176.0,427.6 177.0,428.0 177.5,428.7 178.2,431.5 177.7,434.8 176.5,436.4ZM208.0,438.7 206.0,438.8 202.9,438.2 198.3,436.8 197.0,435.8 197.3,435.3 199.2,434.8 205.1,434.3 208.9,434.5 211.1,435.3 211.3,436.3 210.7,437.2 209.5,438.2 208.0,438.7Z" fill="rgba(0,0,0,0.07)" stroke="#393939" stroke-width="0.65" stroke-linejoin="round"/>
<path d="M212.3,430.1 207.0,429.9 203.1,429.4 200.4,428.6 199.4,427.6 200.2,426.7 202.6,425.9 209.9,425.1 218.1,425.7 220.3,426.2 221.9,427.2 221.7,428.1 219.6,429.1 216.2,429.8 212.3,430.1ZM176.5,436.0 176.0,436.1 176.0,434.4 176.0,428.0 176.5,428.1 177.4,429.1 178.0,431.5 177.6,434.4 176.5,436.0Z" fill="rgba(0,0,0,0.07)" stroke="#343434" stroke-width="0.65" stroke-linejoin="round"/>
<path d="M213.8,429.6 209.4,429.7 205.1,429.3 202.1,428.6 200.8,427.6 201.5,426.7 202.8,426.2 209.9,425.3 216.8,425.7 219.0,426.2 220.7,427.2 220.6,427.9 219.4,428.6 213.8,429.6ZM176.5,435.6 176.0,435.8 176.0,434.4 176.0,428.3 177.1,429.1 177.8,431.5 177.6,433.9 176.5,435.6Z" fill="rgba(0,0,0,0.07)" stroke="#2f2f2f" stroke-width="0.65" stroke-linejoin="round"/>
<path d="M215.2,429.1 210.4,429.3 206.0,429.0 202.6,428.1 202.1,427.6 202.1,427.2 205.1,426.0 210.9,425.6 216.7,426.0 219.0,426.7 219.6,427.2 219.6,427.6 219.0,428.1 215.2,429.1ZM176.0,435.4 176.0,428.7 177.1,429.6 177.6,432.0 177.2,434.4 176.0,435.4Z" fill="rgba(0,0,0,0.07)" stroke="#292929" stroke-width="0.65" stroke-linejoin="round"/>
<path d="M215.7,428.6 211.4,429.0 207.0,428.8 204.2,428.1 203.4,427.6 203.4,427.2 205.8,426.2 210.9,425.8 216.0,426.2 218.4,427.2 218.4,427.6 217.6,428.1 215.7,428.6ZM176.5,434.8 176.0,435.0 176.0,429.1 177.0,429.9 177.4,431.5 177.3,433.4 176.5,434.8Z" fill="rgba(0,0,0,0.07)" stroke="#242424" stroke-width="0.65" stroke-linejoin="round"/>
<path d="M212.8,428.6 207.0,428.4 205.1,427.8 204.8,427.2 207.0,426.4 210.9,426.1 214.7,426.3 217.1,427.2 217.0,427.6 216.0,428.1 212.8,428.6ZM176.5,434.4 176.0,434.6 176.0,429.4 176.8,430.0 177.2,431.5 177.0,433.4 176.5,434.4Z" fill="rgba(0,0,0,0.07)" stroke="#1f1f1f" stroke-width="0.65" stroke-linejoin="round"/>
<path d="M213.3,428.2 208.2,428.1 206.5,427.6 206.3,427.2 207.5,426.7 210.9,426.4 214.3,426.6 215.6,427.2 215.4,427.6 213.3,428.2ZM176.5,434.0 176.0,434.2 176.0,429.8 176.5,430.1 177.0,431.5 176.9,432.9 176.5,434.0Z" fill="rgba(0,0,0,0.07)" stroke="#191919" stroke-width="0.65" stroke-linejoin="round"/>
<path d="M212.8,427.7 209.4,427.7 208.5,427.2 210.9,426.8 213.4,427.2 212.8,427.7ZM176.5,433.4 176.0,433.7 176.0,430.3 176.5,430.6 176.7,431.5 176.5,433.4Z" fill="rgba(0,0,0,0.07)" stroke="#141414" stroke-width="0.65" stroke-linejoin="round"/>
<path d="M176.0,433.1 176.0,430.9 176.5,432.0 176.0,433.1Z" fill="rgba(0,0,0,0.07)" stroke="#0f0f0f" stroke-width="0.65" stroke-linejoin="round"/>
<rect x="192.5" y="398.2" width="36.30000000000001" height="57.10000000000002" fill="none" stroke="#8c8c8c" stroke-width="0.7"/>
<text x="208.8" y="392.6" font-size="7.5" text-anchor="middle" fill="#111">1.01</text>
<text x="184.25" y="455.6" font-size="7.5" text-anchor="middle" fill="#111">67.5</text>
<rect x="84.2" y="458.5" width="75.39999999999999" height="75.10000000000002" fill="none" stroke="#a0a0a0" stroke-width="0.8"/>
<path d="M84.2,521.9 84.2,501.5 84.2,479.2 85.0,480.2 86.6,485.1 87.0,485.2 89.4,483.8 90.8,483.3 92.7,483.2 94.6,483.7 96.4,485.0 97.6,486.4 98.5,488.3 98.9,490.6 98.6,493.0 97.8,494.9 94.3,499.1 94.7,500.1 97.2,503.4 98.1,505.7 98.1,508.1 97.3,510.9 95.6,513.2 93.2,514.6 90.4,514.9 87.0,513.8 86.1,515.7 85.1,520.4 84.2,521.9ZM146.8,514.3 141.6,514.4 127.8,512.2 119.3,510.4 114.1,508.5 106.0,507.6 104.5,507.1 103.5,506.2 103.7,505.7 105.1,505.0 111.2,503.9 112.2,503.3 112.9,501.0 113.7,492.0 114.7,489.7 116.3,488.3 120.7,486.2 124.5,485.3 128.3,485.1 134.5,485.6 138.3,487.1 143.0,491.9 150.6,496.2 154.4,498.8 156.8,501.0 158.7,503.8 159.2,505.7 159.0,507.6 158.4,509.0 157.1,510.5 153.4,512.6 146.8,514.3ZM88.1,500.1 88.9,499.1 89.0,498.6 87.5,497.2 87.1,499.1 87.5,500.3 88.1,500.1Z" fill="rgba(0,0,0,0.012)" stroke="#6e6e6e" stroke-width="0.65" stroke-linejoin="round"/>
<path d="M84.2,517.5 84.2,501.5 84.2,483.5 84.7,484.0 86.6,488.9 89.4,485.9 90.8,485.3 92.7,485.1 94.2,485.6 95.7,486.8 96.8,488.7 97.2,490.6 97.0,492.5 96.1,494.4 94.6,495.8 93.2,496.5 91.8,496.6 90.4,496.3 88.9,495.3 87.0,493.3 86.6,493.9 86.3,500.1 86.6,502.4 87.0,503.3 90.4,501.6 91.8,501.5 93.2,501.9 94.6,502.9 95.7,504.3 96.4,506.2 96.4,508.1 95.3,510.9 94.2,512.0 92.7,512.8 91.3,513.0 89.9,512.8 87.0,511.0 86.6,511.1 84.7,517.0 84.2,517.5ZM147.3,512.8 144.0,513.0 140.6,512.6 132.6,510.4 116.4,506.7 109.3,507.1 107.0,506.7 106.5,506.2 107.0,505.7 108.9,505.3 114.1,505.2 115.4,504.3 116.2,493.9 117.2,491.6 118.8,490.1 121.2,489.0 124.5,488.1 131.6,487.1 134.5,487.1 136.4,487.7 138.3,489.0 140.4,493.0 141.6,494.2 145.2,496.3 153.9,500.3 155.5,501.5 156.9,503.4 157.5,505.3 157.4,506.7 157.0,508.1 155.9,509.5 152.5,511.6 147.3,512.8Z" fill="rgba(0,0,0,0.012)" stroke="#686868" stroke-width="0.65" stroke-linejoin="round"/>
<path d="M84.2,514.8 84.2,501.5 84.2,486.1 84.7,486.5 85.1,487.7 85.8,491.1 86.0,501.0 86.6,507.0 87.0,507.1 87.7,505.3 88.8,503.8 89.9,503.2 91.3,502.9 92.7,503.2 94.2,504.3 95.0,505.7 95.3,507.1 94.9,509.0 94.2,510.3 92.7,511.4 91.3,511.7 89.9,511.4 88.5,510.5 87.3,508.6 87.0,507.2 86.6,507.2 85.1,513.0 84.2,514.8ZM93.2,495.0 91.8,495.2 90.4,494.8 88.9,493.5 88.2,492.0 88.1,490.1 88.5,488.7 89.6,487.3 91.3,486.5 92.7,486.5 94.2,487.1 95.3,488.3 95.9,489.7 96.0,491.6 95.5,493.0 94.6,494.1 93.2,495.0ZM148.2,511.9 144.4,512.2 141.1,511.7 131.6,507.9 122.6,505.8 120.1,504.8 118.9,503.4 118.3,501.0 118.4,496.3 119.4,493.5 120.7,492.1 122.1,491.3 127.4,489.9 131.1,488.4 134.0,488.1 136.4,488.8 138.0,490.6 138.4,494.4 139.7,496.0 144.3,498.2 153.0,500.7 154.9,501.9 156.0,503.4 156.6,506.2 156.2,507.6 155.3,508.9 152.5,510.7 148.2,511.9Z" fill="rgba(0,0,0,0.012)" stroke="#626262" stroke-width="0.65" stroke-linejoin="round"/>
<path d="M92.7,493.9 91.3,493.9 90.4,493.4 89.6,492.5 89.1,491.1 89.3,489.7 89.8,488.7 90.8,487.9 91.8,487.6 93.7,488.1 94.9,490.1 94.5,492.5 93.7,493.5 92.7,493.9ZM84.2,512.7 84.2,501.5 84.2,488.3 84.9,489.2 85.4,492.0 85.8,506.2 85.3,510.5 84.7,512.3 84.2,512.7ZM146.8,511.4 143.5,511.4 140.2,510.6 137.2,509.0 132.1,505.5 124.5,503.5 122.6,502.6 121.6,501.5 121.0,499.6 121.1,497.2 121.7,495.3 123.6,493.7 128.3,492.1 130.4,490.1 132.1,489.2 134.0,489.0 135.9,489.6 136.7,490.6 136.9,492.0 135.5,495.3 135.8,496.3 136.8,497.3 141.0,499.1 152.5,501.1 154.4,502.2 155.6,503.8 156.0,505.3 155.9,506.7 154.4,508.9 151.1,510.6 146.8,511.4ZM91.8,510.5 90.4,510.4 89.4,509.8 88.4,507.6 89.0,505.3 90.8,504.1 92.3,504.3 93.1,504.8 94.1,506.7 93.7,509.0 92.9,510.0 91.8,510.5Z" fill="rgba(0,0,0,0.012)" stroke="#5c5c5c" stroke-width="0.65" stroke-linejoin="round"/>
<path d="M92.7,492.5 91.3,492.5 90.5,491.6 90.4,490.1 91.3,489.1 92.7,489.1 93.7,490.1 93.6,491.6 92.7,492.5ZM134.0,493.2 132.6,493.2 131.6,492.5 131.7,491.1 132.8,490.1 134.5,490.1 135.5,491.1 135.4,492.1 134.0,493.2ZM84.2,510.8 84.2,490.3 84.7,490.8 85.1,493.5 85.5,504.8 85.1,508.7 84.7,510.4 84.2,510.8ZM146.3,510.9 142.5,510.6 138.8,509.0 136.8,507.1 134.0,502.7 132.6,502.1 127.4,501.2 125.5,500.3 124.5,498.7 124.8,497.2 126.4,496.2 129.3,496.1 131.1,497.0 134.5,500.0 135.9,500.6 144.0,500.7 151.1,501.3 153.0,501.8 154.4,502.9 155.3,504.3 155.5,505.7 155.1,507.1 154.4,508.2 153.0,509.3 151.1,510.1 146.3,510.9ZM91.8,509.1 90.4,508.9 89.6,507.6 89.9,506.2 90.8,505.5 92.3,505.7 92.9,506.7 92.8,508.1 91.8,509.1Z" fill="rgba(0,0,0,0.012)" stroke="#565656" stroke-width="0.65" stroke-linejoin="round"/>
<path d="M84.2,509.0 84.2,492.5 84.8,494.9 85.1,503.8 84.9,507.6 84.2,509.0ZM146.3,510.5 142.5,510.1 139.2,508.3 138.1,507.1 137.5,505.7 137.5,504.3 138.0,503.4 140.2,502.1 144.0,501.5 151.1,501.8 152.5,502.1 153.9,503.0 154.8,504.3 155.1,505.7 154.6,507.1 153.9,508.1 151.1,509.6 146.3,510.5Z" fill="rgba(0,0,0,0.012)" stroke="#505050" stroke-width="0.65" stroke-linejoin="round"/>
<path d="M84.2,506.8 84.2,495.4 84.7,497.6 84.8,502.4 84.7,505.8 84.2,506.8ZM146.8,510.0 143.0,509.7 140.0,508.1 139.3,507.1 138.8,505.7 139.5,503.8 141.6,502.7 144.9,502.2 151.5,502.2 153.8,503.4 154.4,504.3 154.7,505.7 154.2,507.1 153.4,508.0 151.1,509.2 146.8,510.0Z" fill="rgba(0,0,0,0.012)" stroke="#4b4b4b" stroke-width="0.65" stroke-linejoin="round"/>
<path d="M147.3,509.6 144.0,509.4 141.6,508.5 140.0,506.7 140.1,504.8 141.6,503.5 144.4,502.8 151.1,502.5 152.5,502.9 153.4,503.5 154.0,504.3 154.3,505.7 153.3,507.6 151.1,508.8 147.3,509.6Z" fill="rgba(0,0,0,0.012)" stroke="#454545" stroke-width="0.65" stroke-linejoin="round"/>
<path d="M147.7,509.1 144.9,509.1 142.5,508.4 141.1,507.1 140.8,506.2 140.9,505.3 142.5,503.8 144.9,503.3 151.1,502.9 152.5,503.3 153.3,503.8 153.9,505.7 153.0,507.5 151.1,508.4 147.7,509.1Z" fill="rgba(0,0,0,0.012)" stroke="#3f3f3f" stroke-width="0.65" stroke-linejoin="round"/>
<path d="M148.2,508.6 145.4,508.7 143.2,508.1 141.8,506.7 142.0,505.3 143.1,504.3 145.4,503.7 151.1,503.2 153.0,504.0 153.5,505.7 152.8,507.1 151.1,508.1 148.2,508.6Z" fill="rgba(0,0,0,0.012)" stroke="#393939" stroke-width="0.65" stroke-linejoin="round"/>
<path d="M148.7,508.1 146.3,508.3 144.4,508.0 143.1,507.1 142.7,505.7 143.7,504.8 145.4,504.3 151.1,503.6 152.7,504.3 153.1,505.7 152.5,506.9 151.1,507.7 148.7,508.1Z" fill="rgba(0,0,0,0.012)" stroke="#333333" stroke-width="0.65" stroke-linejoin="round"/>
<path d="M148.2,507.7 144.9,507.4 143.9,506.7 143.9,505.7 145.4,504.9 150.6,504.0 151.5,504.1 152.5,504.8 152.7,505.7 152.0,506.8 150.6,507.4 148.2,507.7Z" fill="rgba(0,0,0,0.012)" stroke="#2d2d2d" stroke-width="0.65" stroke-linejoin="round"/>
<path d="M151.1,506.7 146.8,506.9 145.8,506.7 145.5,506.2 146.1,505.7 151.1,504.5 151.8,504.8 152.1,505.7 151.1,506.7Z" fill="rgba(0,0,0,0.012)" stroke="#282828" stroke-width="0.65" stroke-linejoin="round"/>
<rect x="112.2" y="484" width="44.8" height="32.39999999999998" fill="none" stroke="#8c8c8c" stroke-width="0.7"/>
<text x="133.7" y="477.4" font-size="7.5" text-anchor="middle" fill="#111">13.5</text>
<rect x="176.0" y="458.5" width="77.0" height="75.10000000000002" fill="none" stroke="#a0a0a0" stroke-width="0.8"/>
<path d="M230.2,533.6 220.6,533.6 208.5,533.6 205.9,527.9 203.8,521.3 202.8,516.6 201.6,493.9 202.3,490.6 205.1,483.1 207.2,480.2 209.9,478.5 212.3,478.0 216.7,478.2 221.0,477.6 222.5,478.4 223.5,479.4 225.6,483.5 227.2,488.7 229.3,498.8 231.0,504.8 231.6,508.6 232.3,522.7 231.5,529.3 230.2,533.6Z" fill="rgba(0,0,0,0.012)" stroke="#787878" stroke-width="0.65" stroke-linejoin="round"/>
<path d="M227.8,533.6 220.6,533.6 212.9,533.6 209.1,528.9 207.3,524.2 205.8,519.0 205.2,515.2 204.1,493.9 205.2,487.8 206.3,484.5 208.3,481.6 210.9,480.2 212.8,480.0 214.7,480.4 218.1,481.9 220.6,483.3 223.1,486.4 225.1,491.1 229.0,504.8 229.7,510.5 230.1,523.7 229.2,529.8 227.8,533.6Z" fill="rgba(0,0,0,0.012)" stroke="#707070" stroke-width="0.65" stroke-linejoin="round"/>
<path d="M226.4,533.6 220.6,533.6 214.7,533.6 210.7,527.5 209.1,523.2 207.8,518.5 207.2,514.7 206.0,491.1 206.3,487.8 207.2,485.0 208.9,482.6 210.9,481.4 213.3,481.3 215.7,482.3 218.5,484.5 221.0,487.3 223.7,492.0 227.1,502.4 228.4,509.0 228.8,521.3 227.8,529.8 226.4,533.6Z" fill="rgba(0,0,0,0.012)" stroke="#696969" stroke-width="0.65" stroke-linejoin="round"/>
<path d="M225.4,533.6 220.6,533.6 215.8,533.6 212.0,526.0 211.0,523.2 209.4,515.2 208.6,499.1 207.1,489.2 207.4,486.8 208.4,484.5 209.7,483.1 211.4,482.3 213.3,482.4 215.5,483.5 221.5,490.9 223.8,495.3 226.5,503.4 227.5,509.5 227.7,521.3 226.7,530.8 225.4,533.6Z" fill="rgba(0,0,0,0.012)" stroke="#626262" stroke-width="0.65" stroke-linejoin="round"/>
<path d="M224.4,533.6 216.6,533.6 215.5,531.7 212.5,522.7 211.1,513.8 210.9,497.7 210.4,495.8 208.4,491.5 208.0,488.7 208.2,486.8 208.9,485.0 209.9,483.9 211.4,483.2 213.3,483.3 215.1,484.5 216.1,485.9 218.1,489.8 221.5,493.4 223.7,497.7 225.8,503.8 226.7,510.0 226.9,520.8 226.0,530.8 225.3,532.7 224.4,533.6Z" fill="rgba(0,0,0,0.012)" stroke="#5a5a5a" stroke-width="0.65" stroke-linejoin="round"/>
<path d="M223.5,533.6 218.1,533.6 217.4,533.6 217.0,533.1 215.9,531.2 215.5,527.5 213.7,522.3 212.8,516.1 212.5,509.5 212.8,502.4 214.1,495.3 213.6,494.4 211.4,493.2 209.9,491.8 209.0,490.1 208.7,488.7 208.9,486.8 209.4,485.6 210.4,484.5 211.4,484.1 213.3,484.3 215.0,485.9 215.8,488.3 216.2,492.7 219.6,493.8 221.5,495.6 223.6,499.6 225.3,504.8 226.1,510.9 226.0,520.8 225.3,526.5 225.3,531.2 224.4,533.0 223.5,533.6Z" fill="rgba(0,0,0,0.012)" stroke="#535353" stroke-width="0.65" stroke-linejoin="round"/>
<path d="M213.3,491.2 212.3,491.5 211.4,491.3 210.4,490.5 209.7,489.2 209.5,487.8 209.9,486.4 211.4,485.0 212.3,484.9 213.3,485.4 214.3,486.8 214.5,489.2 213.9,490.6 213.3,491.2ZM223.0,533.6 218.2,533.6 216.9,532.2 216.4,530.3 216.5,527.0 214.8,522.3 214.1,518.0 213.7,510.5 214.3,502.9 215.2,500.1 216.2,497.9 217.2,496.7 218.6,496.0 219.6,496.1 220.6,496.6 222.5,499.2 224.2,503.4 225.2,508.1 225.4,518.5 224.4,527.0 224.8,530.8 224.1,532.7 223.0,533.6Z" fill="rgba(0,0,0,0.012)" stroke="#4c4c4c" stroke-width="0.65" stroke-linejoin="round"/>
<path d="M211.8,489.7 210.9,489.0 210.6,487.8 210.9,486.8 211.8,486.2 212.8,486.6 213.3,487.8 212.9,489.2 211.8,489.7ZM222.0,533.6 219.1,533.6 217.8,532.7 217.2,531.7 216.9,530.3 217.4,526.5 215.7,521.8 214.9,516.6 214.7,509.5 215.4,503.8 217.2,499.7 218.1,498.7 219.1,498.2 220.1,498.4 221.0,499.0 222.5,501.2 223.9,505.1 224.7,509.5 224.7,519.4 223.5,526.5 224.3,530.8 223.5,532.7 222.0,533.6Z" fill="rgba(0,0,0,0.012)" stroke="#454545" stroke-width="0.65" stroke-linejoin="round"/>
<path d="M222.0,533.2 221.0,533.5 219.6,533.3 218.5,532.7 217.6,531.5 217.5,529.8 218.7,526.5 216.6,521.8 215.7,516.1 215.6,510.0 216.2,505.3 217.6,501.7 218.6,500.6 219.6,500.3 221.0,501.0 222.5,503.2 223.5,506.2 224.1,510.0 223.9,519.9 222.4,526.5 223.6,529.3 223.8,530.8 223.3,532.2 222.0,533.2Z" fill="rgba(0,0,0,0.012)" stroke="#3d3d3d" stroke-width="0.65" stroke-linejoin="round"/>
<path d="M220.6,525.2 219.1,524.4 217.6,522.1 216.8,519.0 216.4,514.7 216.4,510.0 217.0,506.2 218.1,503.5 219.6,502.3 221.0,502.9 222.4,505.3 223.1,508.1 223.5,511.9 223.5,517.1 223.0,521.3 222.0,523.9 220.6,525.2ZM222.0,532.7 221.0,533.0 219.6,532.8 218.6,532.2 218.1,531.2 218.3,529.3 220.1,527.6 221.5,527.8 223.2,529.8 223.0,531.7 222.0,532.7Z" fill="rgba(0,0,0,0.012)" stroke="#363636" stroke-width="0.65" stroke-linejoin="round"/>
<path d="M220.6,523.0 219.1,522.3 218.1,520.4 217.5,517.5 217.2,513.8 217.3,510.0 217.9,507.1 218.8,505.3 220.1,504.5 221.0,505.1 222.0,507.0 222.8,512.8 222.3,519.9 221.5,522.2 220.6,523.0ZM221.5,532.4 219.6,532.3 218.6,531.2 218.8,529.8 220.1,528.7 221.5,528.8 222.5,529.8 222.7,531.2 221.5,532.4Z" fill="rgba(0,0,0,0.012)" stroke="#2f2f2f" stroke-width="0.65" stroke-linejoin="round"/>
<path d="M220.6,520.2 219.6,520.0 219.0,519.0 218.2,513.8 218.6,509.1 219.1,507.9 220.1,507.2 221.0,508.0 221.4,509.0 221.9,512.8 221.5,518.0 220.6,520.2ZM221.5,531.8 220.6,532.0 219.6,531.6 219.2,530.8 219.6,529.8 220.6,529.4 221.6,529.8 222.1,530.8 221.5,531.8Z" fill="rgba(0,0,0,0.012)" stroke="#282828" stroke-width="0.65" stroke-linejoin="round"/>
<rect x="201.5" y="474.5" width="33.30000000000001" height="33.80000000000001" fill="none" stroke="#8c8c8c" stroke-width="0.7"/>
<rect x="201.5" y="514.2" width="33.69999999999999" height="18.799999999999955" fill="none" stroke="#8c8c8c" stroke-width="0.7"/>
<text x="217.8" y="472.2" font-size="7.5" text-anchor="middle" fill="#111">39.6</text>
<text x="190.85" y="528.7" font-size="7.5" text-anchor="middle" fill="#111">37.7</text>
<rect x="84.2" y="536.8" width="75.39999999999999" height="75.90000000000009" fill="none" stroke="#a0a0a0" stroke-width="0.8"/>
<path d="M156.0,554.4h0.5v0.5h-0.5zM113.9,569.4h0.5v0.5h-0.5zM126.2,604.2h0.5v0.5h-0.5zM120.2,561.3h0.5v0.5h-0.5zM108.2,581.3h0.5v0.5h-0.5zM116.1,589.8h0.5v0.5h-0.5zM119.6,596.6h0.5v0.5h-0.5zM128.3,595.8h0.5v0.5h-0.5zM107.2,566.4h0.5v0.5h-0.5zM115.4,566.6h0.5v0.5h-0.5zM115.1,570.7h0.5v0.5h-0.5zM114.5,578.3h0.5v0.5h-0.5zM125.5,562.9h0.5v0.5h-0.5zM113.6,577.0h0.5v0.5h-0.5zM114.8,607.8h0.5v0.5h-0.5zM114.4,600.0h0.5v0.5h-0.5zM121.1,599.7h0.5v0.5h-0.5zM104.6,570.4h0.5v0.5h-0.5zM154.6,562.4h0.5v0.5h-0.5zM117.8,574.0h0.5v0.5h-0.5zM120.9,564.7h0.5v0.5h-0.5zM152.0,552.1h0.5v0.5h-0.5zM122.6,561.1h0.5v0.5h-0.5zM107.9,595.5h0.5v0.5h-0.5zM117.8,568.4h0.5v0.5h-0.5zM112.5,574.0h0.5v0.5h-0.5zM114.6,597.4h0.5v0.5h-0.5zM107.9,588.2h0.5v0.5h-0.5zM107.9,583.1h0.5v0.5h-0.5zM113.7,579.3h0.5v0.5h-0.5zM149.9,571.7h0.5v0.5h-0.5zM109.9,580.8h0.5v0.5h-0.5zM113.4,567.3h0.5v0.5h-0.5zM102.8,596.4h0.5v0.5h-0.5zM127.0,592.5h0.5v0.5h-0.5zM139.4,568.4h0.5v0.5h-0.5zM107.9,570.7h0.5v0.5h-0.5zM123.9,566.6h0.5v0.5h-0.5zM115.2,562.2h0.5v0.5h-0.5zM106.3,574.9h0.5v0.5h-0.5zM104.6,599.2h0.5v0.5h-0.5zM127.1,597.9h0.5v0.5h-0.5zM115.2,610.4h0.5v0.5h-0.5zM106.2,573.7h0.5v0.5h-0.5zM112.9,577.1h0.5v0.5h-0.5zM112.6,575.5h0.5v0.5h-0.5zM94.2,602.8h0.5v0.5h-0.5zM104.3,568.8h0.5v0.5h-0.5zM126.8,567.1h0.5v0.5h-0.5zM107.1,588.2h0.5v0.5h-0.5zM111.1,571.6h0.5v0.5h-0.5zM108.5,601.4h0.5v0.5h-0.5zM118.1,568.0h0.5v0.5h-0.5zM114.9,590.7h0.5v0.5h-0.5zM104.6,588.1h0.5v0.5h-0.5zM127.5,598.7h0.5v0.5h-0.5zM113.5,577.7h0.5v0.5h-0.5zM112.0,583.5h0.5v0.5h-0.5zM105.7,591.7h0.5v0.5h-0.5zM139.3,562.6h0.5v0.5h-0.5zM157.9,586.5h0.5v0.5h-0.5zM115.2,586.7h0.5v0.5h-0.5zM111.7,585.0h0.5v0.5h-0.5zM117.2,574.7h0.5v0.5h-0.5zM115.4,594.8h0.5v0.5h-0.5zM127.6,562.7h0.5v0.5h-0.5zM106.8,573.8h0.5v0.5h-0.5zM106.1,585.5h0.5v0.5h-0.5zM128.1,599.3h0.5v0.5h-0.5zM111.4,598.1h0.5v0.5h-0.5zM110.4,596.4h0.5v0.5h-0.5zM133.3,604.7h0.5v0.5h-0.5zM118.4,599.5h0.5v0.5h-0.5zM116.4,575.0h0.5v0.5h-0.5zM155.5,568.4h0.5v0.5h-0.5zM116.5,602.7h0.5v0.5h-0.5zM129.8,593.9h0.5v0.5h-0.5zM108.4,605.1h0.5v0.5h-0.5zM122.8,589.4h0.5v0.5h-0.5zM110.5,595.7h0.5v0.5h-0.5zM105.6,555.5h0.5v0.5h-0.5zM116.0,566.9h0.5v0.5h-0.5zM128.7,549.8h0.5v0.5h-0.5zM120.6,606.8h0.5v0.5h-0.5zM140.7,563.5h0.5v0.5h-0.5zM112.3,584.7h0.5v0.5h-0.5zM116.0,588.1h0.5v0.5h-0.5zM91.9,603.5h0.5v0.5h-0.5zM119.4,557.7h0.5v0.5h-0.5zM131.7,593.6h0.5v0.5h-0.5zM108.0,590.7h0.5v0.5h-0.5zM119.2,567.2h0.5v0.5h-0.5zM152.8,576.9h0.5v0.5h-0.5zM104.2,603.6h0.5v0.5h-0.5zM129.0,600.8h0.5v0.5h-0.5zM123.8,557.1h0.5v0.5h-0.5zM119.7,592.8h0.5v0.5h-0.5zM110.2,576.3h0.5v0.5h-0.5zM114.5,571.3h0.5v0.5h-0.5zM117.0,566.0h0.5v0.5h-0.5zM119.4,559.7h0.5v0.5h-0.5zM105.4,590.4h0.5v0.5h-0.5zM143.1,562.5h0.5v0.5h-0.5zM120.5,590.5h0.5v0.5h-0.5zM92.0,601.6h0.5v0.5h-0.5zM155.9,574.6h0.5v0.5h-0.5zM111.2,559.5h0.5v0.5h-0.5zM114.6,585.8h0.5v0.5h-0.5zM142.7,566.7h0.5v0.5h-0.5zM104.9,561.6h0.5v0.5h-0.5zM125.4,561.5h0.5v0.5h-0.5zM126.0,597.2h0.5v0.5h-0.5zM111.9,594.3h0.5v0.5h-0.5zM125.9,562.7h0.5v0.5h-0.5zM113.8,601.8h0.5v0.5h-0.5zM129.4,549.5h0.5v0.5h-0.5zM137.3,559.6h0.5v0.5h-0.5zM125.7,564.2h0.5v0.5h-0.5zM119.5,598.1h0.5v0.5h-0.5zM97.3,606.2h0.5v0.5h-0.5zM105.6,587.3h0.5v0.5h-0.5zM105.6,583.8h0.5v0.5h-0.5zM120.5,590.8h0.5v0.5h-0.5zM119.2,571.4h0.5v0.5h-0.5zM117.1,566.6h0.5v0.5h-0.5zM120.4,562.1h0.5v0.5h-0.5zM141.8,566.4h0.5v0.5h-0.5zM109.1,579.6h0.5v0.5h-0.5zM113.8,568.3h0.5v0.5h-0.5zM142.8,607.8h0.5v0.5h-0.5zM115.8,605.2h0.5v0.5h-0.5zM120.9,567.7h0.5v0.5h-0.5zM135.7,595.2h0.5v0.5h-0.5zM117.5,570.3h0.5v0.5h-0.5zM143.0,569.4h0.5v0.5h-0.5zM123.1,563.5h0.5v0.5h-0.5zM113.3,586.1h0.5v0.5h-0.5zM115.5,601.3h0.5v0.5h-0.5zM144.9,569.9h0.5v0.5h-0.5zM106.3,562.2h0.5v0.5h-0.5zM150.5,592.8h0.5v0.5h-0.5zM124.6,594.4h0.5v0.5h-0.5zM115.0,587.6h0.5v0.5h-0.5zM110.2,577.1h0.5v0.5h-0.5zM117.6,571.3h0.5v0.5h-0.5zM147.4,572.2h0.5v0.5h-0.5zM122.2,590.8h0.5v0.5h-0.5zM99.4,598.7h0.5v0.5h-0.5zM139.4,610.7h0.5v0.5h-0.5zM140.4,560.1h0.5v0.5h-0.5zM110.0,582.4h0.5v0.5h-0.5zM128.4,565.6h0.5v0.5h-0.5zM120.5,602.3h0.5v0.5h-0.5zM124.8,564.7h0.5v0.5h-0.5zM151.4,557.4h0.5v0.5h-0.5zM135.8,561.9h0.5v0.5h-0.5zM125.0,563.8h0.5v0.5h-0.5zM129.4,609.5h0.5v0.5h-0.5zM103.4,599.0h0.5v0.5h-0.5zM110.6,579.3h0.5v0.5h-0.5zM136.3,598.0h0.5v0.5h-0.5zM112.2,589.7h0.5v0.5h-0.5zM113.4,577.6h0.5v0.5h-0.5zM145.3,555.6h0.5v0.5h-0.5zM104.2,565.4h0.5v0.5h-0.5zM137.8,566.9h0.5v0.5h-0.5zM115.0,591.8h0.5v0.5h-0.5zM121.3,607.2h0.5v0.5h-0.5zM127.6,558.0h0.5v0.5h-0.5zM133.6,555.5h0.5v0.5h-0.5zM112.7,576.1h0.5v0.5h-0.5zM153.9,587.1h0.5v0.5h-0.5zM107.7,555.1h0.5v0.5h-0.5zM115.3,573.1h0.5v0.5h-0.5zM109.2,589.1h0.5v0.5h-0.5zM113.4,554.9h0.5v0.5h-0.5zM86.5,605.1h0.5v0.5h-0.5zM105.6,606.5h0.5v0.5h-0.5zM115.5,595.5h0.5v0.5h-0.5zM155.3,574.8h0.5v0.5h-0.5zM130.4,593.6h0.5v0.5h-0.5zM153.1,575.1h0.5v0.5h-0.5zM140.1,560.8h0.5v0.5h-0.5zM101.7,605.8h0.5v0.5h-0.5zM106.6,553.0h0.5v0.5h-0.5zM111.4,578.8h0.5v0.5h-0.5zM111.8,571.5h0.5v0.5h-0.5zM112.9,575.8h0.5v0.5h-0.5zM141.1,565.3h0.5v0.5h-0.5zM110.1,566.1h0.5v0.5h-0.5zM113.7,580.3h0.5v0.5h-0.5zM104.2,603.8h0.5v0.5h-0.5zM105.0,576.6h0.5v0.5h-0.5zM107.0,606.1h0.5v0.5h-0.5zM143.8,556.6h0.5v0.5h-0.5zM127.2,565.4h0.5v0.5h-0.5zM88.1,602.6h0.5v0.5h-0.5zM124.8,595.8h0.5v0.5h-0.5zM116.7,566.7h0.5v0.5h-0.5zM90.2,603.2h0.5v0.5h-0.5zM114.7,569.3h0.5v0.5h-0.5zM114.6,585.8h0.5v0.5h-0.5zM112.3,602.2h0.5v0.5h-0.5zM127.6,546.7h0.5v0.5h-0.5zM90.1,603.6h0.5v0.5h-0.5zM109.9,582.3h0.5v0.5h-0.5zM150.1,563.2h0.5v0.5h-0.5zM114.6,593.0h0.5v0.5h-0.5zM104.3,600.8h0.5v0.5h-0.5zM110.3,588.5h0.5v0.5h-0.5zM136.9,595.3h0.5v0.5h-0.5zM107.5,580.4h0.5v0.5h-0.5zM121.1,561.0h0.5v0.5h-0.5zM97.8,606.1h0.5v0.5h-0.5zM107.2,559.8h0.5v0.5h-0.5zM104.7,572.3h0.5v0.5h-0.5zM148.4,564.9h0.5v0.5h-0.5zM130.4,567.1h0.5v0.5h-0.5zM124.5,564.5h0.5v0.5h-0.5zM112.5,580.9h0.5v0.5h-0.5zM112.2,579.1h0.5v0.5h-0.5zM144.0,568.6h0.5v0.5h-0.5zM137.8,568.5h0.5v0.5h-0.5zM114.9,572.2h0.5v0.5h-0.5zM87.4,603.3h0.5v0.5h-0.5zM140.0,559.1h0.5v0.5h-0.5zM108.3,578.0h0.5v0.5h-0.5zM90.4,602.9h0.5v0.5h-0.5zM103.6,601.0h0.5v0.5h-0.5zM123.5,566.1h0.5v0.5h-0.5zM116.3,591.1h0.5v0.5h-0.5zM117.6,561.4h0.5v0.5h-0.5zM118.6,608.1h0.5v0.5h-0.5zM115.7,572.7h0.5v0.5h-0.5zM115.7,574.7h0.5v0.5h-0.5zM95.3,552.9h0.5v0.5h-0.5zM114.9,550.4h0.5v0.5h-0.5zM117.4,557.5h0.5v0.5h-0.5zM116.1,601.0h0.5v0.5h-0.5zM110.2,567.0h0.5v0.5h-0.5zM110.3,599.6h0.5v0.5h-0.5zM110.1,582.2h0.5v0.5h-0.5zM116.1,592.2h0.5v0.5h-0.5zM129.2,567.3h0.5v0.5h-0.5zM111.6,596.9h0.5v0.5h-0.5zM107.0,596.2h0.5v0.5h-0.5zM112.8,568.3h0.5v0.5h-0.5zM153.1,576.3h0.5v0.5h-0.5zM129.8,597.2h0.5v0.5h-0.5zM117.3,588.9h0.5v0.5h-0.5zM115.0,566.5h0.5v0.5h-0.5zM116.4,571.2h0.5v0.5h-0.5zM149.3,592.5h0.5v0.5h-0.5zM118.1,598.3h0.5v0.5h-0.5zM105.2,591.5h0.5v0.5h-0.5zM113.5,591.3h0.5v0.5h-0.5zM127.1,560.1h0.5v0.5h-0.5zM117.7,568.8h0.5v0.5h-0.5zM111.6,584.5h0.5v0.5h-0.5zM107.3,568.3h0.5v0.5h-0.5zM130.3,595.8h0.5v0.5h-0.5zM106.4,597.1h0.5v0.5h-0.5zM117.0,573.9h0.5v0.5h-0.5zM134.7,568.4h0.5v0.5h-0.5zM99.5,606.9h0.5v0.5h-0.5zM121.5,566.1h0.5v0.5h-0.5zM122.6,562.5h0.5v0.5h-0.5zM131.2,551.8h0.5v0.5h-0.5zM105.3,574.9h0.5v0.5h-0.5zM132.5,601.3h0.5v0.5h-0.5zM120.2,568.3h0.5v0.5h-0.5zM115.6,560.2h0.5v0.5h-0.5zM123.2,595.8h0.5v0.5h-0.5zM148.2,574.0h0.5v0.5h-0.5zM125.5,563.7h0.5v0.5h-0.5zM123.6,566.9h0.5v0.5h-0.5zM111.2,565.1h0.5v0.5h-0.5zM113.2,603.4h0.5v0.5h-0.5zM97.3,603.7h0.5v0.5h-0.5zM143.6,565.5h0.5v0.5h-0.5zM112.9,591.7h0.5v0.5h-0.5zM117.5,562.5h0.5v0.5h-0.5zM108.5,581.9h0.5v0.5h-0.5zM113.6,579.5h0.5v0.5h-0.5zM118.4,604.4h0.5v0.5h-0.5zM157.0,580.3h0.5v0.5h-0.5zM106.2,579.9h0.5v0.5h-0.5zM108.5,588.9h0.5v0.5h-0.5zM155.4,570.7h0.5v0.5h-0.5zM149.5,593.4h0.5v0.5h-0.5zM111.4,584.6h0.5v0.5h-0.5zM123.3,606.1h0.5v0.5h-0.5zM114.3,587.1h0.5v0.5h-0.5zM101.7,607.7h0.5v0.5h-0.5zM106.9,569.5h0.5v0.5h-0.5zM102.6,599.9h0.5v0.5h-0.5zM97.9,609.7h0.5v0.5h-0.5zM120.9,600.8h0.5v0.5h-0.5zM112.9,590.9h0.5v0.5h-0.5zM150.8,596.8h0.5v0.5h-0.5zM116.3,553.6h0.5v0.5h-0.5zM113.6,558.7h0.5v0.5h-0.5zM124.1,561.1h0.5v0.5h-0.5zM109.5,589.0h0.5v0.5h-0.5zM117.2,568.8h0.5v0.5h-0.5zM119.6,598.4h0.5v0.5h-0.5zM116.1,587.1h0.5v0.5h-0.5zM154.3,586.6h0.5v0.5h-0.5zM108.3,595.2h0.5v0.5h-0.5zM112.0,596.2h0.5v0.5h-0.5zM111.6,579.8h0.5v0.5h-0.5zM143.7,571.0h0.5v0.5h-0.5zM148.1,566.6h0.5v0.5h-0.5zM109.6,597.8h0.5v0.5h-0.5zM128.4,553.0h0.5v0.5h-0.5zM115.3,589.3h0.5v0.5h-0.5zM142.8,593.3h0.5v0.5h-0.5zM107.1,593.1h0.5v0.5h-0.5zM112.6,575.8h0.5v0.5h-0.5zM145.0,562.7h0.5v0.5h-0.5zM114.3,563.0h0.5v0.5h-0.5zM114.3,606.7h0.5v0.5h-0.5zM141.8,559.7h0.5v0.5h-0.5zM136.7,593.2h0.5v0.5h-0.5zM105.7,563.1h0.5v0.5h-0.5zM103.1,598.1h0.5v0.5h-0.5zM133.9,601.6h0.5v0.5h-0.5zM104.3,590.6h0.5v0.5h-0.5zM139.9,569.5h0.5v0.5h-0.5zM108.8,582.8h0.5v0.5h-0.5zM151.4,564.4h0.5v0.5h-0.5zM106.6,597.7h0.5v0.5h-0.5zM111.3,570.6h0.5v0.5h-0.5zM123.9,601.7h0.5v0.5h-0.5zM113.2,593.8h0.5v0.5h-0.5zM105.6,596.2h0.5v0.5h-0.5zM129.2,591.7h0.5v0.5h-0.5zM100.2,604.4h0.5v0.5h-0.5zM119.9,568.4h0.5v0.5h-0.5zM149.6,598.4h0.5v0.5h-0.5zM119.7,597.8h0.5v0.5h-0.5zM114.5,599.0h0.5v0.5h-0.5zM108.2,604.3h0.5v0.5h-0.5zM121.4,568.2h0.5v0.5h-0.5zM108.9,571.7h0.5v0.5h-0.5zM109.3,609.4h0.5v0.5h-0.5zM121.3,590.4h0.5v0.5h-0.5zM122.0,568.3h0.5v0.5h-0.5zM139.8,601.9h0.5v0.5h-0.5zM122.0,560.6h0.5v0.5h-0.5zM122.7,598.8h0.5v0.5h-0.5zM107.2,582.8h0.5v0.5h-0.5zM144.9,554.5h0.5v0.5h-0.5zM126.6,561.2h0.5v0.5h-0.5zM90.8,601.3h0.5v0.5h-0.5zM107.3,556.3h0.5v0.5h-0.5zM146.8,567.9h0.5v0.5h-0.5zM144.8,598.2h0.5v0.5h-0.5zM108.0,603.4h0.5v0.5h-0.5zM102.0,600.8h0.5v0.5h-0.5zM119.3,600.1h0.5v0.5h-0.5zM108.1,580.3h0.5v0.5h-0.5zM138.1,558.3h0.5v0.5h-0.5zM142.8,563.5h0.5v0.5h-0.5zM111.3,600.4h0.5v0.5h-0.5zM122.1,592.3h0.5v0.5h-0.5zM110.7,563.6h0.5v0.5h-0.5zM121.7,595.8h0.5v0.5h-0.5zM116.7,570.8h0.5v0.5h-0.5zM113.3,563.9h0.5v0.5h-0.5zM121.5,557.7h0.5v0.5h-0.5zM117.8,573.1h0.5v0.5h-0.5zM144.7,571.7h0.5v0.5h-0.5zM117.2,574.9h0.5v0.5h-0.5zM108.9,573.3h0.5v0.5h-0.5zM112.5,572.2h0.5v0.5h-0.5zM148.2,554.8h0.5v0.5h-0.5zM111.8,577.7h0.5v0.5h-0.5zM133.5,567.7h0.5v0.5h-0.5zM117.9,594.5h0.5v0.5h-0.5z" fill="#777"/>
<path d="M91.8,600.8 84.2,601.1 84.2,600.3 84.2,562.1 84.2,556.0 88.5,556.3 92.3,557.1 94.6,558.1 97.5,559.8 99.5,561.6 101.2,564.0 102.9,567.8 103.8,571.2 104.4,577.9 104.4,585.0 103.9,588.4 102.3,593.1 100.8,596.0 98.4,598.2 95.1,599.9 91.8,600.8ZM143.5,592.8 139.2,592.8 127.4,590.6 119.3,588.3 117.4,587.3 115.5,585.8 114.0,583.1 114.2,580.2 117.5,573.6 120.7,569.1 122.1,568.0 124.0,567.2 125.9,566.9 127.8,567.1 132.3,569.3 138.7,570.4 146.3,573.0 149.6,574.7 153.4,578.0 154.9,579.8 155.7,581.7 155.7,583.6 155.1,585.0 153.8,586.4 151.5,588.2 145.8,591.8 143.5,592.8Z" fill="rgba(0,0,0,0.07)" stroke="#5f5f5f" stroke-width="0.65" stroke-linejoin="round"/>
<path d="M90.8,599.4 84.2,599.6 84.2,598.9 84.2,566.4 84.2,557.6 88.5,557.9 91.8,558.6 94.6,559.9 97.0,561.5 98.6,563.1 100.1,565.4 101.6,568.8 102.3,571.6 102.9,577.9 102.8,584.5 102.4,587.9 101.0,592.2 99.5,595.0 97.5,596.9 94.2,598.6 90.8,599.4ZM144.0,590.3 140.2,590.7 131.6,589.2 121.7,586.6 118.3,585.0 116.8,583.1 116.7,580.7 118.1,577.4 121.3,572.1 122.6,570.7 124.0,569.8 126.9,569.5 131.6,571.6 137.8,572.6 144.9,574.8 147.7,576.1 150.6,578.0 152.4,579.8 153.2,581.2 153.4,582.6 153.1,584.1 152.1,585.5 150.1,587.1 144.0,590.3Z" fill="rgba(0,0,0,0.07)" stroke="#595959" stroke-width="0.65" stroke-linejoin="round"/>
<path d="M90.8,598.4 84.2,598.6 84.2,598.4 84.2,593.6 84.2,574.5 84.2,562.1 84.2,558.6 88.5,558.9 91.3,559.4 93.7,560.4 96.1,562.0 97.7,563.5 99.1,565.4 100.6,568.8 101.3,571.6 101.9,577.9 101.9,584.1 101.5,587.4 100.2,591.7 98.9,594.2 97.0,596.1 94.2,597.5 90.8,598.4ZM144.0,588.9 141.6,589.3 138.3,589.0 129.7,587.0 122.1,584.8 120.2,583.8 119.1,582.6 118.8,581.2 119.2,579.3 122.5,573.6 124.0,572.1 125.5,571.6 127.4,571.8 131.6,573.4 137.8,574.4 145.8,576.8 148.7,578.2 150.7,579.8 151.7,581.2 152.0,583.1 151.3,584.5 149.6,586.2 147.3,587.6 144.0,588.9Z" fill="rgba(0,0,0,0.07)" stroke="#545454" stroke-width="0.65" stroke-linejoin="round"/>
<path d="M91.8,597.4 84.2,597.9 84.2,578.8 84.2,559.3 90.4,560.0 92.7,560.8 95.1,562.2 96.6,563.5 98.1,565.4 99.5,568.3 100.4,571.2 101.1,576.9 101.2,582.6 100.9,586.4 100.0,589.8 98.9,592.7 97.5,594.6 95.1,596.3 91.8,597.4ZM144.0,587.9 141.1,588.2 137.8,587.7 123.6,583.2 122.1,582.4 121.3,581.2 121.3,579.8 121.8,578.3 124.0,574.9 125.0,574.2 126.4,573.9 131.1,575.2 136.4,575.8 143.0,577.2 146.8,578.3 148.7,579.3 150.1,580.6 150.8,581.7 150.9,583.1 150.1,584.5 148.7,585.8 146.3,587.1 144.0,587.9Z" fill="rgba(0,0,0,0.07)" stroke="#4f4f4f" stroke-width="0.65" stroke-linejoin="round"/>
<path d="M90.4,597.0 84.2,597.2 84.2,578.8 84.2,560.0 90.4,560.7 92.7,561.6 95.1,563.1 96.5,564.5 98.0,566.6 99.2,569.3 99.9,572.1 100.4,577.9 100.5,583.6 100.1,586.9 98.9,590.7 97.7,593.1 96.1,594.9 93.2,596.3 90.4,597.0ZM144.4,587.0 140.2,587.3 135.6,586.0 125.5,581.3 124.5,580.2 124.5,578.7 125.5,577.4 127.4,576.8 131.1,577.4 142.1,578.1 146.3,579.0 149.2,580.9 149.8,582.1 149.9,583.1 149.4,584.1 148.2,585.3 144.4,587.0Z" fill="rgba(0,0,0,0.07)" stroke="#494949" stroke-width="0.65" stroke-linejoin="round"/>
<path d="M86.1,596.5 84.2,596.5 84.2,594.6 84.2,572.6 84.2,560.7 88.5,561.1 91.3,561.8 93.8,563.1 96.0,565.0 97.6,567.4 98.9,570.7 99.8,577.9 99.8,583.1 99.5,586.4 98.4,590.3 97.0,592.9 95.2,594.6 92.7,595.7 89.9,596.3 86.1,596.5ZM143.5,586.5 139.7,586.4 136.0,585.0 133.1,582.6 132.6,581.7 132.6,580.7 134.9,579.5 139.7,578.9 144.0,579.2 147.3,580.4 148.9,582.1 148.9,583.1 148.4,584.1 146.3,585.7 143.5,586.5Z" fill="rgba(0,0,0,0.07)" stroke="#444444" stroke-width="0.65" stroke-linejoin="round"/>
<path d="M90.4,595.6 84.2,595.8 84.2,578.8 84.2,561.4 89.9,562.1 93.9,564.0 96.5,566.9 97.8,569.7 98.5,572.1 99.0,577.4 99.1,582.6 98.8,586.0 98.0,589.3 96.9,591.7 95.3,593.6 93.2,594.8 90.4,595.6ZM144.9,585.5 142.1,586.0 138.7,585.3 136.1,583.6 135.6,582.6 135.7,581.7 136.8,580.6 139.7,579.8 143.0,579.8 145.8,580.5 147.6,581.7 147.9,583.1 146.9,584.5 144.9,585.5Z" fill="rgba(0,0,0,0.07)" stroke="#3f3f3f" stroke-width="0.65" stroke-linejoin="round"/>
<path d="M85.1,595.0 84.2,595.0 84.2,592.2 84.2,562.2 88.0,562.5 90.8,563.2 93.2,564.5 95.1,566.2 96.5,568.6 97.5,571.2 98.4,579.3 98.0,586.4 97.0,589.8 95.6,592.2 93.8,593.6 91.4,594.6 85.1,595.0ZM144.0,585.1 141.6,585.3 139.2,584.6 137.9,583.6 137.6,582.1 138.5,581.2 140.6,580.6 143.0,580.5 145.4,581.1 146.7,582.1 146.9,583.1 145.8,584.4 144.0,585.1Z" fill="rgba(0,0,0,0.07)" stroke="#393939" stroke-width="0.65" stroke-linejoin="round"/>
<path d="M88.9,594.1 84.2,594.2 84.2,578.8 84.2,563.0 89.4,563.6 93.1,565.4 94.5,566.9 95.6,568.6 97.0,573.1 97.5,578.3 97.6,583.1 97.2,586.0 96.4,588.8 95.2,591.2 93.7,592.7 91.6,593.6 88.9,594.1ZM143.0,584.5 140.2,584.0 139.3,583.1 139.5,582.1 140.6,581.5 142.5,581.2 144.4,581.6 145.3,582.1 145.6,582.6 145.3,583.6 143.0,584.5Z" fill="rgba(0,0,0,0.07)" stroke="#343434" stroke-width="0.65" stroke-linejoin="round"/>
<path d="M88.9,593.1 84.2,593.3 84.2,563.9 88.9,564.5 92.3,566.1 94.6,568.9 96.1,573.1 96.6,582.6 96.3,585.5 95.6,588.3 94.6,590.3 93.3,591.7 91.3,592.7 88.9,593.1ZM143.0,583.2 142.0,583.1 142.1,582.7 143.1,582.6 143.0,583.2Z" fill="rgba(0,0,0,0.07)" stroke="#2f2f2f" stroke-width="0.65" stroke-linejoin="round"/>
<path d="M86.1,592.2 84.2,592.2 84.2,565.0 89.4,565.9 91.3,566.8 92.7,568.1 94.6,571.8 95.5,577.9 95.4,584.5 94.7,587.4 93.8,589.3 92.5,590.7 90.8,591.6 86.1,592.2Z" fill="rgba(0,0,0,0.07)" stroke="#292929" stroke-width="0.65" stroke-linejoin="round"/>
<path d="M88.5,590.8 84.2,590.9 84.2,566.3 88.0,566.8 90.8,568.2 92.7,570.5 93.7,573.6 94.3,581.2 93.7,586.3 92.8,588.4 91.8,589.5 90.4,590.3 88.5,590.8Z" fill="rgba(0,0,0,0.07)" stroke="#242424" stroke-width="0.65" stroke-linejoin="round"/>
<path d="M87.5,589.4 84.2,589.5 84.2,567.8 87.5,568.2 89.9,569.4 91.6,571.6 92.4,574.5 92.9,581.2 92.4,585.5 91.8,586.9 90.5,588.4 87.5,589.4Z" fill="rgba(0,0,0,0.07)" stroke="#1f1f1f" stroke-width="0.65" stroke-linejoin="round"/>
<path d="M84.7,587.9 84.2,587.9 84.2,569.4 87.5,570.1 89.6,571.6 90.7,574.5 91.3,579.8 91.1,583.6 89.9,586.3 88.0,587.5 84.7,587.9Z" fill="rgba(0,0,0,0.07)" stroke="#191919" stroke-width="0.65" stroke-linejoin="round"/>
<path d="M85.1,586.0 84.2,586.0 84.2,571.3 86.6,571.8 88.1,573.1 88.9,575.1 89.5,578.8 89.4,582.1 88.8,584.1 87.5,585.4 85.1,586.0Z" fill="rgba(0,0,0,0.07)" stroke="#141414" stroke-width="0.65" stroke-linejoin="round"/>
<path d="M85.1,583.6 84.2,583.8 84.2,573.7 85.3,574.0 86.4,575.0 87.3,578.3 87.0,581.8 86.1,583.1 85.1,583.6Z" fill="rgba(0,0,0,0.07)" stroke="#0f0f0f" stroke-width="0.65" stroke-linejoin="round"/><path d="M84.2,561.8C85.0,556.3 87.5,561.5 88.7,562.6C90.0,563.7 91.1,566.0 91.7,568.7C92.4,571.3 92.5,575.0 92.5,578.5C92.5,582.1 92.4,587.1 91.7,589.9C91.1,592.7 90.0,594.2 88.7,595.2C87.5,596.3 85.0,601.6 84.2,596.0C83.4,590.4 83.4,567.4 84.2,561.8Z" fill="#111"/><ellipse cx="88.7" cy="571.0" rx="1.5" ry="1.4" fill="#bbb"/><ellipse cx="89.1" cy="583.9" rx="1.7" ry="1.5" fill="#bbb"/>
<rect x="113" y="563.8" width="41.19999999999999" height="30.800000000000068" fill="none" stroke="#8c8c8c" stroke-width="0.7"/>
<text x="131.2" y="557.7" font-size="7.5" text-anchor="middle" fill="#111">9.81</text>
<rect x="176.0" y="536.8" width="77.0" height="75.90000000000009" fill="none" stroke="#a0a0a0" stroke-width="0.8"/>
<path d="M218.1,610.4 213.3,610.3 211.4,609.7 209.4,608.6 201.2,600.1 195.3,594.6 194.0,592.7 193.2,590.3 193.1,587.4 194.0,584.5 195.3,582.6 198.8,579.0 202.1,572.6 203.9,570.7 206.0,569.1 208.0,568.0 210.9,567.1 213.8,567.0 216.7,567.4 219.1,568.4 221.4,570.2 224.3,573.6 226.5,576.9 228.1,580.7 229.0,584.5 229.4,588.8 229.2,592.7 228.1,599.3 226.7,603.6 225.2,606.5 223.5,608.3 221.0,609.6 218.1,610.4Z" fill="rgba(0,0,0,0.015)" stroke="#6e6e6e" stroke-width="0.65" stroke-linejoin="round"/>
<path d="M219.1,607.9 216.7,608.4 214.3,608.2 212.3,607.6 210.4,606.5 208.4,604.6 202.2,597.1 198.0,592.7 196.5,589.8 196.4,587.9 197.0,586.0 200.7,580.7 203.5,574.0 205.1,572.2 207.0,570.7 210.9,569.0 213.3,568.8 215.7,569.2 218.1,570.1 220.1,571.5 222.8,574.5 224.7,577.4 226.7,583.1 227.4,587.4 227.4,590.7 225.7,600.3 224.5,603.2 223.0,605.4 221.1,607.0 219.1,607.9Z" fill="rgba(0,0,0,0.015)" stroke="#686868" stroke-width="0.65" stroke-linejoin="round"/>
<path d="M218.1,606.5 216.2,606.8 213.8,606.4 211.8,605.5 210.1,604.1 204.6,596.9 201.4,591.7 200.4,589.3 200.6,586.4 204.3,575.5 205.7,573.6 207.5,572.1 209.4,571.0 211.4,570.4 213.8,570.3 216.2,570.8 218.1,571.8 219.7,573.1 222.1,575.9 223.6,578.3 224.8,581.2 225.6,584.5 226.0,588.4 226.0,591.2 224.2,599.8 223.2,602.2 221.9,604.1 220.1,605.7 218.1,606.5Z" fill="rgba(0,0,0,0.015)" stroke="#626262" stroke-width="0.65" stroke-linejoin="round"/>
<path d="M217.6,605.1 215.7,605.3 213.8,604.8 212.3,604.1 210.7,602.7 205.9,596.0 203.9,591.7 203.1,589.3 203.0,587.4 203.3,584.5 205.4,576.4 206.5,574.7 208.0,573.4 211.4,571.7 213.3,571.6 215.7,572.1 217.6,573.1 219.1,574.3 221.2,576.9 222.7,579.3 224.4,585.0 224.8,588.4 224.8,591.2 222.9,599.3 222.0,601.4 220.7,603.2 219.1,604.5 217.6,605.1Z" fill="rgba(0,0,0,0.015)" stroke="#5c5c5c" stroke-width="0.65" stroke-linejoin="round"/>
<path d="M217.6,603.8 216.2,604.0 214.3,603.7 211.4,601.7 207.0,595.5 205.7,592.7 204.7,589.3 204.6,584.5 206.2,577.4 207.0,575.9 208.4,574.5 209.9,573.5 211.8,572.9 213.8,572.8 215.7,573.3 217.6,574.5 219.1,575.9 221.9,580.2 223.6,586.0 223.8,591.2 222.1,598.4 220.4,601.7 219.1,603.0 217.6,603.8Z" fill="rgba(0,0,0,0.015)" stroke="#565656" stroke-width="0.65" stroke-linejoin="round"/>
<path d="M216.2,602.7 214.7,602.5 213.3,601.8 210.5,598.9 207.5,594.1 205.9,588.8 205.9,584.1 207.3,577.9 209.4,575.2 212.3,574.0 214.3,574.1 215.7,574.6 217.5,575.9 219.1,577.7 221.4,581.7 222.9,587.4 222.8,592.2 220.7,598.9 218.7,601.7 216.2,602.7Z" fill="rgba(0,0,0,0.015)" stroke="#505050" stroke-width="0.65" stroke-linejoin="round"/>
<path d="M216.2,601.2 213.8,600.5 210.9,597.5 208.2,593.1 207.0,588.8 207.0,584.5 208.3,578.8 209.9,576.5 212.3,575.3 213.8,575.4 215.2,575.8 218.1,578.4 220.6,582.4 222.1,587.4 222.0,591.7 220.1,597.4 218.2,600.3 216.2,601.2Z" fill="rgba(0,0,0,0.015)" stroke="#4b4b4b" stroke-width="0.65" stroke-linejoin="round"/>
<path d="M216.7,599.4 214.7,599.4 212.3,597.5 209.6,593.6 208.2,589.8 208.0,586.0 209.1,580.2 210.4,578.0 212.3,576.9 214.7,577.2 217.3,579.3 219.8,583.1 221.3,587.4 221.4,590.3 220.6,593.6 218.6,597.6 216.7,599.4Z" fill="rgba(0,0,0,0.015)" stroke="#454545" stroke-width="0.65" stroke-linejoin="round"/>
<path d="M216.7,597.4 215.7,597.7 214.7,597.6 212.3,595.8 210.4,593.1 209.2,589.8 209.0,586.4 210.0,582.1 211.1,579.8 212.8,578.6 214.7,579.0 217.2,581.0 219.3,584.1 220.6,587.4 220.7,589.8 220.1,592.6 218.6,595.4 216.7,597.4Z" fill="rgba(0,0,0,0.015)" stroke="#3f3f3f" stroke-width="0.65" stroke-linejoin="round"/>
<path d="M216.7,595.6 214.7,595.9 212.8,594.7 211.2,592.7 210.1,589.8 210.0,586.9 210.7,584.1 211.8,581.7 213.3,580.7 215.2,581.2 217.2,582.8 218.8,585.0 219.8,587.4 220.0,589.8 219.6,591.7 218.1,594.3 216.7,595.6Z" fill="rgba(0,0,0,0.015)" stroke="#393939" stroke-width="0.65" stroke-linejoin="round"/>
<path d="M216.7,594.1 215.2,594.5 213.8,594.1 212.3,592.7 211.1,590.3 210.9,587.9 211.4,585.6 212.3,583.7 213.8,582.7 215.2,582.9 217.2,584.4 218.4,586.0 219.1,587.8 219.2,589.8 218.9,591.2 218.1,592.7 216.7,594.1Z" fill="rgba(0,0,0,0.015)" stroke="#333333" stroke-width="0.65" stroke-linejoin="round"/>
<path d="M215.7,593.2 214.3,593.0 213.3,592.3 212.3,590.9 211.9,589.3 211.8,587.9 212.3,586.2 213.3,584.9 214.3,584.4 215.2,584.5 216.7,585.4 217.6,586.5 218.4,588.4 218.4,589.8 218.0,591.2 217.2,592.4 215.7,593.2Z" fill="rgba(0,0,0,0.015)" stroke="#2d2d2d" stroke-width="0.65" stroke-linejoin="round"/>
<path d="M215.7,591.8 214.7,591.8 213.9,591.2 212.9,589.3 213.3,587.1 214.7,586.0 216.2,586.5 217.4,588.4 217.2,590.5 215.7,591.8Z" fill="rgba(0,0,0,0.015)" stroke="#282828" stroke-width="0.65" stroke-linejoin="round"/>
<rect x="204.3" y="562.2" width="26.599999999999994" height="27.199999999999932" fill="none" stroke="#8c8c8c" stroke-width="0.7"/>
<rect x="204.3" y="591.0" width="27.19999999999999" height="19.899999999999977" fill="none" stroke="#8c8c8c" stroke-width="0.7"/>
<text x="216.2" y="558.0" font-size="7.5" text-anchor="middle" fill="#111">40.3</text>
<text x="192.3" y="608.5" font-size="7.5" text-anchor="middle" fill="#111">28.2</text>
<text x="0" y="0" font-size="9.4" transform="translate(78.6,612.3) rotate(-90)" textLength="15.3" lengthAdjust="spacingAndGlyphs">CD3</text>
<line x1="80.6" y1="612.3" x2="80.6" y2="585.1" stroke="#000" stroke-width="1.5"/>
<path d="M80.6,580.6 L77.6,585.6 L83.6,585.6 Z" fill="#000"/>
<text x="85.2" y="622.5" font-size="9.0" text-anchor="start" fill="#000" textLength="10.6" lengthAdjust="spacingAndGlyphs">Tet</text>
<line x1="100.4" y1="619.5" x2="131.3" y2="619.5" stroke="#000" stroke-width="1.5"/>
<path d="M135.8,619.5 L130.8,616.5 L130.8,622.5 Z" fill="#000"/>
<text x="0" y="0" font-size="9.4" transform="translate(170.9,613) rotate(-90)" textLength="26.8" lengthAdjust="spacingAndGlyphs">CXCR5</text>
<line x1="173.5" y1="612.3" x2="173.5" y2="583.7" stroke="#000" stroke-width="1.5"/>
<path d="M173.5,579.2 L170.5,584.2 L176.5,584.2 Z" fill="#000"/>
<text x="174.6" y="623.0" font-size="9.4" text-anchor="start" fill="#000" textLength="14.6" lengthAdjust="spacingAndGlyphs">PD1</text>
<line x1="192.3" y1="619.5" x2="222.4" y2="619.5" stroke="#000" stroke-width="1.5"/>
<path d="M226.9,619.5 L221.9,616.5 L221.9,622.5 Z" fill="#000"/>
<line x1="287.7" y1="353.1" x2="287.7" y2="549.3000000000001" stroke="#000" stroke-width="1.2"/>
<line x1="287.09999999999997" y1="548.7" x2="487.3" y2="548.7" stroke="#000" stroke-width="1.2"/>
<line x1="285.3" y1="548.7" x2="287.7" y2="548.7" stroke="#000" stroke-width="1.1"/>
<text x="285.4" y="551.1" font-size="6.7" text-anchor="end" fill="#000">0</text>
<line x1="285.3" y1="509.70000000000005" x2="287.7" y2="509.70000000000005" stroke="#000" stroke-width="1.1"/>
<text x="285.4" y="512.1" font-size="6.7" text-anchor="end" fill="#000">2</text>
<line x1="285.3" y1="470.70000000000005" x2="287.7" y2="470.70000000000005" stroke="#000" stroke-width="1.1"/>
<text x="285.4" y="473.1" font-size="6.7" text-anchor="end" fill="#000">4</text>
<line x1="285.3" y1="431.70000000000005" x2="287.7" y2="431.70000000000005" stroke="#000" stroke-width="1.1"/>
<text x="285.4" y="434.1" font-size="6.7" text-anchor="end" fill="#000">6</text>
<line x1="285.3" y1="392.70000000000005" x2="287.7" y2="392.70000000000005" stroke="#000" stroke-width="1.1"/>
<text x="285.4" y="395.1" font-size="6.7" text-anchor="end" fill="#000">8</text>
<line x1="285.3" y1="353.70000000000005" x2="287.7" y2="353.70000000000005" stroke="#000" stroke-width="1.1"/>
<text x="285.4" y="356.1" font-size="6.7" text-anchor="end" fill="#000">10</text>
<line x1="321" y1="548.7" x2="321" y2="551.1" stroke="#000" stroke-width="1.1"/>
<line x1="386.3" y1="548.7" x2="386.3" y2="551.1" stroke="#000" stroke-width="1.1"/>
<line x1="451.4" y1="548.7" x2="451.4" y2="551.1" stroke="#000" stroke-width="1.1"/>
<rect x="296.3" y="473.235" width="12.7" height="75.46500000000003" fill="#000" stroke="none" stroke-width="1"/>
<line x1="302.65000000000003" y1="473.235" x2="302.65000000000003" y2="469.33500000000004" stroke="#000" stroke-width="0.9"/>
<line x1="299.65000000000003" y1="469.33500000000004" x2="305.65000000000003" y2="469.33500000000004" stroke="#000" stroke-width="1.0"/>
<rect x="315.4" y="474.71500000000003" width="11.299999999999999" height="73.985" fill="#fff" stroke="#000" stroke-width="1.4"/>
<line x1="321.05" y1="474.01500000000004" x2="321.05" y2="470.70000000000005" stroke="#000" stroke-width="0.9"/>
<line x1="318.05" y1="470.70000000000005" x2="324.05" y2="470.70000000000005" stroke="#000" stroke-width="1.0"/>
<rect x="332.2" y="535.44" width="12.7" height="13.259999999999991" fill="#7a7a7a" stroke="none" stroke-width="1"/>
<line x1="338.55" y1="535.44" x2="338.55" y2="534.855" stroke="#000" stroke-width="0.9"/>
<line x1="335.55" y1="534.855" x2="341.55" y2="534.855" stroke="#000" stroke-width="1.0"/>
<rect x="362.3" y="395.0400000000001" width="12.7" height="153.65999999999997" fill="#000" stroke="none" stroke-width="1"/>
<line x1="368.65000000000003" y1="395.0400000000001" x2="368.65000000000003" y2="388.21500000000003" stroke="#000" stroke-width="0.9"/>
<line x1="365.65000000000003" y1="388.21500000000003" x2="371.65000000000003" y2="388.21500000000003" stroke="#000" stroke-width="1.0"/>
<rect x="380.5" y="468.475" width="11.299999999999999" height="80.22500000000001" fill="#fff" stroke="#000" stroke-width="1.4"/>
<line x1="386.15000000000003" y1="467.77500000000003" x2="386.15000000000003" y2="456.07500000000005" stroke="#000" stroke-width="0.9"/>
<line x1="383.15000000000003" y1="456.07500000000005" x2="389.15000000000003" y2="456.07500000000005" stroke="#000" stroke-width="1.0"/>
<rect x="397.4" y="507.75000000000006" width="12.7" height="40.94999999999999" fill="#7a7a7a" stroke="none" stroke-width="1"/>
<line x1="403.75" y1="507.75000000000006" x2="403.75" y2="503.46000000000004" stroke="#000" stroke-width="0.9"/>
<line x1="400.75" y1="503.46000000000004" x2="406.75" y2="503.46000000000004" stroke="#000" stroke-width="1.0"/>
<rect x="427.1" y="392.11500000000007" width="12.7" height="156.58499999999998" fill="#000" stroke="none" stroke-width="1"/>
<line x1="433.45000000000005" y1="392.11500000000007" x2="433.45000000000005" y2="383.5350000000001" stroke="#000" stroke-width="0.9"/>
<line x1="430.45000000000005" y1="383.5350000000001" x2="436.45000000000005" y2="383.5350000000001" stroke="#000" stroke-width="1.0"/>
<rect x="445.9" y="471.985" width="11.299999999999999" height="76.71500000000002" fill="#fff" stroke="#000" stroke-width="1.4"/>
<line x1="451.55" y1="471.285" x2="451.55" y2="468.55500000000006" stroke="#000" stroke-width="0.9"/>
<line x1="448.55" y1="468.55500000000006" x2="454.55" y2="468.55500000000006" stroke="#000" stroke-width="1.0"/>
<rect x="462.9" y="471.67500000000007" width="12.7" height="77.02499999999998" fill="#7a7a7a" stroke="none" stroke-width="1"/>
<line x1="469.25" y1="471.67500000000007" x2="469.25" y2="471.09000000000003" stroke="#000" stroke-width="0.9"/>
<line x1="466.25" y1="471.09000000000003" x2="472.25" y2="471.09000000000003" stroke="#000" stroke-width="1.0"/>
<text x="304.1" y="463.8" font-size="8.2" text-anchor="middle" fill="#000">ns</text>
<circle cx="317.80" cy="461.7" r="1.05" fill="#111"/>
<circle cx="321.00" cy="461.7" r="1.05" fill="#111"/>
<text x="338" y="531.5999999999999" font-size="8.2" text-anchor="middle" fill="#000">ns</text>
<circle cx="366.90" cy="383.3" r="1.05" fill="#111"/>
<circle cx="370.10" cy="383.3" r="1.05" fill="#111"/>
<circle cx="385.20" cy="448.3" r="1.05" fill="#111"/>
<text x="404.2" y="499.1" font-size="8.2" text-anchor="middle" fill="#000">ns</text>
<circle cx="431.70" cy="380.2" r="1.05" fill="#111"/>
<circle cx="434.90" cy="380.2" r="1.05" fill="#111"/>
<circle cx="449.20" cy="461.5" r="1.05" fill="#111"/>
<circle cx="452.40" cy="461.5" r="1.05" fill="#111"/>
<circle cx="469.70" cy="464.8" r="1.05" fill="#111"/>
<rect x="353.3" y="333.5" width="9.6" height="4.6" fill="#000" stroke="none" stroke-width="1"/>
<rect x="353.9" y="343.0" width="8.4" height="3.4" fill="#fff" stroke="#000" stroke-width="1.2"/>
<rect x="353.3" y="351.4" width="9.6" height="4.1" fill="#7a7a7a" stroke="none" stroke-width="1"/>
<text x="366.1" y="338.1" font-size="7.4" text-anchor="start" fill="#000">ICOS<tspan baseline-shift="35%" font-size="70%">+</tspan></text>
<text x="366.1" y="347.3" font-size="7.4" text-anchor="start" fill="#000">Bcl-6<tspan baseline-shift="35%" font-size="70%">+</tspan></text>
<text x="366.1" y="355.4" font-size="7.4" text-anchor="start" fill="#000">IL-21<tspan baseline-shift="35%" font-size="70%">+</tspan></text>
<text x="323.8" y="560.8" font-size="8.0" text-anchor="middle" fill="#000" textLength="33.5" lengthAdjust="spacingAndGlyphs"><tspan font-family="Liberation Serif" font-size="110%">&#945;</tspan>-GalCer</text>
<text x="322.7" y="570.9" font-size="8.0" text-anchor="middle" fill="#000">Tet<tspan baseline-shift="35%" font-size="70%">+</tspan></text>
<text x="386.9" y="560.8" font-size="8.0" text-anchor="middle" fill="#000" textLength="31.7" lengthAdjust="spacingAndGlyphs">&#946;GL1-22</text>
<text x="386.9" y="570.9" font-size="8.0" text-anchor="middle" fill="#000">Tet<tspan baseline-shift="35%" font-size="70%">+</tspan></text>
<text x="451.3" y="560.8" font-size="8.0" text-anchor="middle" fill="#000">LGL1</text>
<text x="451.3" y="570.9" font-size="8.0" text-anchor="middle" fill="#000">Tet<tspan baseline-shift="35%" font-size="70%">+</tspan></text>
<text x="0" y="0" font-size="8.2" transform="translate(267.0,442.7) rotate(-90)" text-anchor="middle" textLength="82.8" lengthAdjust="spacingAndGlyphs">Fold change of % cells</text>
<text x="0" y="0" font-size="8.2" transform="translate(274.8,442.3) rotate(-90)" text-anchor="middle" textLength="93" lengthAdjust="spacingAndGlyphs">(relative to non-TFH cells)</text>
</svg></body></html>
